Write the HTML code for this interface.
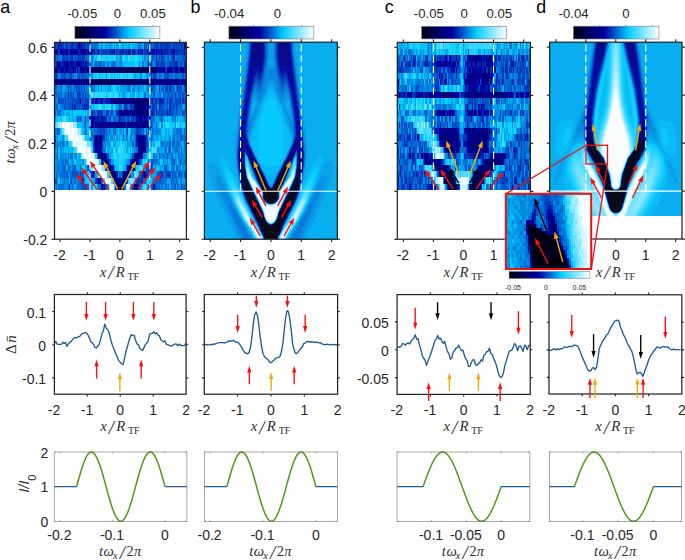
<!DOCTYPE html>
<html><head><meta charset="utf-8"><title>fig</title><style>html,body{margin:0;padding:0;background:#fff}svg{display:block}</style></head><body>
<svg width="685" height="560" viewBox="0 0 685 560" font-family="Liberation Sans, sans-serif" font-size="12px" fill="#262626">
<defs>
<filter id="bl" x="-5%" y="-5%" width="110%" height="110%" color-interpolation-filters="sRGB"><feGaussianBlur stdDeviation="0.6"/></filter>
<clipPath id="cpa"><rect x="54.5" y="42.4" width="131.9" height="147.5"/></clipPath>
<clipPath id="cpb"><rect x="204.4" y="42.2" width="132.9" height="197"/></clipPath>
<clipPath id="cpc"><rect x="397.3" y="42.4" width="133.1" height="147.3"/></clipPath>
<clipPath id="cpd"><rect x="549.7" y="42.2" width="132.3" height="173.7"/></clipPath>
<linearGradient id="cb"><stop offset="0" stop-color="#00000c"/><stop offset="0.2" stop-color="#000068"/><stop offset="0.36" stop-color="#0000a0"/><stop offset="0.5" stop-color="#0060d0"/><stop offset="0.64" stop-color="#00ccff"/><stop offset="0.82" stop-color="#80e6ff"/><stop offset="1" stop-color="#ffffff"/></linearGradient>
<pattern id="xh" width="3.4" height="6.4" patternUnits="userSpaceOnUse"><path d="M0 0L3.4 6.4M3.4 0L0 6.4" stroke="#fff" stroke-width="0.7" opacity="0.09"/><path d="M1.7 0L3.4 3.2L1.7 6.4L0 3.2z" fill="none" stroke="#003080" stroke-width="0.6" opacity="0.06"/></pattern>
</defs>
<rect width="685" height="560" fill="#fff"/>
<g transform="translate(54.5 45.47) scale(1.319 6.1458)" fill="none" stroke-width="1" shape-rendering="crispEdges" >
<path stroke="#00003f" d="M59 4h1M62 4h1M50 23h1"/>
<path stroke="#000050" d="M32 4h1M34 4h2M38 4h1M41 4h1M45 4h1M48 4h1M53 4h1M57 4h1M61 4h1M65 4h4M70 4h2M73 4h1M75 4h1M34 6h1M39 6h2M43 6h1M51 6h1M57 6h1M70 6h1M62 9h1M49 23h1M51 23h1"/>
<path stroke="#000061" d="M27 4h5M33 4h1M36 4h1M39 4h2M43 4h1M47 4h1M50 4h1M52 4h1M54 4h2M58 4h1M63 4h1M76 4h2M15 6h1M28 6h2M32 6h1M35 6h2M42 6h1M47 6h1M49 6h1M52 6h1M54 6h1M59 6h1M61 6h2M66 6h1M69 6h1M73 6h2M63 9h1M65 10h1M44 21h1M48 23h1"/>
<path stroke="#000070" d="M37 4h1M42 4h1M46 4h1M49 4h1M51 4h1M56 4h1M60 4h1M64 4h1M69 4h1M72 4h1M74 4h1M0 6h1M4 6h1M8 6h1M24 6h2M30 6h1M37 6h1M41 6h1M45 6h2M53 6h1M55 6h2M58 6h1M60 6h1M67 6h1M71 6h2M75 6h1M92 6h1M45 9h2M49 9h2M57 9h1M59 9h1M67 9h1M62 10h2M64 11h1M34 15h1M66 16h1M35 18h1M60 19h2M57 20h1M45 21h1M48 22h1M51 22h1"/>
<path stroke="#00007d" d="M26 4h1M44 4h1M95 4h1M6 6h2M12 6h1M26 6h1M31 6h1M33 6h1M38 6h1M44 6h1M48 6h1M50 6h1M63 6h1M68 6h1M77 6h1M83 6h1M85 6h1M88 6h1M93 6h1M47 9h2M52 9h2M55 9h1M58 9h1M64 9h3M68 9h3M72 9h1M64 10h1M67 10h1M50 11h2M53 11h1M57 11h1M62 11h2M65 11h1M68 11h1M28 13h1M34 13h1M36 13h1M49 13h3M55 13h1M62 13h2M66 13h2M31 15h1M63 15h2M32 16h1M64 16h1M67 16h1M33 17h1M64 17h1M61 18h1M63 18h1M37 19h3M42 20h1M58 20h2M53 21h3M46 22h1M52 22h1M47 23h1M60 23h1"/>
<path stroke="#00008a" d="M23 1h1M26 1h1M9 4h1M21 4h1M24 4h1M86 4h1M88 4h1M92 4h1M2 6h2M5 6h1M9 6h1M13 6h1M16 6h1M21 6h3M27 6h1M64 6h2M78 6h2M81 6h1M84 6h1M87 6h1M89 6h2M94 6h1M97 6h1M44 9h1M51 9h1M54 9h1M60 9h2M61 10h1M66 10h1M68 10h1M71 10h1M52 11h1M54 11h2M58 11h3M66 11h2M69 11h2M36 12h1M37 13h1M42 13h2M46 13h2M56 13h1M58 13h2M61 13h1M70 13h1M67 15h1M33 16h1M35 16h1M65 16h1M31 17h1M65 17h1M67 17h1M34 18h1M36 18h2M64 18h2M41 20h1M43 21h1M46 21h1M68 21h1M33 22h1M45 22h1M47 22h1M50 22h1M53 22h1"/>
<path stroke="#000097" d="M1 1h1M4 1h2M12 1h1M15 1h1M17 1h1M21 1h1M24 1h1M28 1h1M9 3h1M16 3h1M18 3h1M2 4h1M5 4h2M13 4h1M15 4h1M19 4h1M22 4h1M25 4h1M79 4h1M85 4h1M87 4h1M91 4h1M93 4h1M97 4h1M99 4h1M1 6h1M10 6h2M14 6h1M17 6h2M20 6h1M76 6h1M80 6h1M82 6h1M86 6h1M91 6h1M96 6h1M98 6h1M29 9h1M35 9h1M42 9h1M56 9h1M71 9h1M70 10h1M61 11h1M64 12h2M68 12h1M31 13h1M33 13h1M38 13h4M45 13h1M48 13h1M52 13h2M57 13h1M64 13h2M68 13h2M32 15h1M65 15h2M31 16h1M34 16h1M63 16h1M66 17h1M68 17h1M33 18h1M62 18h1M36 19h1M59 19h1M62 19h1M39 20h1M55 20h2M29 21h1M52 21h1M56 21h1M49 22h1M36 23h1M52 23h1M61 23h2"/>
<path stroke="#0007a4" d="M18 0h1M20 0h1M26 0h1M98 0h2M0 1h1M2 1h1M6 1h4M13 1h2M16 1h1M19 1h2M22 1h1M33 1h1M45 1h1M56 1h1M63 1h1M66 1h1M72 1h1M74 1h2M77 1h1M81 1h1M89 1h2M2 3h3M7 3h2M10 3h1M12 3h3M17 3h1M20 3h1M23 3h2M0 4h2M4 4h1M8 4h1M11 4h1M14 4h1M17 4h1M20 4h1M78 4h1M80 4h4M96 4h1M19 6h1M99 6h1M19 9h1M31 9h2M36 9h1M39 9h1M43 9h1M60 10h1M69 10h1M49 11h1M56 11h1M71 11h2M27 12h4M49 12h1M62 12h1M66 12h1M69 12h2M72 12h1M27 13h1M29 13h1M32 13h1M35 13h1M44 13h1M60 13h1M35 15h1M62 15h1M68 15h1M30 16h1M68 16h1M32 17h1M34 17h2M63 17h1M38 18h1M66 18h1M40 19h1M58 19h1M40 20h1M43 20h1M60 20h1M34 22h1M35 23h1"/>
<path stroke="#0021b0" d="M3 0h1M5 0h1M13 0h1M16 0h1M19 0h1M22 0h1M85 0h1M96 0h1M10 1h2M18 1h1M25 1h1M30 1h1M39 1h1M41 1h1M43 1h2M50 1h3M54 1h1M57 1h1M59 1h2M65 1h1M70 1h1M73 1h1M78 1h3M83 1h3M88 1h1M93 1h1M98 1h1M13 2h1M77 2h1M90 2h1M1 3h1M6 3h1M11 3h1M15 3h1M19 3h1M21 3h1M92 3h2M98 3h1M3 4h1M7 4h1M10 4h1M12 4h1M23 4h1M89 4h2M94 4h1M98 4h1M73 5h1M95 6h1M8 9h1M26 9h2M34 9h1M40 9h2M74 9h1M77 9h1M79 9h3M95 9h1M13 10h1M15 10h1M22 10h1M24 10h1M79 10h1M87 10h1M33 11h1M35 11h1M48 11h1M74 11h1M77 11h1M85 11h1M31 12h5M37 12h1M63 12h1M67 12h1M30 13h1M54 13h1M71 13h1M30 15h1M33 15h1M36 15h1M36 16h1M62 16h1M39 18h1M60 18h1M57 19h1M63 19h1M44 20h1M27 21h1M42 21h1M47 21h1M66 21h2M21 22h1M32 22h1M63 22h1M66 22h1M11 23h1M37 23h1M46 23h1M63 23h1M75 23h1"/>
<path stroke="#003abd" d="M0 0h1M2 0h1M4 0h1M6 0h1M8 0h2M12 0h1M14 0h1M17 0h1M21 0h1M25 0h1M71 0h1M76 0h3M80 0h2M83 0h2M86 0h2M90 0h1M92 0h1M94 0h1M3 1h1M27 1h1M29 1h1M32 1h1M36 1h3M42 1h1M47 1h1M49 1h1M53 1h1M55 1h1M61 1h1M64 1h1M68 1h2M71 1h1M76 1h1M82 1h1M86 1h2M91 1h2M94 1h4M0 2h1M6 2h2M9 2h1M12 2h1M18 2h2M21 2h2M81 2h1M5 3h1M22 3h1M25 3h1M71 3h1M73 3h1M77 3h2M81 3h1M83 3h1M87 3h1M90 3h2M99 3h1M18 4h1M84 4h1M1 5h1M7 5h1M12 5h1M75 5h2M85 5h1M10 7h1M16 7h1M22 7h1M73 7h1M79 7h1M85 7h1M87 7h1M93 7h1M99 7h1M10 8h1M14 8h1M17 8h2M91 8h1M3 9h1M10 9h1M13 9h1M16 9h1M18 9h1M23 9h1M25 9h1M28 9h1M30 9h1M33 9h1M37 9h2M73 9h1M76 9h1M82 9h1M85 9h1M87 9h2M91 9h3M97 9h1M99 9h1M21 10h1M23 10h1M25 10h1M53 10h2M57 10h3M72 10h1M74 10h2M77 10h1M80 10h1M92 10h1M99 10h1M28 11h1M30 11h1M32 11h1M34 11h1M39 11h2M47 11h1M73 11h1M75 11h1M81 11h1M87 11h1M26 12h1M38 12h2M42 12h1M50 12h1M52 12h1M55 12h2M58 12h2M61 12h1M73 13h1M35 14h1M37 14h1M55 14h1M62 14h2M37 15h1M69 15h1M96 15h1M69 16h1M29 17h2M85 18h1M35 19h1M42 19h1M64 19h1M69 20h1M71 20h3M19 21h1M28 21h1M30 21h1M51 21h1M57 21h1M69 21h2M80 21h2M85 21h3M31 22h1M54 22h1M62 22h1M64 22h2M22 23h1M24 23h1M38 23h1M59 23h1"/>
<path stroke="#0053ca" d="M1 0h1M10 0h2M15 0h1M23 0h2M27 0h1M30 0h1M68 0h1M72 0h2M75 0h1M82 0h1M89 0h1M91 0h1M93 0h1M95 0h1M97 0h1M31 1h1M34 1h2M40 1h1M46 1h1M48 1h1M62 1h1M67 1h1M99 1h1M10 2h1M15 2h3M20 2h1M24 2h1M26 2h1M74 2h1M79 2h1M82 2h2M86 2h1M88 2h2M97 2h3M0 3h1M26 3h2M34 3h1M45 3h1M72 3h1M76 3h1M79 3h2M82 3h1M88 3h2M95 3h2M16 4h1M0 5h1M2 5h1M5 5h2M8 5h1M11 5h1M17 5h2M20 5h2M23 5h1M77 5h1M79 5h1M83 5h2M86 5h1M91 5h1M97 5h1M99 5h1M5 7h1M18 7h1M20 7h1M74 7h2M82 7h1M84 7h1M88 7h1M94 7h3M98 7h1M12 8h1M19 8h1M21 8h1M23 8h1M75 8h1M82 8h1M86 8h1M88 8h1M94 8h2M97 8h1M99 8h1M4 9h3M12 9h1M14 9h2M17 9h1M20 9h3M24 9h1M75 9h1M78 9h1M83 9h1M89 9h1M94 9h1M98 9h1M2 10h1M7 10h2M10 10h3M14 10h1M17 10h3M49 10h1M55 10h1M76 10h1M81 10h2M85 10h1M88 10h3M93 10h1M96 10h1M0 11h1M27 11h1M29 11h1M36 11h1M42 11h2M78 11h3M82 11h3M86 11h1M88 11h2M92 11h1M97 11h2M17 12h1M19 12h1M23 12h1M41 12h1M45 12h1M48 12h1M51 12h1M53 12h1M60 12h1M71 12h1M23 13h1M26 13h1M72 13h1M2 14h1M32 14h3M36 14h1M39 14h1M64 14h2M67 14h1M71 14h2M0 15h1M39 15h1M52 15h1M70 15h1M73 15h1M0 16h1M29 16h1M59 16h1M61 16h1M70 16h1M87 16h1M89 16h1M2 17h1M36 17h1M69 17h1M87 17h1M96 17h1M2 18h1M32 18h1M40 18h1M59 18h1M79 18h1M89 18h1M41 19h1M73 19h2M90 19h1M95 19h1M7 20h1M10 20h1M15 20h1M25 20h1M70 20h1M74 20h1M83 20h1M93 20h1M7 21h1M9 21h1M13 21h5M21 21h1M49 21h1M65 21h1M71 21h1M78 21h2M84 21h1M89 21h1M91 21h1M94 21h1M96 21h1M98 21h2M0 22h2M12 22h1M19 22h2M35 22h1M44 22h1M55 22h1M77 22h1M79 22h2M88 22h1M13 23h1M20 23h2M23 23h1M64 23h1M74 23h1M76 23h2M91 23h1M93 23h1M96 23h1"/>
<path stroke="#006ed6" d="M7 0h1M28 0h1M31 0h2M63 0h2M69 0h1M74 0h1M79 0h1M88 0h1M58 1h1M1 2h3M8 2h1M11 2h1M14 2h1M23 2h1M25 2h1M71 2h1M75 2h2M78 2h1M80 2h1M85 2h1M92 2h5M30 3h3M35 3h1M37 3h1M43 3h2M66 3h2M70 3h1M74 3h1M84 3h3M94 3h1M97 3h1M4 5h1M9 5h2M13 5h2M19 5h1M22 5h1M24 5h2M70 5h1M74 5h1M80 5h1M87 5h3M92 5h3M96 5h1M98 5h1M0 7h2M12 7h1M15 7h1M17 7h1M19 7h1M21 7h1M24 7h1M28 7h1M56 7h1M63 7h1M71 7h1M81 7h1M86 7h1M89 7h2M92 7h1M0 8h6M7 8h3M11 8h1M13 8h1M16 8h1M20 8h1M22 8h1M24 8h2M68 8h1M73 8h1M79 8h2M83 8h3M87 8h1M89 8h2M92 8h1M96 8h1M98 8h1M0 9h1M7 9h1M9 9h1M11 9h1M84 9h1M86 9h1M90 9h1M96 9h1M0 10h2M4 10h1M6 10h1M9 10h1M16 10h1M20 10h1M27 10h1M50 10h1M56 10h1M73 10h1M83 10h2M91 10h1M94 10h2M2 11h3M26 11h1M31 11h1M37 11h2M44 11h1M46 11h1M90 11h2M93 11h3M99 11h1M18 12h1M20 12h1M40 12h1M44 12h1M46 12h2M54 12h1M73 12h3M80 12h2M89 12h1M91 12h1M74 13h1M77 13h1M0 14h1M3 14h1M23 14h2M28 14h1M30 14h2M38 14h1M41 14h1M44 14h3M52 14h1M54 14h1M58 14h1M60 14h2M66 14h1M69 14h1M74 14h1M77 14h1M92 14h5M98 14h1M27 15h3M54 15h1M57 15h2M60 15h2M74 15h1M90 15h1M93 15h1M95 15h1M97 15h3M4 16h1M6 16h1M38 16h1M71 16h2M81 16h2M85 16h1M90 16h1M92 16h3M98 16h2M37 17h1M62 17h1M70 17h1M84 17h1M86 17h1M91 17h3M98 17h1M4 18h1M8 18h1M10 18h1M12 18h2M75 18h1M82 18h1M88 18h1M94 18h1M96 18h1M5 19h2M8 19h3M65 19h1M75 19h3M88 19h2M96 19h1M98 19h2M3 20h1M5 20h2M8 20h1M11 20h1M13 20h2M19 20h1M26 20h1M38 20h1M45 20h1M54 20h1M61 20h1M84 20h1M88 20h1M90 20h1M92 20h1M1 21h1M4 21h3M12 21h1M18 21h1M20 21h1M50 21h1M64 21h1M72 21h1M82 21h2M90 21h1M92 21h1M95 21h1M4 22h1M7 22h1M10 22h1M15 22h1M18 22h1M67 22h2M75 22h2M78 22h1M81 22h4M89 22h2M92 22h2M96 22h1M99 22h1M1 23h1M3 23h4M10 23h1M17 23h3M25 23h2M33 23h2M39 23h1M53 23h1M71 23h1M73 23h1M78 23h2M81 23h1M84 23h1M86 23h1M88 23h1M90 23h1M97 23h3"/>
<path stroke="#008be3" d="M29 0h1M33 0h1M35 0h1M42 0h1M45 0h1M51 0h1M65 0h1M70 0h1M4 2h2M27 2h2M50 2h1M68 2h1M73 2h1M84 2h1M87 2h1M91 2h1M28 3h1M33 3h1M40 3h2M46 3h1M49 3h2M64 3h1M75 3h1M3 5h1M15 5h1M26 5h1M65 5h1M72 5h1M78 5h1M81 5h2M90 5h1M95 5h1M2 7h3M8 7h2M11 7h1M13 7h2M23 7h1M25 7h1M27 7h1M29 7h2M33 7h1M35 7h1M42 7h1M52 7h1M54 7h2M57 7h1M59 7h2M64 7h1M69 7h2M76 7h2M80 7h1M83 7h1M97 7h1M6 8h1M15 8h1M26 8h1M52 8h1M74 8h1M76 8h1M78 8h1M93 8h1M1 9h2M5 10h1M48 10h1M52 10h1M78 10h1M86 10h1M5 11h1M41 11h1M76 11h1M96 11h1M0 12h1M16 12h1M22 12h1M24 12h2M43 12h1M57 12h1M79 12h1M90 12h1M93 12h1M98 12h2M22 13h1M76 13h1M81 13h1M91 13h1M1 14h1M22 14h1M27 14h1M29 14h1M40 14h1M42 14h1M50 14h1M59 14h1M70 14h1M75 14h2M78 14h3M90 14h2M99 14h1M2 15h1M6 15h1M38 15h1M40 15h1M42 15h2M45 15h1M47 15h1M49 15h1M55 15h1M72 15h1M87 15h1M89 15h1M91 15h2M94 15h1M1 16h3M7 16h1M9 16h1M37 16h1M40 16h2M55 16h1M73 16h1M83 16h2M86 16h1M91 16h1M95 16h1M0 17h1M4 17h2M38 17h1M60 17h2M71 17h1M78 17h1M83 17h1M89 17h2M94 17h1M99 17h1M0 18h2M5 18h2M15 18h2M42 18h1M58 18h1M67 18h2M76 18h2M80 18h2M83 18h2M86 18h2M91 18h1M97 18h3M1 19h4M7 19h1M13 19h2M21 19h1M54 19h1M56 19h1M71 19h1M78 19h2M82 19h2M85 19h1M91 19h2M94 19h1M97 19h1M0 20h3M12 20h1M76 20h1M80 20h1M85 20h2M89 20h1M94 20h2M97 20h2M2 21h2M8 21h1M10 21h2M41 21h1M48 21h1M59 21h1M73 21h1M77 21h1M88 21h1M97 21h1M2 22h1M6 22h1M8 22h2M13 22h2M16 22h2M22 22h1M36 22h1M61 22h1M91 22h1M95 22h1M7 23h3M12 23h1M14 23h1M16 23h1M27 23h1M58 23h1M65 23h1M80 23h1M83 23h1M85 23h1M89 23h1M94 23h2"/>
<path stroke="#00a7ef" d="M36 0h1M38 0h4M43 0h1M47 0h2M52 0h1M54 0h1M56 0h1M59 0h1M61 0h2M66 0h2M29 2h1M47 2h1M49 2h1M66 2h1M69 2h2M72 2h1M36 3h1M38 3h2M47 3h2M51 3h1M68 3h2M16 5h1M27 5h2M39 5h1M60 5h2M69 5h1M6 7h2M31 7h1M38 7h1M40 7h2M48 7h1M50 7h2M53 7h1M61 7h2M65 7h3M72 7h1M78 7h1M91 7h1M49 8h1M51 8h1M53 8h1M57 8h1M59 8h2M63 8h2M67 8h1M69 8h4M77 8h1M81 8h1M3 10h1M26 10h1M29 10h1M43 10h1M47 10h1M51 10h1M97 10h2M1 11h1M6 11h2M9 11h3M13 11h1M23 11h1M25 11h1M45 11h1M11 12h1M13 12h2M21 12h1M76 12h3M82 12h2M85 12h1M88 12h1M95 12h1M97 12h1M21 13h1M24 13h2M75 13h1M78 13h1M83 13h1M95 13h1M99 13h1M43 14h1M47 14h1M49 14h1M68 14h1M73 14h1M84 14h1M86 14h1M89 14h1M97 14h1M1 15h1M4 15h1M26 15h1M44 15h1M51 15h1M53 15h1M59 15h1M75 15h4M80 15h2M83 15h2M86 15h1M5 16h1M10 16h1M27 16h1M39 16h1M42 16h1M44 16h3M56 16h3M60 16h1M75 16h1M80 16h1M88 16h1M96 16h2M1 17h1M6 17h1M8 17h1M10 17h1M13 17h1M40 17h2M43 17h1M54 17h2M57 17h1M59 17h1M79 17h4M95 17h1M97 17h1M7 18h1M9 18h1M11 18h1M18 18h1M41 18h1M57 18h1M69 18h1M78 18h1M90 18h1M92 18h2M95 18h1M0 19h1M12 19h1M16 19h4M43 19h2M55 19h1M72 19h1M84 19h1M87 19h1M4 20h1M9 20h1M16 20h3M20 20h1M23 20h2M53 20h1M67 20h2M79 20h1M81 20h2M99 20h1M0 21h1M24 21h1M26 21h1M31 21h1M58 21h1M74 21h3M93 21h1M5 22h1M29 22h2M69 22h1M74 22h1M85 22h3M94 22h1M97 22h2M0 23h1M2 23h1M15 23h1M28 23h1M32 23h1M40 23h1M70 23h1M72 23h1M82 23h1M87 23h1M92 23h1"/>
<path stroke="#00c4fc" d="M34 0h1M37 0h1M46 0h1M50 0h1M53 0h1M55 0h1M57 0h1M60 0h1M31 2h1M35 2h1M39 2h1M54 2h2M64 2h1M67 2h1M29 3h1M42 3h1M52 3h9M63 3h1M65 3h1M29 5h1M34 5h1M36 5h1M45 5h1M49 5h1M55 5h1M62 5h3M66 5h1M68 5h1M71 5h1M26 7h1M32 7h1M34 7h1M36 7h2M39 7h1M43 7h1M47 7h1M68 7h1M39 8h1M50 8h1M55 8h1M58 8h1M62 8h1M65 8h1M28 10h1M37 10h1M46 10h1M12 11h1M14 11h1M16 11h6M1 12h2M4 12h1M10 12h1M12 12h1M15 12h1M84 12h1M86 12h2M92 12h1M94 12h1M96 12h1M17 13h4M88 13h1M90 13h1M4 14h1M21 14h1M25 14h2M48 14h1M51 14h1M53 14h1M57 14h1M81 14h1M83 14h1M85 14h1M87 14h1M3 15h1M5 15h1M7 15h1M23 15h1M25 15h1M41 15h1M48 15h1M50 15h1M56 15h1M71 15h1M79 15h1M85 15h1M88 15h1M8 16h1M26 16h1M28 16h1M47 16h1M49 16h1M51 16h1M53 16h2M74 16h1M3 17h1M7 17h1M9 17h1M11 17h2M42 17h1M46 17h2M52 17h1M72 17h1M85 17h1M88 17h1M3 18h1M14 18h1M19 18h1M43 18h1M48 18h1M56 18h1M11 19h1M20 19h1M23 19h1M46 19h1M48 19h1M53 19h1M66 19h1M70 19h1M81 19h1M86 19h1M27 20h1M46 20h3M52 20h1M75 20h1M78 20h1M87 20h1M91 20h1M96 20h1M22 21h2M32 21h1M11 22h1M23 22h2M26 22h1M28 22h1M72 22h2M66 23h1M69 23h1"/>
<path stroke="#13d0ff" d="M44 0h1M58 0h1M30 2h1M37 2h2M40 2h1M42 2h3M46 2h1M48 2h1M51 2h1M53 2h1M57 2h4M63 2h1M65 2h1M62 3h1M30 5h2M33 5h1M37 5h2M42 5h3M46 5h2M52 5h2M58 5h2M67 5h1M46 7h1M49 7h1M58 7h1M27 8h1M29 8h1M33 8h1M40 8h1M44 8h1M48 8h1M54 8h1M56 8h1M66 8h1M30 10h3M35 10h2M39 10h1M41 10h1M44 10h1M8 11h1M15 11h1M22 11h1M24 11h1M3 12h1M5 12h1M9 12h1M79 13h1M87 13h1M89 13h1M93 13h1M96 13h3M5 14h1M20 14h1M56 14h1M82 14h1M88 14h1M46 15h1M82 15h1M48 16h1M78 16h1M14 17h1M53 17h1M56 17h1M73 17h1M17 18h1M44 18h1M47 18h1M52 18h1M54 18h2M70 18h1M73 18h2M15 19h1M22 19h1M45 19h1M47 19h1M50 19h3M68 19h1M80 19h1M93 19h1M21 20h2M51 20h1M62 20h2M77 20h1M25 21h1M63 21h1M3 22h1M25 22h1M70 22h2M45 23h1"/>
<path stroke="#2dd5ff" d="M49 0h1M32 2h2M36 2h1M41 2h1M61 2h2M61 3h1M32 5h1M35 5h1M40 5h2M48 5h1M50 5h2M54 5h1M56 5h2M44 7h2M30 8h2M34 8h1M36 8h3M41 8h1M43 8h1M45 8h1M47 8h1M61 8h1M33 10h1M38 10h1M40 10h1M45 10h1M6 12h1M0 13h1M80 13h1M84 13h3M94 13h1M9 15h1M24 15h1M11 16h2M43 16h1M50 16h1M52 16h1M76 16h2M79 16h1M15 17h1M39 17h1M44 17h1M50 17h1M58 17h1M77 17h1M31 18h1M45 18h1M49 18h3M53 18h1M71 18h1M34 19h1M49 19h1M67 19h1M50 20h1M66 20h1M40 21h1M27 22h1M60 22h1M29 23h1M31 23h1M57 23h1M67 23h1"/>
<path stroke="#48dbff" d="M34 2h1M45 2h1M52 2h1M56 2h1M32 8h1M35 8h1M42 8h1M46 8h1M34 10h1M42 10h1M7 12h2M82 13h1M92 13h1M28 17h1M45 17h1M48 17h2M51 17h1M74 17h3M46 18h1M69 19h1M49 20h1M64 20h2M62 21h1M37 22h1M56 22h1M30 23h1M68 23h1"/>
<path stroke="#62e0ff" d="M28 8h1M1 13h2M6 14h1M8 15h1M22 15h1M25 16h1M16 17h1M72 18h1M60 21h2M43 22h1"/>
<path stroke="#7ce5ff" d="M16 13h1M19 14h1M13 16h1M20 18h1M24 19h1M28 20h1M37 20h1M57 22h1M59 22h1"/>
<path stroke="#96eaff" d="M3 13h1M5 13h1M14 13h2M18 14h1M30 18h1M36 20h1M33 21h1M58 22h1M54 23h1"/>
<path stroke="#b1f0ff" d="M7 14h1M21 15h1M17 17h1M33 19h1M41 23h1"/>
<path stroke="#cbf5ff" d="M12 13h1M17 14h1M10 15h1M16 16h1M24 16h1M24 17h1M27 17h1M21 18h1M29 20h1M38 21h1M44 23h1M55 23h2"/>
<path stroke="#e5faff" d="M4 13h1M7 13h1M12 14h1M15 14h1M15 15h1M17 15h3M17 16h5M23 16h1M20 17h1M24 18h2M28 18h1M25 19h1M31 19h2M32 20h2M35 20h1M34 21h1M39 22h3M42 23h1"/>
<path stroke="#ffffff" d="M6 13h1M8 13h4M13 13h1M8 14h4M13 14h2M16 14h1M11 15h4M16 15h1M20 15h1M14 16h2M22 16h1M18 17h2M21 17h3M25 17h2M22 18h2M26 18h2M29 18h1M26 19h5M30 20h2M34 20h1M35 21h3M39 21h1M38 22h1M42 22h1M43 23h1"/>
</g>
<g clip-path="url(#cpb)"><g fill-rule="evenodd"><rect x="202.5" y="40.5" width="138" height="202" fill="#00000c"/>
<path fill="#000014" d="M202.5 40.5l138 0l0 202l-65.9 0l.5-2l.4-.7l.4-3.3l2.6-5.8l.3-1.2l.7-1.5l.4-1.5l.6-1.2l.6-1.8l2.4-4.8l.4-1.2l.6-.8l.4-1.2l.6-.9l.4-1.1l.6-.9l.4-1.1l.6-.9l.4-1.1l.6-.9l.3-1.1l.7-1l.3-1l.7-1l.3-1l.7-1l.3-1l.7-1l2-6l.5-2l.5-.9l0-1.9l-1-.9l-1 .4l-1 .9l-2 3.4l-.3 1l-.7 .9l-.4 1.1l-3.6 6.4l-3 6l-1.4 3.6l-.6 .9l-.3 1.1l-1.7 4.4l-.3 1.6l-.7 1.1l-.3 .9l-1.7 2.1l-3 2.6l-1 .3l-1 0l-1-.2l-2-1.5l-1.4-1.3l-1.5-2l-.9-2l-.2-1l-.5-1l-.5-1.6l-.4-.4l-.6-2.6l-.7-1.4l-.3-1l-.6-1l-.4-1.2l-.6-.8l-.4-1.3l-.5-.7l-1.5-3.2l-1.6-2.8l-.4-1l-.7-1l-.3-.8l-.8-1.2l-2.2-4.4l-1-1.7l-1-1.1l-1-.5l-1 .5l-.2 1.2l.2 1.7l.6 1.3l1.4 5.1l12.7 25.9l.3 1.3l.8 1.7l.2 1.1l.5 .9l.5 1.7l1.7 3.3l.3 1.2l.4 .8l.3 1l.3 3l.5 1l.3 1l-64.8 0zM260.5 178.3l0 2.5l1 3l2.5 4.7l1.1 3l0 5l.4 2.2l1 1.3l1.8 1.5l2.2 .4l3-.4l2-1.7l1-1.5l.2-1.8l0-5l.2-1l.6-.9l.3-1.1l.7-1l.3-1l.7-.9l.3-1.1l.7-1l1-3.8l0-1.1l-1-.1l-1 .9l-2 3.3l-.3 .8l-.7 .9l-.4 1.1l-1.7 3l-1.9 1.7l-2 .2l-1-.1l-2-1.8l-.8-1l-1.2-2.7l-3-5.1l-1-1.1z"/>
<path fill="#00001d" d="M202.5 40.5l138 0l0 202l-65.6 0l.6-1.3l.4-2.7l.9-3l1.7-3.2l3.3-8.8l11.7-23.7l3-9.6l.3-3.7l-.1-2l-.2-.5l-1 .1l-1 .9l-2 3.3l-1.4 3.2l-5.6 10.1l-.3 .9l-.7 1l-.3 1l-.7 1l-.3 1l-.7 1l-.3 1l-.7 1.2l-1.5 3.8l-.5 .9l-.3 2.1l-.7 .8l-.4 2.2l-.6 .9l-.3 1.1l-1.4 2l-1.3 1.3l-2 1.5l-1 .5l-1 .1l-3-1.8l-1.5-1.6l-1.3-2l-1-2l-.2-1.7l-.8-1.3l-.2-1.4l-2-4.9l-3-6.2l-3.6-6.5l-.4-1.1l-.6-.9l-.4-1l-.7-1l-.3-.9l-.7-1.1l-1.3-2.9l-2-3.3l-1-1.1l-1-.3l-.4 .6l-.1 2l.5 4.6l.6 1.4l.4 1.9l.5 1.1l.5 2.1l1 2.6l4.7 9.3l.3 .8l.7 1.2l.3 .9l.7 1.1l.3 .9l.7 1.1l.3 1l.7 1l.3 1l.6 1l1.4 3.1l.6 .9l2.4 6.9l2.5 5.1l1.3 5l.2 1.4l.3 .6l-64.3 0zM258.5 175.1l-.2 1.4l.1 1l.9 2l.2 1.1l.5 .9l.5 1.6l3.8 7.4l.3 2l0 5l.9 2.1l2 2l2 .9l2.8 0l2.2-1l1.9-2l.9-3l-.3-4l.2-1l.7-2l.6-.8l1.5-3.2l1.5-2.9l1.4-4.1l.6-1.2l0-2l-1-.3l-1 .2l-1 .5l-1 1.1l-2 4.3l-.5 1.4l-.5 .8l-1.5 3.2l-1.2 2l-2.3 1.6l-1 .1l-2-1.1l-.6-.6l-1.1-2l-.3-1l-.7-1l-.3-.9l-.7-1.1l-.3-1l-.6-1l-.4-1.2l-.5-.8l-.5-1.3l-1-1.3l-1-.7l-1-.2z"/>
<path fill="#000025" d="M202.5 40.5l138 0l0 202l-65.3 0l.3-.6l1.2-5.4l2.8-5.8l2.6-7.2l4.8-10l.6-.9l.4-1.1l.6-.9l.4-1.1l.6-.9l.4-1.1l.6-.9l.4-1.1l.6-.9l.4-1.1l.6-1l.4-1l.6-1l1-2.5l.3-1.5l1.7-4.8l1-4.5l.5-3.7l.1-1l-.6-1.8l-1 0l-1 .9l-1 1.6l-4.3 9.3l-.7 1l-.4 1l-.6 .9l-.4 1.1l-5.6 10.5l-1.5 3.5l-.5 .8l-.3 1.2l-.7 1.2l-.6 2.8l-.4 .5l-.4 1.5l-1.2 3l-1.5 2l-1.9 1.8l-2 1.1l-1 0l-1-.3l-2-1.6l-1.1-1l-1.5-2l-.4-1.2l-.5-.8l-.5-2.2l-.6-.8l-.4-2.3l-.4-.7l-.6-1.8l-.7-1.2l-.3-1l-.6-1l-.4-1.2l-.6-.8l-.4-1.2l-1.6-2.8l-.4-1.1l-.6-.9l-.4-1l-.7-1l-.3-.8l-3.4-6.2l-1.6-3.8l-.7-1.2l-.3-1l-.7-1l-.3-.9l-1-1.7l-1-1.1l-1-.2l-.5 .9l-.4 1l.9 5.7l1 4.1l.5 1.2l1.5 5.1l12.6 25.9l2.4 6.7l2.6 5.3l.4 2.4l.6 1.6l.4 2l-64 0zM257.5 173.2l-.1 1.3l.1 1.4l1 2.9l2 4.9l2.6 4.8l1.2 3l0 5l.2 1.7l1.4 2.3l1.1 1l1.6 1l1.9 .2l2.6-.2l1.7-1l1.7-1.8l1-2.2l-.1-5l.4-2l3.6-7l1.1-2.6l.4-1.4l.6-1.2l1-3.5l0-1.3l-1-.6l-1 .2l-1 .5l-1 1.1l-1 1.4l-1 1.9l-2.3 5.5l-.7 1.1l-1.3 2.9l-.8 1l-.9 .8l-1 .5l-1 .1l-1-.5l-1-.8l-.8-1.1l-2.6-5l-2.6-6.2l-1-1.4l-1-1.1l-1-.6l-1-.3z"/>
<path fill="#00002d" d="M202.5 40.5l138 0l0 202l-65 0l1.4-6l2.6-5.2l2.4-6.8l12.6-25.8l1.5-5.2l.5-1.1l1-3.9l.3-2l.7-2.5l.2-1.5l-.2-4l-1-.7l-1 1l-1.1 1.7l-.9 1.7l-.4 1.3l-.6 .9l-.4 1.1l-.6 1l-.3 1l-2.3 5l-4.4 8.1l-.3 .9l-.7 1l-.3 1l-.7 1l-.3 1l-1.7 3.1l-.3 .9l-1.7 3.7l-2.3 7.3l-1.1 2l-1.6 1.7l-1 .8l-2 1.2l-1 .1l-2-1.1l-1-.8l-1.7-1.9l-.7-1l-1.3-3l-.3-1.5l-.4-.5l-.6-2.8l-2-4.6l-3-6.1l-6.6-12.5l-1.4-3.4l-3-6.5l-1-1.5l-1-1.1l-1 .1l-.3 3.4l.3 3.4l2 8.1l.6 1.5l1.4 4.7l11.5 23.3l3.5 9.2l2.4 4.8l.3 1l.3 2.1l.4 .9l.5 2l-63.9 0zM256.5 171.3l0 1.7l1 3.8l.8 1.7l.2 1l.6 1l.4 1.4l1 2.2l3.7 7.4l.1 1l-.1 4l.3 2.2l1.1 1.8l1.1 1l1.6 1l2.2 .3l3-.3l1.6-1l1.4-1.5l1-1.9l.2-1.6l-.1-4l.4-2l4.5-9l.2-1l1.8-4.3l.8-3.7l0-1l-.8-.7l-1 .2l-1 .5l-1 1.1l-2 2.9l-1 1.9l-.3 1.1l-.7 1.3l-1.5 3.7l-2.1 4l-.7 1l-.7 .7l-1 .3l-1 .1l-1-.3l-.9-.8l-.7-1l-3-6l-1.4-3.6l-1-2l-2-3l-1-1.2l-1-.6l-1-.3z"/>
<path fill="#000036" d="M202.5 40.5l138 0l0 202l-64.9 0l1.5-6l2.4-4.8l2.6-7.2l12.4-25.3l2-6.3l2-7.8l.4-2.6l.2-4l-.1-2l-.5-1.7l-1 .9l-.2 .8l-1.8 3l-.3 1l-.7 1l-.3 1l-1.7 3.6l-2.2 5.4l-5.8 10.7l-3 6.1l-.4 1.2l-.6 1l-.3 1l-.7 1.3l-2.4 7.7l-1.2 2l-1.4 1.5l-3 2l-1 .1l-3-1.9l-1.6-1.7l-1.2-2l-1.4-4l-.8-3.2l-3-6.7l-8.4-16.1l-1.6-4l-.6-1l-2.4-5.6l-1.5-2.4l-.5-1.4l-1-1.3l-.5 .7l-.4 2l.3 5l1.6 7.7l2.9 9.3l11.9 24l3.2 8.6l2.6 5.4l.4 2.5l.8 2.5l-63.8 0zM256.5 168.7l-1 .8l.1 1l.9 3.8l.5 1.2l.5 1.8l.6 1.2l1.4 3.9l4.6 9.1l.1 1l-.1 4l.4 2.4l1 1.7l.9 .9l1.6 1l2.5 .4l3-.3l1.8-1.1l1.2-1.2l1-1.7l.2-1.1l.1-6l3.7-7.5l1-2.1l.4-1.4l1.6-3.7l1-3.2l.6-3.1l0-1l-.6-.8l-1 .2l-1 .6l-1 1l-3 4.7l-1 1.8l-2.2 5.5l-3.2 6l-.6 .5l-1 .4l-1 0l-1-.2l-1.5-1.7l-2-4l-2.5-6.1l-3-5.2l-2-2.6l-1-.6z"/>
<path fill="#00003e" d="M202.5 40.5l138 0l0 202l-64.9 0l.5-2l.4-.8l.3-2.2l2.7-5.5l3.2-8.5l11.8-23.9l2-6.2l2-7.5l.7-3.4l.4-5l-.1-5.2l-1-.5l-1 2l-.7 2.7l-1.9 4l-2.4 5.2l-2.4 5.8l-5.6 10.5l-4 8.2l-.4 1.3l-.6 1l-1 3l-.1 1l-.9 2.1l-.5 1.9l-1.3 2l-1.2 1.4l-3 1.9l-1 .1l-3-1.8l-1.4-1.6l-1.3-2l-2.3-7.4l-1.7-3.6l-.3-1.1l-4-8l-4.8-8.9l-2.2-5.3l-1.7-3.7l-.3-1l-2.6-5l-.4-2.2l-1-2.2l-1-.2l-.3 3.6l.3 7l2 8.3l2 6.4l1 2.7l11.6 23.6l3.4 9l1.6 3l.9 2l.5 2.9l.7 2.1l-63.7 0zM255.5 166.6l-.8 .9l.1 1l.7 3.2l1 3.1l3 7.9l4.4 8.8l.2 1l-.2 4l.6 2.7l1 1.5l.8 .8l1.5 1l2.7 .5l2-.1l1.5-.4l1.5-1l1-1l1-1.7l.3-1.3l-.1-5l.2-1l4.6-9.3l1.3-3.7l.7-1.4l2-6.1l.5-3.5l-.5-.9l-1 .2l-1 .5l-2 2.5l-4 6.9l-2.3 5.8l-2 4l-1.3 2l-1.4 .8l-1 .1l-1-.4l-1.3-1.5l-1.1-2l-2.3-5l-1.3-3.4l-3-5.4l-2-3l-1-1.2l-1-.7z"/>
<path fill="#000047" d="M202.5 40.5l138 0l0 202l-64.8 0l.8-2.5l.4-2.5l2.6-5.2l3.3-8.8l11.7-23.7l3-9.3l2-8.4l.6-9.6l-.2-3l-.4-1.1l-1 1l-1 2.8l-.4 2.3l-.9 3l-.7 1l-.3 1l-.6 1l-4.6 11l-6.5 12.2l-3 6.3l-1 2.3l-1 2.9l-.1 1.3l-.9 1.8l-.7 2.2l-.5 1l-1.8 2.2l-2 1.5l-1 .4l-1 .1l-1-.4l-2-1.4l-1.3-1.4l-1.3-2l-1.4-4l-1-3.7l-.7-1.3l-.3-1.1l-4-8.2l-5.7-10.7l-3.3-8l-.6-1l-.4-1.3l-1.8-3.7l-.8-2l-.4-2.6l-.6-1.4l-.4-1.6l-1-1.5l-.7 1.1l-.2 2l.8 11l2.1 8.7l2 6.4l1 2.6l11.5 23.3l2.5 6.8l3.3 7.2l.7 3.2l.7 1.8l-63.7 0zM254.5 164.9l-.5 .6l0 1l.5 2.6l2 6.2l3 7.6l4.3 8.6l.3 1l-.3 4l.7 3l1.7 2l1.3 1l3 .7l2-.2l1.7-.5l1.4-1l1-1l.9-1.5l.3-1.5l.1-2l-.1-3l.2-1l4.5-9l2.3-6l2.7-8l.3-2l0-1l-.3-.5l-1 0l-1 .4l-1 .9l-1 1.4l-4 6.9l-1 1.9l-2.5 6l-2.6 5l-.9 1.2l-1 .5l-1 .1l-1-.4l-.5-.4l-1.2-2l-2-4l-2.3-5.6l-5-8.9l-1-1.5l-1-1l-1-.5z"/>
<path fill="#00004f" d="M202.5 40.5l138 0l0 202l-64.7 0l.7-2.2l.6-2.8l.8-2l1.6-3l3.4-9l11.6-23.5l3-9.1l2.1-8.4l.9-8.9l.2-5.1l-.2-2.8l-1-.4l-1 2.2l-.4 2l-.6 1.4l-1.1 5.6l-.4 1l-1.5 2.9l-.3 1.1l-4.3 10l-5.4 10l-4 8.3l-2 5.1l-.2 1.6l-.8 1.6l-.3 1.4l-1 2l-1.7 2l-1 .9l-1 .7l-1 .4l-1 0l-1-.3l-2-1.4l-1.1-1.3l-1.4-2l-1.4-4l-.1-.8l-1-3.2l-.6-1l-.4-1.3l-4-8.2l-5.6-10.5l-2.4-6l-1.5-3l-.5-1.7l-1-2.2l-.7-1.1l-2.3-9.4l-.7-1.6l-.3-1l-1-.2l-.4 2.2l.1 3l.3 5.3l.9 7.7l2.1 8.1l2 6.4l1 2.5l11.4 23l2.6 7.1l3.2 6.9l.8 3.5l.6 1.5l-63.6 0zM253.5 163.3l-.3 1.2l.3 2.1l3 9l3 7.5l4.2 8.4l.3 1l-.3 4l.7 3l1.1 1.4l2 1.6l3 .8l1 0l2-.5l.9-.3l1.3-1l1.6-2l.4-1l.3-2l-.1-4l.2-1l4.4-8.8l3.1-8.2l1.9-5.4l1-3.4l.1-1.2l-.1-1.1l-1-.2l-1 .4l-1 .8l-2 2.8l-5 9l-2.6 6.3l-2.6 5l-.7 1l-1.1 .7l-1 0l-1.3-.7l-1.3-2l-2-4l-2.4-5.9l-5-9.1l-2-2.9l-1-.9l-1-.4z"/>
<path fill="#000057" d="M202.5 40.5l138 0l0 202l-64.7 0l.7-2l.7-3l3.3-7.1l2.5-6.9l11.5-23.2l1-2.6l2-6.4l2-7.8l1-7.9l.8-9.1l-.8-4.6l-1 .2l-1 3.2l-.3 2.2l-.7 2.3l-.4 2.7l-.6 2l-.2 2l-1.8 3.6l-4.7 11.4l-5.3 9.9l-4 8.2l-2 5l-.3 1.9l-.7 1.3l-.4 1.7l-1 2l-1.6 1.9l-1 .9l-2 1.1l-1 0l-1-.3l-2-1.5l-1.8-2.1l-.6-1l-1.5-4l-.1-1.1l-1-3l-1-2.3l-4-8.3l-5.5-10.3l-4.5-11l-1.6-3l-1-4l-.4-2.8l-.7-2.2l-.3-2.1l-1-3.9l-1-.8l-1 3.6l0 2.3l1.7 14.9l2.3 9.5l2 6.3l.9 2.2l11.3 23l2.8 7.4l2.7 5.6l1.8 6l-63.5 0zM288.5 161.5l-1 .3l-1 .7l-2 2.7l-2 3.3l-4 7.5l-2.7 6.5l-2 4l-1.3 1.9l-1 .7l-1 0l-1-.5l-1.5-2.1l-2-4l-2.4-6l-1.1-2l-5-9l-2-2.8l-1-.8l-1-.4l-1 .3l-.1 .7l.1 1.3l1 3.4l2.2 6.3l1.8 5l2 4.8l3.7 7.2l.7 2l-.3 4l.9 3.2l1.5 1.8l1.3 1l2.2 .8l2 .1l3-.9l2-1.7l1-1.4l.6-2.9l-.2-4l.3-1l4.3-8.6l3-7.5l2-5.7l.6-2.2l.4-.9l1-3.9l0-.4z"/>
<path fill="#000060" d="M202.5 40.5l138 0l0 202l-64.6 0l.6-1.8l.8-3.2l3.2-6.9l2.7-7.1l11.3-23l1-2.5l2-6.4l2.1-8.1l.9-6.6l1.1-10.4l-.1-4.9l-.2-1.1l-.8-2.3l-1 .8l-1 3.9l-.3 3.6l-.7 2.4l-.4 2.6l-.6 2.4l-.3 2.6l-1.4 3l-4.7 11l-6.6 12.7l-3 6.2l-2 5l-.3 2.1l-.7 1.1l-.4 1.9l-1 2l-1.6 1.8l-1 .9l-2 1.1l-1 .1l-1-.4l-2-1.5l-1.7-2l-.6-1l-1.5-4l-.2-1.3l-1-3l-1-2.3l-3-6.4l-6.4-12l-4.6-11.2l-1.5-2.8l-1.1-5l-.4-2.6l-.7-2.4l-.3-3.3l-1-4.8l-1-1.3l-1 1.8l-.2 6.6l.2 3.4l1.6 12.6l2.4 9.8l2 6.3l.8 1.9l11.8 24l2.4 6.6l2.7 5.4l1.7 6l-63.4 0zM252.5 159.8l-1 .7l.1 1l1.9 6.2l5 13.5l1 2.3l3.6 7l.7 2l-.3 4l.5 2l.5 1.3l1 1.3l2 1.5l2.8 .9l2.2-.2l2.1-.8l1.9-1.6l1-1.3l.7-3.1l-.2-4l.3-1l4.2-8.4l4-10.3l3-8.7l.5-2.6l.1-1l-.6-.7l-1 .2l-1 .7l-1 1.1l-2 3l-3 5.4l-3 5.7l-2.8 6.6l-2.5 5l-.7 .8l-1 .7l-1 .1l-1-.6l-1.4-2l-2-4l-2.6-6.3l-4-7.5l-3-5.2l-2-2.6l-1-.8z"/>
<path fill="#000068" d="M202.5 40.5l138 0l0 202l-64.5 0l1.4-5l3.1-6.7l2.8-7.3l11.3-23l.9-2.3l2-6.3l2.4-9.4l1.6-12.7l.3-4.3l-.3-9.8l-1-.9l-1 .8l-1 5l-.5 5.9l-1.5 6.7l-.4 3.3l-1.5 3l-4.6 11l-6.5 12.5l-4 8.5l-1 2.7l-.4 2.3l-.6 1l-.5 2l-1 2l-1.5 1.8l-1 .8l-2 1.1l-1 .1l-1-.4l-2-1.5l-1.7-1.9l-.5-1l-1.6-4l-.2-1.6l-2-5.2l-4-8.3l-5.3-9.9l-4.7-11.3l-1.3-2.7l-.4-1l-1.3-7.4l-.7-2.6l-.3-4.4l-1-5.9l-1-1.4l-1 .5l-.3 3.2l-.2 7l.5 5.8l1.4 11.2l2.6 10l2.3 7l12.2 25l2.5 6.8l2.6 5.2l1.7 6l-63.3 0zM251.5 157.9l-.6 .6l0 1l.6 2.9l.5 1.1l.5 1.8l4 11.1l2 5l4.9 10.1l.3 1l-.3 3l.1 1.9l.8 2.1l1.5 2l1.3 1l2.4 1l2.6 0l2.4-.9l1.5-1.1l1.5-1.8l.8-3.2l-.2-4l.3-1l4.1-8.2l2-4.9l2.9-7.9l3.1-8.8l.3-2.2l.1-1l-.4-.6l-1 .2l-1 .6l-1 1.1l-2 3l-3 5.3l-4 7.6l-3.4 7.8l-2 4l-.6 .7l-1 .7l-1 .1l-1-.6l-1.3-1.9l-2-4l-2.7-6.4l-5-9.6l-3-5l-2-2.6l-1-.7z"/>
<path fill="#00006e" d="M202.5 40.5l138 0l0 202l-64.5 0l1.8-6l2.7-5.5l2.4-6.5l11.8-24l.8-2l2-6.3l2.5-9.7l1.5-12l.5-5l-.1-9l-.2-2l-.2-.7l-1-.9l-1 .5l-1 4.7l-.6 7.4l-.8 5l-.6 2.2l-.5 3.8l-1.5 3l-4.6 11l-6.4 12.4l-4 8.5l-1 2.6l-.4 2.5l-.7 1l-.5 2l-1 2l-1.4 1.7l-1 .8l-2 1.2l-1 0l-1-.4l-1-.6l-1.8-1.7l-.8-1l-1-2l-.4-1.5l-.7-1.5l-.3-1.8l-2-5.1l-4-8.3l-5.2-9.8l-4.8-11.5l-1.7-3.5l-.3-2.7l-1.5-7.3l-.5-6.5l-.9-5.5l-.1-.7l-1-1l-1 .7l-.7 2l0 11l1.7 14l.8 4l1.2 4.9l3 9.7l12.4 25.4l2.6 7l2.5 5l1.8 6l-63.3 0zM250.5 156l-.4 .5l0 1l.4 2.4l3 8.5l5 13.2l4.8 9.9l.3 1l-.2 4l.1 1.2l.3 .8l.7 1.6l1.2 1.4l1.3 1l2.3 1l3.2 0l2-.8l1.6-1.2l1.4-1.7l.9-3.3l-.3-4l.8-2l3.6-7l1-2.4l4.7-12.6l2.3-6.1l.5-1.9l.5-1.3l.2-1.7l0-1l-.2-.4l-1 0l-1 .6l-1 1.1l-3 4.6l-5 9.2l-3 6l-2.4 5.9l-2.1 4l-.5 .6l-1 .7l-1 .1l-1-.6l-1.2-1.8l-2-4l-2.8-6.6l-5-9.6l-3-5.2l-1-1.6l-2-2.6l-1-.7z"/>
<path fill="#000075" d="M202.5 40.5l138 0l0 202l-64.4 0l1.8-6l2.6-5.3l2.5-6.7l12.2-25l2.6-8l2.3-9l1.4-10.8l.6-5.2l.2-11l-.1-1l-.7-2.1l-1-1.4l-1 .4l-1 4.2l-.5 6.9l-.9 7l-.6 2.7l-.6 4.3l-1.5 3l-4.5 11l-6.4 12.2l-4 8.6l-1 2.6l-.5 2.6l-.6 1l-.5 2l-1.1 2l-1.3 1.6l-1 .9l-2 1.1l-1 .1l-1-.5l-1-.6l-1.7-1.6l-.8-1l-1.1-2l-.4-1.7l-.7-1.3l-.3-2l-2-5.1l-3-6.2l-6.6-12.7l-4.4-10.7l-1.6-3.3l-.4-3.2l-1.3-6.8l-.7-8.7l-.5-3.3l-.5-2.6l-1-1.1l-1 1.3l-1 2.4l.1 11l1.9 15.7l2 8.3l3 9.8l12.3 25.2l2.7 7.2l2.4 4.8l1.8 6l-63.2 0zM249.5 154.1l-.3 1.4l.3 2l2 5.8l7 18.5l4.8 9.7l.2 1l-.2 4l.4 2l.8 1.7l1.1 1.3l1.3 1l2.2 1l2.4 .1l1-.1l1-.3l1.4-.7l1.3-1l1.3-1.6l.8-2.4l.2-1l-.3-3l0-1l.4-1l4.9-10.2l3-7.8l2.5-7l2.5-6.6l1-3.2l.1-1.2l-.1-1.3l-1-.1l-1 .6l-1 1.1l-3 4.6l-5 9.1l-4 7.9l-2.5 6.1l-2.1 4l-1.4 1.3l-1 0l-1-.6l-1.1-1.7l-2-4l-2.9-6.8l-5-9.6l-4-7l-1-1.7l-2-2.5l-1-.7z"/>
<path fill="#00007b" d="M202.5 40.5l138 0l0 202l-64.4 0l1.9-6l2.5-5.1l2.6-6.9l12.2-25l2.6-8l2.3-9l2.1-16l.2-12.3l-1-3.2l-1-1.9l-1 .2l-1 4.3l-.5 7.9l-1 8l-.5 2.2l-.7 4.8l-1.3 2.7l-4.7 11.3l-6.3 12.1l-4 8.6l-1 2.5l-.5 2.8l-.6 1l-.6 2l-1.1 2l-1.2 1.5l-1 .9l-2 1.1l-1 .1l-2-1.1l-1-.8l-1.5-1.7l-1-2l-.5-1.9l-.7-1.1l-.3-2.2l-2-5l-3-6.3l-6.5-12.5l-4.5-10.9l-1.5-3.1l-1.8-11l-.8-11l-.9-4.7l-1-.9l-1 1.7l-1 2.8l-.2 1.1l.1 11l2.1 16.4l1 4.3l1.7 6.3l2.3 7l11.7 24l3.2 8l2.8 6l1.4 5l-63.1 0zM248.5 152.2l0 2.7l1 3.3l6.8 18.3l2.9 7l4 8l.3 1l-.2 4l.4 2l.8 1.8l1 1.2l1.3 1l2.1 1l1.6 .2l2.4-.2l2.1-1l1.2-1l1.3-1.6l1-2.9l-.2-4.5l.3-1l4.9-10l6.4-17l2.6-6.8l1-4.2l-.1-1l-.9-.6l-1 .6l-1 1l-3 4.8l-5 9.1l-4.2 8.1l-3.4 8l-2.1 4l-1.3 1.2l-1 0l-1-.6l-.5-.6l-2.5-5l-3-6.9l-5-9.7l-5-8.9l-2-3.1l-1-1.3l-1-.6z"/>
<path fill="#000081" d="M202.5 40.5l138 0l0 202l-64.3 0l1.8-6l2.5-5l2.7-7l12.2-25l2.5-8l2.4-9l2.2-16l.2-11l-.2-2.3l-1-3.6l-1-2.3l-1-.4l-1 4.9l-.6 8.7l-.8 8l-1.4 8l-1.2 2.6l-5.3 12.4l-5.7 11l-4 8.5l-1 2.5l-.6 3l-.6 1l-.2 1l-.8 2l-1.8 2.5l-1 .8l-2 1.1l-1 .1l-2-1l-1-.9l-1.4-1.6l-1.1-2l-.5-2l-.6-1l-.4-2.3l-1-2.7l-4-8.6l-6.4-12.4l-4.6-11l-1.4-3l-.6-4.1l-.6-2.9l-.7-5l-.7-11l-1-5.9l-1-.7l-1 2.2l-1 3.2l-.4 3.2l.3 11l2.1 16l.7 3l1.3 4.8l2.9 9.2l11.8 24l3.3 8.5l2.7 5.5l1.3 5l-63 0zM248.5 149.8l-.8 .7l-.1 1l.9 4.4l10 26.3l4.6 9.3l.3 1l-.1 4l.3 2l.9 1.9l.9 1.1l1.3 1l2 1l1.8 .2l2.5-.2l2.1-1l1.2-1l1.2-1.5l1-2.5l.1-2l-.2-3l.3-1l4.9-10l6.9-18.1l3-8.1l.6-3.8l-.1-1l-.5-.8l-1 .5l-1 1.1l-4 6.7l-5 9.2l-5 9.9l-2.7 6.4l-2.1 4l-1.2 1.1l-1 .1l-1-.7l-.4-.5l-1.1-2l-4.5-10l-5-9.8l-5-9.1l-3-5.1l-1-1.1z"/>
<path fill="#000088" d="M202.5 40.5l52.1 0l-.9 12l.3 3l.5 1.6l1-.8l2.3-3.8l.4-1l.3-11l24.7 0l.1 6l.2 1.5l.2 3.5l.3 1l2.5 4l1 .5l.3-1.5l.3-3l-.6-9l-.4-3l53.4 0l0 202l-64.2 0l1.8-6l2.5-5l2.7-7l12.2-25.1l2.5-7.9l2.1-8l2.5-17l.3-11l-.4-3.4l-1-3.9l-1-2.8l-1-1.1l-.3 1.2l-.7 4.1l-1.3 17.9l-1.4 8l-.6 2l-6 14l-5.7 10.9l-3 6.2l-2 4.8l-.6 3.1l-.6 1l-.2 1l-.9 2l-1.3 2l-1.4 1.2l-2 1.2l-1 0l-2-1l-1-.8l-1.3-1.6l-1.1-2l-.6-2l-.6-1l-.4-2.4l-1-2.7l-4-8.6l-6.3-12.3l-6-14l-1.5-9l-.7-7l-.5-9l-.9-6l-.1-.5l-1-.1l-1 2.7l-1 3.6l-.5 3.3l.2 12l2.2 16l1 4l1.1 4l2.8 9l11.8 24l3.4 8.6l2.6 5.4l1.4 5l-63 0zM247.5 147.4l-.6 1.1l.1 1l.5 3.5l1 3.4l10 25.9l4.6 9.2l.2 1l-.1 4l.3 2l1 2l.9 1l1.2 1l1.9 1l2 .3l2.7-.3l1.9-1l1.3-1l1.1-1.4l1-2.6l-.1-5l.3-1l5-10l8-21l1.9-5l.9-3.4l.3-2.6l.1-1l-.4-1.1l-1 .4l-1 1.1l-2 3.2l-8 15l-5 9.8l-2.8 6.6l-2.1 4l-1.1 1l-1 .1l-1.3-1.1l-1.1-2l-4.5-10l-6.1-11.9l-5.6-10.1l-.4-1l-2-3.3l-1-1.2zM260.5 46.4l-1.3 1.1l-.3 1l-.2 3l.3 2l.2 3l.3 1l1 1.2l1-2.2zM281.5 45.9l-1 6.7l-.2 3.9l.2 1.1l1 1.1l1.1-2.2l.1-3l.5-2l-.2-3l-.5-.2l-.5-1.8z"/>
<path fill="#00008e" d="M202.5 40.5l51 0l-1 13.7l-.1 4.3l.2 4l.3 1l.6 1l3-4.8l1-1.1l1 .4l1 1.9l1 .7l1-2l.6-3.1l-.5-16l18.6 0l-.6 16l.9 3.7l1 1.5l1-1.2l1-1.8l1 0l1 1.3l2 3.3l1 1.3l.4-1.1l.3-2l.2-4l-1.2-17l52.3 0l0 202l-64.2 0l1.5-5l2.9-6l3.1-8l11.8-24l2.2-7l2.7-10l2.2-16l.3-11l-.3-3l-1.2-5.7l-1-3.4l-1-2.3l-.6 1.4l-.3 1l-1.4 23l-1.3 8l-.7 3l-6.1 14l-4.6 8.8l-4 8.2l-2 4.8l-.7 3.2l-.5 1l-.3 1l-.8 2l-1.4 2l-1.3 1.1l-2 1.2l-1 .1l-2-1.1l-1-.8l-1.3-1.5l-1.1-2l-.5-2l-.6-1l-.5-2.6l-1-2.6l-4-8.6l-6.2-12.2l-6.1-14l-1.6-10l-1.3-20l0-3l-.8-2.3l-1 1.5l-1 3.4l-1 3.9l-.7 5.5l.3 11l2.2 16l2.1 8l2.8 9l11.8 24l3.5 8.8l2.5 5.2l1.4 5l-62.9 0zM245.5 144l-.3 .5l.2 1l1.7 6l.4 2.3l1 3l10 25.7l4.5 9l.3 1l-.1 4l.3 2.1l.9 1.9l.9 1l1.2 1l2 1l3 .3l1.9-.3l1.8-1l1.3-1l1-1.3l1.1-2.7l-.1-5l.3-1l4.9-10l9.7-25l1.1-3.5l.5-2.5l1.7-6l-.2-.6l-1 .5l-2 2.1l-2 3.3l-2.3 4.7l-7.7 14.4l-4 7.9l-2.8 6.7l-2.1 4l-1.1 .9l-1 .1l-1.3-1l-1-2l-4.5-10l-14.2-27.2l-2-2.8z"/>
<path fill="#000095" d="M202.5 40.5l50.5 0l-1.5 19.8l-.1 4.2l.1 6.6l.4 .4l.6 .2l3.6-8.2l1.4-1.9l1 .5l1 2l1 .4l1-2.4l1.1-5.6l-.4-16l17.3 0l-.3 16l.3 2.2l1 4.1l1 1.8l1-.9l1-1.9l1-.1l1.2 1.8l3.8 8.6l.4-.6l.3-1l.3-2l0-3l-1-16.6l-.7-8.4l51.7 0l0 202l-64.1 0l1.4-5l2.9-6l3.2-8l11.7-24l2.9-9.1l2.1-7.9l2.1-15l.5-12l-.7-5.6l-1.5-6.4l-1.5-8.1l-1.5 5.1l-.8 1l-1.7 1.2l-1 1.2l-2 3.4l-3.5 7.2l-11 21l-3.4 8l-2.1 4l-1 .8l-1 .1l-1.2-.9l-1.1-2l-4.4-10l-15.3-29.6l-2-3l-1.9-1.4l-.8-1l-.6-2l-.7-3.7l-1.4 7.7l-1.6 6.3l-.9 6.7l.4 11l2.2 16l2.1 8l2.9 9l11.7 24l3.6 8.9l2.5 5.1l1.4 5l-62.9 0zM244.1 146.5l.4-.6l1.4 2.6l1.6 5.8l1 2.8l8.7 22.4l1.2 3l4.6 9l.2 1l-.1 4l.4 2.2l.9 1.8l.9 1l1.2 1l2 1.1l3 .2l2-.3l1.8-1l1.2-.9l1-1.3l.4-.8l.7-2l0-5l.2-1l5-10l9.7-24.9l2.5-8.1l.5-1.3l1-1.4l.5 1.7l.1 2l-.9 16l-1.2 8l-.9 4l-6.1 14l-5.5 10.7l-4 8.5l-1.1 2.8l-.6 3l-.6 1l-.2 1l-.9 2l-1.4 2l-1.2 1.1l-2 1.1l-1 .1l-2-1.1l-1-.8l-1.2-1.4l-1.1-2l-.6-2l-.6-1l-.5-2.7l-1-2.7l-4-8.5l-5.7-11.1l-6.5-15l-1.5-9l-.6-8l-.4-10l0-2z"/>
<path fill="#00009b" d="M202.5 40.5l50 0l-2 26.3l-.5 11.7l.2 2l.3 .9l4.6-12.9l1.4-3.2l1-1.1l1 .9l1 2.2l1 0l1-2.7l1-4.6l.5-3.5l-.3-16l16.4 0l-.3 16l.7 4.6l1 4.2l1 2.2l1-.6l1-2.2l.5-.2l.5-.2l1 1.4l1.6 3.8l3.4 9.9l.7 1.1l.3 1.1l.3-3.1l-.3-8.1l-2.3-29.9l51.3 0l0 202l-64 0l1.4-5l2.9-6l3.2-8l11.7-24l2.8-8.8l2.2-8.2l2.1-15l.5-12l-.8-6.8l-1.6-8.2l-1.4-10.9l-1-4.3l-.5 .2l-.2 1l.2 5l-.1 4l-.2 2l-.5 2l-2.7 3.4l-1 2l-4.6 9.6l-11.4 22l-2.5 6l-2.5 4.8l-1 .9l-1 .1l-1.1-.8l-1.1-2l-4.5-10l-10.9-21l-5.4-11.2l-2.9-3.8l-.7-3l-.1-5l.2-5l-.1-1l-.4-.9l-1 4l-1.6 11.9l-1.4 7.1l-1 6.9l.4 12l2.2 16l2.1 8l2.9 9l11.8 24l3.6 9l2.4 5l1.4 5l-62.8 0zM244.3 147.5l.2-.4l1 1.4l.4 1l1.6 5.2l9.6 24.8l1.2 3l4.6 9l.3 1l0 5l.3 1.3l.9 1.7l.8 1l1.3 1.1l2 1l3 .3l2-.4l1.9-1l1.1-.9l1-1.2l.5-.9l.7-2l-.1-5l.3-1l5-10l9.6-24.7l1-2.8l.7-2.5l1.3-3.5l1-.8l.3 2.3l-.1 6l-.6 11l-1.1 7l-.9 4l-6.1 14l-5.5 10.6l-4 8.5l-1.1 2.9l-.7 3l-1.6 4l-1.5 2l-1.1 1l-2 1.1l-1 .1l-2-1l-1-.8l-1.1-1.4l-1.2-2l-.5-2l-.7-1l-.5-2.9l-1-2.6l-4-8.6l-5.6-10.9l-6.5-15l-1.7-10l-.7-14l0-3z"/>
<path fill="#0002a1" d="M202.5 40.5l49.7 0l-3.7 43.6l-.2 5.4l.2 2l.6-2l.4-.4l4.7-15.6l2.3-5.9l1-.9l1 1.4l1 2.3l1-.3l1-2.9l1-4.8l.9-5.9l-.3-16l15.6 0l-.3 16l1.1 7l1 4.4l1 2.5l1-.3l1-2.4l1-1l1 1.2l2.5 6.6l4.5 15.2l.8 .8l.2 1l-.2-6l-3.7-45l50.9 0l0 202l-64 0l1.5-5l2.8-6l3.2-8l11.8-24l2.9-9l1.8-7l2.5-17l.4-12l-.9-7l-1.4-8l-1.6-13.6l-1.5-6.4l-.5-3.4l-.6-1.6l-.4-3.8l-.2 .8l0 3l.5 5l0 4l.5 9l-.2 4l-.5 2l-.4 1l-1.7 2.7l-.5 1.3l-2.5 4.9l-2.8 6.1l-11.3 22l-2.5 6l-1.4 2.8l-1.2 2.2l-.8 .7l-1 0l-1-.7l-1.1-2l-4.5-10l-10.8-21l-5.3-11l-.3-.9l-2.3-4.1l-.6-3l-.1-4l.4-7l.1-6l.2-2l.3-.7l.2-2.3l-.2-3.8l-.4 3.8l-.2 1l-.4 .5l-.5 3.5l-1.5 6.4l-1 6.4l-.4 5.2l-.8 6l-.8 3.8l-1.2 8.2l.5 12l2.3 16l2 8l2.9 9l11.8 24l3.6 9l2.5 5l1.4 5l-62.8 0zM244.4 148.5l.1-.4l1 .9l.2 .5l1.8 5.5l10.7 27.5l4.6 9l.3 1l.1 1l-.1 4l.4 1.5l.8 1.5l1.2 1.3l1 .8l2 1.1l3 .2l2-.3l2-1.1l1-.8l1-1.2l.5-1l.7-2l0-5l.3-1l5-10l9.5-24.4l1-2.6l.8-3l1.2-2.8l1-.2l.2 3l-.6 14l-.4 3l-1.4 8l-.3 1l-6.1 14l-5.4 10.5l-4 8.5l-1.2 3l-.6 3l-1.7 4l-1.4 2l-1.1 .9l-2 1.2l-1 .1l-1-.5l-2-1.4l-1.7-2.3l-.9-2l-.2-1l-.6-1l-.6-3l-2-4.8l-4-8.4l-4.6-8.8l-6.1-14l-.7-3l-1.3-8l-.6-11l-.1-5z"/>
<path fill="#000fa7" d="M202.5 40.5l49.5 0l-1 12l-1.9 20l-1.6 14.4l-.7 8.6l-3.7 24l-1.6 8.6l-1.4 13.4l-1.9 13l.5 11l2.3 17l2 8l2.2 7l.7 2l11.8 24l3.6 9l2.5 5l1.4 5l-62.7 0zM263.5 40.5l14.8 0l-.3 16l1.5 9.4l1 4.6l1 2l1 .1l2-3.6l1 1l1.1 2.5l1.3 4l5.2 19l3 24l.8 12l-.2 4l-.7 3l-7.9 17l-10.8 21l-3 7l-1.8 3.5l-1 1.1l-1 0l-1-.7l-2.1-3.9l-3.4-8l-10.8-21l-5.2-11l-.5-1.6l-1.7-3.4l-.5-2l-.3-2l-.1-3l.9-13l2.9-23l5.2-19l1.3-4l1.3-2.9l1-.5l1.1 2.4l.9 1.2l1-.4l1-2.5l1-5l1.3-8.3zM289.8 40.5l50.7 0l0 202l-27 0l-36.9 0l1.4-5l2.9-6l3.2-8l11.8-24l2.9-9l2-8l2.3-16l.5-12l-.9-7l-.9-5l-1.3-12.7l-1-6.6l-1.4-7.7l-3.1-20l-.5-6.5l-3.6-35.5zM244.4 149.5l.1-.4l1 .5l2 5.7l10.7 27.2l4.6 9l.3 1l0 1l0 4l.4 1.6l.8 1.4l1.2 1.4l1 .8l2 1l3 .3l2-.4l2-1.1l1-.8l1.1-1.2l.5-1l.6-2l0-4l0-1l.3-1l5-10l9.5-24.1l1.1-2.9l.5-2l1.4-3.3l.6 .3l.4 1l0 1l-.4 13l-.5 4l-1.3 8l-.3 1l-6.2 14l-5.3 10.4l-4.1 8.6l-1.1 3l-.7 3l-1.6 4l-1.5 2l-1 .9l-2 1.1l-1 .1l-1-.4l-2-1.5l-1.7-2.2l-.8-2l-.3-1l-.6-1l-.6-3l-2-4.9l-4-8.4l-4.5-8.7l-6.1-14l-.8-3l-1.2-8l-.6-11z"/>
<path fill="#001bae" d="M202.5 40.5l49.2 0l-.9 11l-1.9 19l-2.8 25l-3.2 22l-1.4 8.1l-1.6 14.9l-1.7 13l-.1 2l.4 10l2.4 17l2.3 9l1.9 6l1.2 3l11.3 23l3.7 9l2.4 5l1.5 5l-62.7 0zM263.9 40.5l14 0l-.2 16l.8 5.9l1.4 8.1l.6 2l1 1.9l1 .2l2-3.2l1 .4l1 2.1l1.5 4.6l4.4 17l2.7 20l.9 9l.4 7l0 2l-.4 3l-.9 3l-2 5l-4.2 9l-11.7 23l-3 7l-1.7 3.4l-1 1.1l-1 0l-1-.8l-2-3.8l-3.4-7.9l-10.8-21l-5-11l-2.3-6l-.6-4l-.1-2l.9-12l1.8-14l1.6-11l2.5-10l2.4-8.3l1-2.8l1-1.8l1 0l1 1.9l1 1.2l1-.6l1-2.1l.4-1.5l2.2-14zM290.1 40.5l50.4 0l0 202l-27 0l-36.9 0l1.5-5l2.9-6l3.2-8l11.8-24l2.9-9l2-8l2.3-16l.5-12l-1.7-13l-1.5-14.4l-1.5-8.6l-3.3-23l-2.7-24l-2-19zM244.5 150.5l1-.5l2 5.5l10.6 27l4.6 9l.3 1l.1 1l-.1 4l.5 1.7l.7 1.3l1.3 1.4l1 .8l2 1l3 .3l2-.3l2-1.1l1-.8l1.1-1.3l.5-1l.7-2l-.1-4l.1-1l.3-1l4.6-9l10.8-27.5l1-3.1l1-2.2l.6 .8l.2 1l.1 3l-.5 11l-.5 4l-1.1 7l-.4 1l-6.1 14l-5.3 10.3l-4.1 8.7l-1.2 3l-.6 3l-1.7 4l-1.4 1.9l-1 .9l-2 1.1l-1 .1l-1-.4l-2-1.4l-1.6-2.2l-.9-2l-.2-1l-.6-1l-.6-3l-2.1-5l-4-8.4l-4.4-8.6l-6.2-14l-.7-3l-1.3-8l-.5-11z"/>
<path fill="#0028b4" d="M202.5 40.5l48.9 0l-.8 11l-2.6 24l-3 24l-2.8 20l-.7 4l-1.7 16l-1.6 12l-.3 4l.5 9l.2 3l2.4 16l2.1 8l1.9 6l1.2 3l11.3 23l4 9.6l2.2 4.4l1.4 5l-62.6 0zM264.2 40.5l13.4 0l-.2 16l2.1 14.5l1 3.3l1 1.9l1 .5l1-1.3l1-1.9l1 0l1 1.9l1.4 4.1l4 16l3.2 23l.9 11l.1 3l-.3 3l-.7 3l-2.2 6l-5 11l-10.8 21l-2.6 6.4l-2 3.9l-1 1.1l-1 .1l-1-.9l-2-3.8l-2.8-6.8l-10.7-21l-5.1-11l-2.2-6l-.7-3l-.3-2l0-3l.9-11l2.4-18l1.1-7l3-12l2.4-7.6l1-1.6l1 .4l1 2.1l1 .9l1-.8l1-2.2l.9-3.2l2-14zM290.4 40.5l50.1 0l0 202l-27 0l-36.8 0l1.4-5l2.9-6l3.3-8l11.8-24l2.9-9l2-8l2.3-16l.6-11l-.1-2l-1.8-14l-1.5-14.7l-1.4-8.3l-2.9-21l-2.9-24l-2.1-20zM245.4 150.5l.1-.1l1 2.5l.9 2.6l10.6 27l4.7 9l.3 1l.1 1l-.1 4l.5 1.8l.7 1.2l1.3 1.5l1 .8l2 1l3 .2l2-.3l2.2-1.2l2-2l.9-2l.2-1l0-4l0-1l.3-1l4.7-9l10.7-27.2l1-3l1-2.1l.6 1.3l.2 4l-.4 10l-.6 4l-1.1 7l-.3 1l-6.2 14l-5.2 10.2l-4.1 8.8l-1.2 3l-.7 3l-1.6 4l-1.4 1.9l-1 .9l-2 1.1l-1 .1l-1-.4l-2-1.5l-1.6-2.1l-.9-2l-.2-1l-.6-1l-.6-3l-2-5l-4.1-8.5l-4.4-8.5l-6.2-14l-.8-4l-1.2-8l-.4-12l.1-2z"/>
<path fill="#0034ba" d="M202.5 40.5l48.7 0l-1 12l-2 19l-3.3 26l-3.7 26l-3 27l-.4 5l.5 10l2.6 18l2.1 8l2.3 7l.8 2l11.4 23.1l4 9.6l2.1 4.3l1.5 5l-62.6 0zM264.6 40.5l12.6 0l-.2 16l2.1 15l1.4 4.6l1 2l1 .6l1-1l1-2.1l1-.4l1 1.7l1.5 4.6l3 12l.8 4l3.1 22l.9 11l-.1 3l-.4 3l-2.1 7l-5.4 12l-10.8 21l-2.4 6l-1 2l-1.1 2.1l-1 1.2l-1 .1l-1-1l-2-3.8l-2.7-6.6l-10.7-21l-5.1-11l-2-6l-1-5l0-3l.9-11l2.1-15l1.3-9l2.9-12l1.3-4.4l1-2.7l1-1.3l1 .9l1 2l1 .7l1-.9l1-2.3l1.2-4l2.1-15zM290.6 40.5l49.9 0l0 202l-27 0l-36.8 0l1.5-5l2.9-6l3.3-8l11.8-24l2.6-8l2.1-8l2.5-17l.6-11l-.2-3l-3.2-29l-3.6-25l-3.4-27l-2.1-20zM245 151.5l.5-.7l12.4 31.7l4.7 9l.3 1l.1 1l0 4l.5 1.9l1 1.6l1 1l1 .8l2 1l3 .3l2-.3l2.2-1.3l2-2l1-2l.2-1l-.1-4l.1-1l.3-1l4.7-9l10.6-27l1-2.9l1-2l.4 .9l.2 1l.1 3l-.4 10l-.5 4l-1.1 7l-.4 1l-6.2 14l-5.1 10.1l-4.2 8.9l-1.1 3l-.7 3l-1.7 4l-1.3 1.8l-1 .9l-2 1.1l-1 .1l-1-.4l-2-1.5l-1.5-2l-.9-2l-.3-1l-.5-1l-.6-3l-1.2-3l-4-8.5l-5.3-10.5l-6.2-14l-.3-1l-1.6-10l-.5-11l.1-3z"/>
<path fill="#0041c0" d="M202.5 40.5l48.4 0l-.9 12l-2.1 19l-4 31l-3 21l-2.8 26l-.4 6l.4 10l2.7 18l2.1 8l2.3 7l.8 2l11.5 23.3l4 9.5l2.1 4.2l1.4 5l-62.5 0zM264.9 40.5l12 0l-.2 16l2 15l1.8 6.4l1 2.1l1 .8l1-.8l1-2.1l1-.9l1 1.4l1.1 3.1l3.5 14l3.5 24l.9 11l0 2.2l-.5 3.8l-2 7l-5.4 12l-10.7 21l-2.4 6l-1 2l-1 2l-1 1.2l-1 .1l-.4-.3l-.6-.7l-1-1.9l-2-4.3l-1.6-4.1l-10.7-21l-5-11l-1.1-3l-1.1-4l-.7-5l.1-3l.8-10l2.9-20l.8-5l2.6-10.6l1-3.4l1-2.5l1-1l1 1.4l1 1.9l1 .5l1-1.1l1-2.3l1.6-5.9l2-15zM290.9 40.5l49.6 0l0 202l-27 0l-36.7 0l1.4-5l3-6l3.2-8l11.4-23l1.2-3l1.9-6l2.1-8l2.6-18l.5-10l-.3-5l-2.9-27l-2.7-19l-4.3-33l-2.1-19zM245.3 151.5l.2-.3l1 2.3l11.3 29l4.7 9l.4 1l.1 1l-.1 4l.6 2l1 1.6l1 1l1 .8l2 1l3 .2l2-.3l2.3-1.3l1.9-2l1-2l.2-1l-.1-4l.1-1l.4-1l4.7-9l6.5-16.9l4.1-10.1l.9-2.6l1-1.8l.4 1.4l.2 4l-.4 9l-.5 4l-1.1 7l-.3 1l-6.3 14l-5 10l-4.2 9l-.9 2l-1 4l-1.6 4l-1.3 1.8l-1 .9l-2 1.1l-1 .1l-1-.4l-2-1.5l-1.5-2l-.9-2l-.2-1l-.6-1l-.6-3l-1.2-3l-4-8.6l-5.2-10.4l-6.3-14l-.3-1l-1.6-10l-.4-11l.2-3z"/>
<path fill="#004dc7" d="M202.5 40.5l48.2 0l-1 12l-2.1 19l-6.9 52l-2.6 24l-.5 7l.4 11l2.7 18l2.1 8l2.3 7l.8 2l11.6 23.5l2.6 6.5l1.4 2.9l2 4.1l1.5 5l-62.5 0zM265.3 40.5l11.2 0l-.2 16l1.9 15l1.9 7l1.4 3.6l1 .9l1-.6l1-2l1-1.4l1 1l1 2.6l1 3.4l2.3 9.5l1.1 7l2.4 17l.9 11l-.1 3l-.3 3l-1.9 7l-5.4 12l-10.7 21l-2.3 5.8l-.7 1.2l-1.3 2.8l-1 1.3l-1 .1l-1-1.1l-2-3.9l-2.5-6.2l-10.7-21l-5-11l-1-3l-1.1-4l-.6-5l0-2l.9-11l1.7-12l1.8-12l2.5-10.2l1-3.3l1-2.4l1-.5l2 3.6l1 .2l1-1.2l1.2-3.2l1.9-7l1.9-15zM291.1 40.5l49.4 0l0 202l-27 0l-36.7 0l1.5-5l2.5-5l3.7-9l11.4-23l.8-2l2.3-7l2.1-8l2.7-18l.5-10l-.5-7l-2.8-26l-6.8-51l-2.1-19zM245.1 152.5l.4-.8l1 2.1l10.4 26.7l1.4 3l4.2 8.1l.3 .9l.1 1l0 4l.5 2l1.1 1.6l1 1l1 .8l2 1l3 .3l2-.4l2.4-1.3l1.9-2l.9-2l.2-1l0-4l.1-1l.3-1l4.8-9l11.4-29.3l1-1.7l.4 2l.1 5l-.4 8l-.6 4l-.9 6l-.4 1l-6.2 14l-5.1 10l-4.2 9l-.8 2l-1 4l-1.6 4l-1.3 1.7l-1 .9l-2 1.1l-1 .1l-1-.4l-1.9-1.4l-1.5-2l-1.8-4l-.6-3l-1.1-3l-4.1-8.7l-5.2-10.3l-6.2-14l-.3-1l-1.6-10l-.4-10z"/>
<path fill="#005acd" d="M202.5 40.5l47.9 0l-.9 12l-2 17.7l-7.1 53.3l-2.3 22l-.7 9l.5 12l2.5 16l1.8 7l2.7 9l12.6 25.7l2.6 6.3l1.4 3l2 4.2l1.4 4.8l-62.4 0zM265.7 40.5l10.4 0l-.2 16l1.9 15l1.7 7.2l1 3.3l1 2.2l1 1l1-.3l2-3.7l1 .4l1 2.4l1 3.4l2 8.1l1.4 9l2.1 15l.8 10l0 3l-.1 3l-.8 4l-1.2 4l-5.2 11.8l-10.8 21.2l-2.2 5.5l-1.3 2.5l-.7 1.5l-1 1.5l-1 .1l-1-1.1l-1-2l-1-2l-2.4-6l-10.7-21l-4.9-11l-1.1-3l-.9-4l-.5-4l.4-9l1-9l2.9-20l2.2-8.9l1-3.2l1-2l1 0l1 2.1l1 1.5l1 .1l1-1.3l1.6-4.3l1.9-8l1.9-15zM291.4 40.5l49.1 0l0 202l-27 0l-36.6 0l1.5-5l2.5-5l3.6-8.7l11.5-23.3l.8-2l2.3-7l2.1-8l2.7-17l.5-12l-.6-8l-2.5-24l-6.8-51l-2.2-19zM245.3 152.5l.2-.4l1 2l10.7 27.4l5.3 10.2l.4 1.8l-.1 4l.6 2l1.1 1.7l1 1l1 .7l2 1l3 .3l2-.3l2.4-1.4l1.9-2l1-2l.2-1l-.1-4l.1-1l.4-1l4.8-9l11.3-28.9l1-1.6l.4 2.5l0 5l-.4 7l-.5 4l-1 6l-.4 1l-6.1 13.8l-5.1 10.2l-4.2 9l-.8 2l-1 4l-1.7 4l-1.2 1.6l-1 1l-2 1.1l-1 0l-1-.4l-1.8-1.3l-1.6-2l-1.7-4l-.6-3l-1.2-3l-4.1-8.8l-5.1-10.2l-6.3-14l-.3-1l-1.5-10l-.4-10l.1-2z"/>
<path fill="#0067d3" d="M202.5 40.5l47.6 0l-.8 11l-1.8 16.1l-7.3 54.9l-2.2 21l-.9 11l.7 12l1.7 10.5l.7 5.5l1.8 7l2.8 9l1.4 3l11.3 22.9l3.9 9.1l2.1 4.3l1.4 4.7l-62.4 0zM266.2 40.5l9.5 0l-.2 16l1.8 15l2.2 9.6l1 3.3l1 2.2l1 1l1-.2l1-1.6l1-2.1l1-.2l1 2l1 3.3l1.4 5.7l.6 3.2l3 20.4l1 13.9l0 2.5l-.4 3l-1.5 6l-5.1 11.5l-10.4 20.5l-2.6 6.3l-1.4 2.7l-.6 1.3l-1 1.5l-1 .2l-1-1.3l-1-1.9l-1-2.1l-2.3-5.7l-10.7-21l-5-11.3l-1.2-3.7l-.8-4l-.1-2l.1-6.8l1-11.1l3-20.1l2-8.4l1-3.1l1-1.7l1 .7l1 2.2l1 1.3l1 0l1-1.3l1-2.4l.7-2.3l2.3-10l1.8-15zM291.7 40.5l48.8 0l0 202l-28 0l-35.6 0l1.5-5l2.5-5l3.6-8.5l11.6-23.5l.9-2l2.2-7l1.9-7l.8-4l.6-4.9l1.5-9.1l.6-12l-.7-10l-2.2-21l-7.2-54.2l-2-17.6zM245.2 153.5l.3-1l1 1.9l10.6 27.1l5.4 10.3l.3 1.7l0 4l.5 2l1.2 1.8l1 .9l1 .8l2 1l3 .2l2-.3l2.5-1.4l1.9-2l.9-2l.2-1l0-4l.1-1l.3-1l3.8-7l1.9-4l10.4-26.6l.5-.4l.5-.9l.3 2.9l-.1 6l-.2 5l-.7 5l-.8 5l-.4 1l-6.1 13.7l-5.2 10.3l-4.2 9l-.8 2l-1 4l-1.6 4l-1.2 1.6l-1 .9l-2 1.1l-1 .1l-1-.4l-1.8-1.3l-1.6-2l-1.7-4l-.6-3l-1.1-3l-4.2-8.9l-5.1-10.1l-6.2-14l-.4-1l-1.5-10l-.3-9z"/>
<path fill="#0075d9" d="M202.5 40.5l47.3 0l-1.3 15.6l-2 17.1l-6.6 49.3l-2.1 20l-.9 13l.8 12l.8 3.7l1.5 11.3l3.1 11l1.9 6l11.5 23.1l4.8 10.9l2.2 4.5l1.3 4.5l-62.3 0zM266.6 40.5l8.6 0l-.2 16l1.7 15l1.5 7l1.7 7l.6 1.9l1 2.1l1 .8l1-.2l1-1.4l1-2.2l1-.9l1 1.7l2 6.9l1 5.6l2 13.4l.8 6.3l.3 4l.4 12l-.5 4l-1 3.8l-5 11.5l-10.5 20.7l-2.5 6l-1.6 3l-.4 1.1l-1 1.5l-1 .1l-1-1.3l-1-1.9l-3.2-7.5l-10.8-21.3l-5-11.4l-1.2-4.3l-.5-4l.7-16.3l3-20.7l1-5.1l1-3.8l1-2.8l1-1.2l1 1.3l1 2.1l1 1.2l1 .1l1-1.1l1-2.4l.7-2.3l2.9-13l1.7-15zM292 40.5l48.5 0l0 202l-28 0l-35.5 0l1.5-5l2.5-5l3.5-8.3l12.6-25.7l2.8-9l1.9-7l.7-5.8l1.7-10.2l.7-12l-.8-11l-2.2-21l-7.4-56l-1.7-15zM245.4 153.5l.1-.5l1 1.7l10.5 26.8l5.5 10.5l.3 1.5l0 4l.5 2l1.2 1.8l1 1l2 1.3l1 .4l3 .3l2-.3l2.6-1.5l1.8-2l1-2l.2-1l-.1-4l.1-1l.4-1l4.3-8l1.4-3l10.3-26.3l1-1l.3 3.3l-.3 9l-.8 6l-.8 5l-.4 1l-6 13.5l-5.2 10.5l-4.2 9l-.8 2l-1 4l-1.7 4l-1.1 1.5l-1 1l-2 1.1l-1 0l-1-.4l-1.7-1.2l-1.6-2l-1.7-4l-.7-3l-1.1-3l-4.2-9l-5-10l-6.3-14l-.3-1l-1.5-10l-.3-9z"/>
<path fill="#0083df" d="M202.5 40.5l47 0l-1 12.4l-2 17.3l-6.7 50.3l-1.9 18l-1.2 16l.4 8l.6 6l.8 3.8l1.3 10.2l2.2 8l2.9 9l12.6 25.5l2.8 6.5l3.2 6.7l1.3 4.3l-13.5 0l-5.8-12.3l-3-5.9l-8-13.9l-2-3l-1-1.3l-1-.8l0 1.7l1 3.4l3 8l11.4 24.1l-43.4 0zM267.2 40.5l7.4 0l-.1 16l1.1 10l.2 5l.7 2.5l2.5 13.5l1.1 4l.4 1l1 1.3l1 .1l1-.6l1-1.5l1-2.2l1-1.4l1 1l1 2.9l1 3.9l1 5.9l2 14l.4 6.6l-.2 7l.8 4l.2 2l-.2 2.7l-.9 4.3l-1.1 2.8l-4 9.2l-6.6 13l-.4 1l-.6 1l-.4 1l-.7 1l-.3 1l-.7 1l-.3 .9l-.7 1.1l-3.5 8l-1.8 3.3l-1 .1l-1-1.3l-2-4l-.3-1.1l-2.2-5l-9.5-18.6l-3-6.5l-3-7l-1-4l-.3-2.9l.1-3l.8-4l-.2-8l.6-7.1l2-13.7l1-5.7l1-3.6l1-2.6l1-.5l2 3.9l1 1.2l1 .6l1-.3l.8-1.2l.7-2l.8-3l1.7-9.5l1.5-6.5l.2-5l1.2-10zM270.5 71.3l-.3 .2l.3 1.9l1-.5l.2-1.4zM292.3 40.5l48.2 0l0 202l-44.6 0l11.3-24l3.3-8.7l.8-3.3l-.8-.6l-2 2.7l-3 4.8l-6 10.5l-3 5.9l-6 12.7l-13.5 0l1.5-4.9l3.5-7.1l2.5-6l12.4-25l3.2-10l1.9-7l1.5-11.3l.4-1.7l.5-3l.8-12l-1-13l-2.2-21l-6.5-48.7l-2-17.1zM245.5 153.5l.5 1l.5 .5l1 2.4l8.5 22.1l1.8 4l4.7 8.6l.2 1.4l0 4l.6 2l1.2 1.9l1 .9l2 1.4l1 .4l3 .2l2-.3l2.6-1.5l1.9-2l.9-2l.2-1l0-4l.4-1.9l4.4-8.1l2.3-5l3.3-8.8l6-15.2l1-.5l.2 3.5l-.4 9l-.8 5.8l-.6 4.2l-.4 1l-6 13.4l-5.3 10.6l-4.1 9l-.9 2l-1 4l-1.6 4l-1.1 1.5l-1 .9l-2 1.1l-1 .1l-1-.4l-1.7-1.2l-1.6-2l-1.7-4l-.6-3l-1.1-3l-4.2-9l-5.1-10.2l-6.2-13.8l-.4-1l-1.5-10l-.2-9l0-2z"/>
<path fill="#0091e5" d="M202.5 40.5l46.4 0l-.4 6.9l-2 18.7l-7.4 56.4l-2.1 20l-.6 12l.6 11l1.5 8.5l.3 3.5l1 6l.7 2l1.6 6l2.6 8l12.8 25.7l2.7 6.3l3.3 6.8l1.2 4.2l-11.7 0l-5.5-11.5l-3-5.4l-3.7-6.1l-5.3-9.9l-3.4-6.1l-4.6-9.1l-3-4.5l-1-1l-1 0l-.2 .6l-.1 2l.5 3l3.8 9.5l6.2 14.5l11.3 24l-41.5 0zM268 40.5l5.9 0l-.2 16l1.2 10l-.4 2.8l-1 .6l-2-.5l-1-.1l-2 .5l-1-.2l-.3-1.1l-.3-2l1.2-10zM292.9 40.5l47.6 0l0 202l-42.7 0l11.3-24l7.6-18l2.4-6l.5-3l0-2l-.1-.2l-1-.5l-1 .9l-2 2.7l-13.4 25.1l-7.6 13.1l-5.7 11.9l-11.7 0l1.4-4.7l3.5-7.3l2.5-5.7l12.6-25.3l2.9-9l2.2-8l1.3-9.9l.7-3.1l.7-6l.5-9l-.5-11l-2.7-25l-5.7-42.7l-2-16.6l-1-9.2zM266.5 76.5l0-.3l.2 .3l.2 1l-.2 2l-.2 .4l-.1-.4zM275 77.5l.5-.3l0 2.3l0 .1l-.1-.1l-.4-1zM269.7 79.5l.8-.2l1 0l1 .3l1.6 .9l.8 1l3.6 12.4l2 4.7l1 1.5l1 .1l1.5-3.7l2.5-5.1l1 .3l1 2.4l1 4.5l2 12.9l.6 6l.1 2l-.4 2l-.3 .7l-1-.3l-.5 .6l0 1l.5 2.5l.9 3.5l1.6 5l.2 2l-.1 2l-.6 3.5l-3 7.5l-4 8.7l-9.4 18.3l-2.6 6.3l-2 3.7l-1 .2l-1-1.5l-2-4.2l-.5-1.5l-1.8-4l-.7-1l-.3-1l-.7-1l-.4-1l-.6-.9l-.4-1.1l-.6-.9l-.4-1.1l-.6-.9l-.4-1.1l-.6-.9l-5-10l-5-11.8l-.8-4.3l-.2-2l.3-2l1.7-5.4l1.3-5.6l0-1l-.3-.8l-1 .5l-.5-.7l-.5-2l1-9.5l1-6.8l1-5.7l1-4l1-2.1l1 .3l3 6.8l1 1.9l1-.5l1-1.6l2-5l3.3-11.8l.9-1zM245.4 154.5l.1-.4l1 1.2l1 2.4l8.3 21.8l1.9 4l4.8 8.8l.2 1.2l0 4l.5 2l1.3 1.9l1 1l2 1.3l1 .4l3 .3l2-.4l2.7-1.5l1.8-2l1-2l.1-1l0-4l.4-1.7l4.6-8.3l1.9-4l9.5-24.7l1 .1l.1 3.6l-.3 8l-.9 6l-.6 4l-.3 .9l-6 13.4l-5.3 10.7l-4.2 9l-.8 2l-1 4l-1.7 4l-1 1.4l-1 1l-2 1.1l-1 0l-1-.4l-1.6-1.1l-1.6-2l-1.7-4l-.7-3l-1.1-3l-4.2-9l-5.1-10.3l-6.2-13.7l-.3-1l-1.5-10l-.3-8z"/>
<path fill="#009feb" d="M202.5 40.5l45.8 0l-.8 10.7l-1 8.8l-2 16.6l-5.7 42.9l-1.8 17l-.7 7l-.3 5l-.2 6l.1 3l.9 10l.7 2.9l1 6.1l.4 4l.9 4l3 10l2.2 6l8.9 18l2.6 4.9l3.6 8.1l2.5 5l.9 2l1.2 4l-10.3 0l-4.9-10l-8.6-14l-7.9-15l-3.2-7l-3.3-7.3l-3-6.1l-3-4.9l-2-2.3l-1-.6l-.5 .2l-.5 .6l-.1 1.4l.4 4l1.5 7l1.7 6l.9 2l10.3 23l10.8 23l-39.5 0zM269 40.5l3.8 0l-.2 16l1.2 10l-.3 .7l-.5 .3l-1.5 .3l-2-.1l-1-.3l-.5-.9l1.2-10zM293.5 40.5l47 0l0 202l-40.7 0l11.3-24l10.7-24l2.4-9l.8-4l.4-3l-.1-2l-.5-1l-.3-.2l-1 .4l-1 1l-2 2.7l-3 5.3l-4 8.3l-4.2 9.5l-8.4 16l-8.4 13.6l-5.1 10.4l-10.3 0l1.4-4.5l3.6-7.5l2.4-5.4l3.4-6.6l9.4-19l2.7-8l2.3-8l.9-5l.3-3.4l1.7-8.6l.9-12l-.9-14l-2.2-21l-1.5-10.5l-6-47.3l-1-8.5zM270.3 82.5l.2-.1l1.1 .1l.9 .8l1 1.6l1.6 3.6l4.4 11.3l2 3.7l1.5 2l2.5 9.4l7 20.6l.2 2l-.2 3.3l-1 3.5l-3.7 8.2l-.3 1.1l-4 8.2l-4.5 8.7l-.5 1.2l-1.6 2.8l-.4 1.1l-.6 .9l-2.4 5.7l-1.8 3.3l-.2 .4l-1 .2l-1-1.5l-.4-1.1l-.6-.9l-.3-1.1l-.7-1.1l-.2-.9l-.8-1.4l-.6-1.6l-10.4-20.3l-5-11.5l-1-3l-.4-4.2l.4-2.7l6-17.4l2-6.7l.6-3.2l.7-2l1.7-2.3l2-3.8l5.5-13.9l1.1-2zM254.2 95.5l.3-.5l.5 .5l.5 .5l.6 1.5l.6 2l.8 4.4l.3 .6l-1 3l-3.9 7l-1.4 2.1l-.6-1.1l0-2l.6-7.2l1-5.7l1-4.1zM286.7 95.5l.8-.5l1 2.2l1 4.4l1 6.2l.4 5.7l0 2l-.4 1.2l-1-1.1l-4.5-8.1l-.9-2l-.1-1l1.1-5l.6-2zM245.4 155.5l.1-.7l1 .8l8.2 21.9l2.4 5l4.4 7.8l1 2.1l.2 1.1l-.1 4l.6 2l1.3 2l1 1l2 1.3l1 .3l3 .3l2-.3l2.7-1.6l1.9-2l.9-2l.2-1l0-4l.3-1.6l5.7-10.4l1.9-4l7.4-20.1l1-2.2l.7 .3l.3 1l0 2l-.3 8l-.9 6l-.5 4l-.3 .7l-6 13.4l-5.4 10.9l-3.7 8l-1.2 3l-1 4l-1.7 4l-1 1.4l-1 .9l-2 1.1l-1 .1l-2-1.1l-1-.8l-1.2-1.6l-1.7-4l-.7-3l-1.1-3l-4.1-9l-5.2-10.4l-6.1-13.6l-.4-1l-1.4-10l-.3-6z"/>
<path fill="#00adf2" d="M202.5 40.5l43.9 0l-.9 12.2l-2.3 18.8l-.7 8.4l-1 8.8l-2 16.6l-2.4 17.2l-2.3 20l-.3 12l.2 4l1.1 9l.7 2.5l1 4.7l.3 2.8l.7 3l.2 2l3.1 10l2.1 6l1.8 4l8 16l2.8 5.2l3.5 7.8l2.5 4.8l1 2.4l1.1 3.8l-9.3 0l-4.9-10l-8.4-13l-8.8-17l-8.2-20l-5.5-12.6l-2-4.1l-2-2.9l-1-.9l-1-.7l-1-.3l-1 0l-1 .3l-1 .8l-.7 1.4l-.4 2l0 2l.5 5l3 10l4 12l22.5 48l-35.9 0zM295.4 40.5l45.1 0l0 202l-37.1 0l22.5-48l3.1-9l3.1-10l1-4l.3-3l0-3l-.4-2l-.5-1.1l-1-1l-1-.4l-1 0l-1 .2l-1 .6l-1 .9l-1 1.2l-2 3.4l-7 15.8l-5.4 13.4l-3 7l-8.3 16l-8.3 12.9l-5 10.1l-9.3 0l1.3-4.4l1-2.2l6-12.6l2.7-4.8l7.9-16l1.8-4l1-3l4.2-13l.4-3.1l.7-2.9l.3-3l1.7-7l1-9l.2-3l-.4-12l-2.8-24l-1.7-11.6l-3-25.2l-1.3-14.2l-1.7-13.1zM270.2 85.5l.3-.3l1 .1l1 1.2l2 4l4.5 11l2 4l3.4 10l7.1 20l.6 3l-.6 4.9l-5 11.8l-7 13.9l-4.5 8.4l-1.5 3.4l-2 3.3l-1 .3l-2-3.2l-.2-.8l-.8-1.2l-1.2-2.8l-1.8-3.1l-.3-.9l-.7-1l-.3-1l-.7-.9l-.4-1.1l-.6-.9l-.4-1.1l-.6-.8l-.4-1.2l-.6-.8l-.5-1.2l-2.5-4.8l-.4-1.2l-.6-.8l-5-11.9l-.8-4.3l.1-2l.7-2.6l7.3-20.4l2.6-8l2.8-6l5.3-12.6l1-1.8zM254.3 100.5l.2-.2l.6 1.2l.4 1.6l.1 1.4l-1.1 3l-1 1.7l-1 .8l-.2-1.5l.1-3l1.1-4.3zM287.3 100.5l.2-.3l1 1.5l1 4.7l0 3.3l-1-.2l-1.2-2l-.9-2l-.2-1l.3-2.5zM245.4 156.5l.1-.9l1 .3l1 2.3l6.4 18.3l2 4l5.6 9.9l1 2.1l.1 1l0 4l.5 2l1.3 2l1.1 1l2 1.3l1 .4l3 .2l2-.3l1-.4l1.8-1.2l1.1-1l1.3-2l.5-2l0-4l.3-1.4l5.9-10.6l2.5-5l5.6-16.1l2-4.9l.7 1l.2 4l-.3 6l-1 7l-.4 3l-.2 .6l-6 13.4l-5.4 11l-3.7 8l-1.3 3l-1 4l-1.6 3.9l-1 1.4l-1 .9l-2 1.2l-1 0l-2-1l-1-.9l-1.1-1.5l-1.8-4l-.6-3l-1.1-3l-4.2-9l-5.2-10.6l-6.1-13.4l-.3-1l-1.4-10l-.3-5z"/>
<path fill="#00bbf8" d="M270.1 89.5l.4-.4l1 .1l1 1.2l2 3.9l5.1 11.2l8.9 25.8l2 6.6l.3 2.6l-.3 3.2l-.8 1.8l-.2 1.1l-.5 .9l-2.5 6.6l-.7 1.4l-.3 .9l-.7 1.1l-.3 1l-.6 1l-.4 1.1l-.7 .9l-.3 1l-.7 1l-.3 .9l-.7 1.1l-1.3 2.6l-3 5.2l-2 2.4l-1 .5l-1 .2l-3 0l-1-.1l-1-.5l-2-2.2l-2-3.3l-.3-.8l-.7-1l-.4-1l-.6-.9l-.4-1.1l-2.6-4.6l-2.4-5.4l-.6-.9l-.3-1.1l-.7-1.4l-1.3-3.6l-.7-1.5l-.4-1.5l-.6-1.1l-.5-3.9l.5-3.3l2-6.5l5.7-16.2l2.3-7.3l6-13.4l2-3.7zM220.4 156.5l1.1-.2l1 .4l1 .8l2 2.1l3 4.5l5.3 9.4l3.1 7l7.1 19l8.9 18l3.6 6.5l6 12.5l1 2.4l1.1 3.6l-8.7 0l-5.4-10.8l-8.7-13.2l-8.1-16l-4.7-12l-2.3-7l-2.7-7l-1.9-6l-2.2-9l-.4-3l.2-1zM245.8 156.5l.7-.3l1 2.3l6 18.4l7 11.9l1.9 3.7l.2 1l-.2 3l.7 3l1.3 2l1.1 1.1l2 1.2l1 .4l3 .3l2-.3l1-.5l1.9-1.2l1-1l1.3-2l.6-2l-.1-4l.3-1.3l3-5.5l6-10.2l5-15.7l1-2.8l1-2.1l.4 .6l.2 1l.1 5l-.2 5l-1 7l-.3 2l-3.1 7l-12.3 26l-1.2 3l-1 4l-1.6 3.8l-1 1.4l-1 1l-2 1.1l-1 .1l-2-1.1l-1-.9l-1.1-1.4l-1.7-4l-.7-3l-1.1-3l-4.1-9l-5.3-10.7l-6-13.3l-.4-1l-1.4-10l-.2-8l0-1.2zM319.8 156.5l.7-.2l1 .2l.6 1l.2 1l-.6 4l-1.7 7l-1.9 6l-3 8l-2 6l-5 13l-8.1 16l-8.6 13l-5.5 11l-6.4 0l-2.3 0l1.3-4.2l7-14.6l2.9-5.2l8.9-18l2.8-7l4.8-13l2.1-5l3.1-6l4.8-8l2.6-3.3l1-.9z"/>
<path fill="#00c9fe" d="M270.1 97.5l.4-.2l1 .1l1 .5l1 .9l2 2.9l3 5.7l3 10.5l1 4.1l.7 6.5l0 26l-.1 2l-.5 3l-1.1 1.9l-1 1.3l-2 1.8l-3 1.5l-3 .7l-3 0l-2-.4l-3-1.1l-2-1.4l-2-2.1l-1-1.6l-.7-2.6l-.2-2l0-27l.2-3l.7-4.4l4-14.2l2-3.9l2-3.2l1-1.2l1-.9zM295.4 156.5l.1-.2l.2 .2l.4 2l-.1 7l-.3 4l-1 7l-6.2 13.7l-9.2 19.3l-1.3 3l-.9 4l-1.6 3.7l-.9 1.3l-.9 1l-2.2 1.3l-1 0l-2-1l-1-.9l-1.1-1.4l-1.7-4l-.9-4l-.8-2l-12.5-26.4l-3-6.7l-.5-1.9l-1.1-8l-.3-5l.1-4l.1-1l.7-.9l1.9 4.9l2.1 7.7l2.3 7.3l3.7 5.6l5 8.6l.8 1.8l.2 1l-.1 3l.6 3l1.5 2.2l1 .9l2 1.3l1 .4l2 .2l3-.3l1-.4l2-1.4l1-1l1.3-1.9l.5-2l0-4l.2-1.2l1-2l4.6-7.8l1.9-3l1.5-2l.4-1l2.6-7.9l2-7.3l1-3zM225 167.5l.5-.4l1 .4l2 1.7l2 2.7l2.7 4.6l5.9 12l6 14l8 16l3.4 5.9l6 12.2l1 2.6l1 3.3l-8.1 0l-4.9-10l-9.3-14l-8.1-16l-4-11l-4.6-15l-1-4l-.3-3l.3-1.5zM315.4 167.5l1.1-.4l1 1.4l.1 2l-.5 3l-1 4l-4 13l-4.4 12l-8.6 17l-8.6 12.7l-5.1 10.3l-4.9 0l-3.2 0l1.2-4l1-2.3l5-10.2l3.7-6.5l8.1-16l1.9-4l4.5-11l5.4-11l2.4-4.4l2-2.9l2-2.1z"/>
<path fill="#0aceff" d="M246.1 157.5l.4-.5l1 2.3l1.5 5.2l.5 2.4l1.5 4.6l1.4 5l4.8 7l4.3 7.3l.8 1.7l.2 1l-.2 3l.7 3l1.2 2l1.3 1.2l2 1.2l1 .4l3 .3l2-.4l1-.4l2-1.3l1-1l1.3-2l.6-2l-.1-4l.2-1l1-2l5-8.5l3.8-5.5l2.2-6.9l2.1-8.1l.9-2.8l1-2l.3 .8l.2 2l0 6l-.4 4l-.7 5l-.3 2l-3 7l-12.4 26l-1.2 3l-1 4l-1.5 3.6l-.9 1.4l-1.1 1.1l-2 1.1l-1 .1l-2-1.1l-1-.9l-1-1.3l-1.7-4l-1-4l-.8-2l-5.1-11l-4.4-9l-6-13.2l-.3-.8l-1.3-10l-.1-6l.1-2zM227 173.5l.5-.8l1 .3l2 2.1l2 3l4.6 8.4l2.1 4l5.4 12l8.2 16l4.7 8.2l5 10.1l2 5.7l-7.7 0l-5.3-10.5l-8.5-12.5l-8-16l-2-5l-2.9-9l-1.4-6l-1.2-4.3l-.6-3.7zM312.8 173.5l.7-.6l1-.1l.3 .7l.1 2l-.4 2.9l-3.4 13.1l-2.3 7l-2 5l-7.5 15l-8.8 13.1l-5.5 10.9l-5.5 0l-2.2 0l1.2-3.8l1-2.3l5-10.1l4.5-7.8l8.2-16l6.9-15l5.4-9.7l2-3z"/>
<path fill="#17d1ff" d="M246.5 157.5l1 2.2l1.3 4.8l.7 3.3l2.8 8.7l4.8 7l4.7 8l.6 2l-.1 3l.6 3l1.6 2.3l1 1l2 1.2l1 .3l2 .4l3-.4l1-.4l2-1.3l1.8-2.1l.6-1l.5-2l0-4l.2-1l.9-1.9l4.2-7.1l4.9-7l2.9-9.4l.5-2.6l1.5-5.3l1-2l.4 3.3l0 6l-1.1 8l-.2 2l-3.1 7l-12.3 26l-1.2 3l-1 4l-1.5 3.5l-1 1.5l-1 1l-2 1.2l-1 0l-2-1l-1-.9l-1-1.4l-1.7-3.9l-.9-4l-.8-2l-5.1-11l-4.5-9.2l-6-13.1l-.2-.7l-.8-5.2l-.5-4.8l-.1-6l.2-2zM229.4 178.5l.1-.2l1 .1l1 1l4.1 6.1l1.9 3.2l7 14.3l7.9 15.5l4.1 6.6l2 3.8l4 8.1l1.9 5.5l-7.3 0l-5.5-11l-8.8-13l-7.9-16l-1.8-5l-1.9-6l-1-4l-.9-7zM311.3 178.5l.2-.2l1 .3l.1 1.9l-.6 3l-.4 4l-1 4l-1.6 5l-2.1 6l-5.9 12l-2.6 5l-8.8 13l-4.9 10l-5.2 0l-2.1 0l1.1-3.5l1-2.5l5-9.9l4.9-8.1l8.1-15.8l7-14.4l5-7.8l1-1.3z"/>
<path fill="#24d3ff" d="M246.3 158.5l.2-.5l1 2.3l2 8.1l2.6 8.1l4.9 7l4.5 7.6l.6 1.4l.2 1l0 4l.6 2l1.2 2l1.4 1.3l2 1.2l1 .4l1 .2l2 .1l3-.8l2-1.3l1-.9l1.4-2.2l.5-2l0-4l.2-1l.9-1.8l4.3-7.2l4.9-7l2.9-9l.6-3l1.3-4.8l1-1.8l.3 3.6l0 5l-1 8l-.3 2l-3 6.9l-12.4 26.1l-1.2 3l-.9 4l-1.5 3.5l-1 1.5l-1 1l-2 1.1l-1 .1l-2.1-1.2l-.9-.8l-1-1.4l-1.6-3.8l-1-4l-.8-2l-4.1-9l-8.5-17.7l-3-6.7l-1-6.2l-.5-4.4l0-5zM231.3 184.5l.2-.7l1 0l1 .7l2 2.3l2 3.2l14.6 28.5l3.4 5.3l3 5.3l4 8.1l1.8 5.3l-6.8 0l-5-10l-9.5-14l-7.8-16l-1.1-3l-2.8-10l-.4-3zM308.4 184.5l1.1-.8l1 .5l.3 1.3l0 2l-.5 3l-1.4 5l-1.9 6l-.9 2l-7.3 15l-9.3 13.7l-5.1 10.3l-3.9 0l-3.1 0l2.1-5.8l5-9.8l5.2-8.4l14.8-28.9l2-3.1z"/>
<path fill="#31d6ff" d="M246.3 159.5l.2-.8l1 2.2l1.6 6.6l2.9 9l.5 1l4.4 6l4.8 8l.6 2l-.1 3l.1 1l.5 2l1.7 2.5l1 .9l2 1.2l2 .6l1 .1l2-.2l1-.2l1-.4l2-1.3l1.2-1.2l.7-1l.6-1l.5-2l0-4l.2-1l.8-1.7l4.4-7.3l4.9-7l2.9-9l1.8-7.2l.6-.8l.4-.8l.2 3.8l0 4l-1.1 9l-.1 1l-3 6.8l-12.4 26.2l-1.2 3l-1 4l-1.4 3.4l-1 1.5l-1.1 1.1l-1.9 1.1l-1 0l-2.1-1.1l-.9-.9l-1-1.4l-1.6-3.7l-.9-4l-2.2-5l-11.3-23.8l-3-6.8l-1-6.4l-.4-4l0-4zM232.2 186.5l.3-.5l1 .1l1 .8l1 1.1l2 3.1l3.5 6.4l10.8 21l4.7 7.3l2 3.6l4 7.9l1.8 5.2l-6.6 0l-5.2-10.4l-9.2-13.6l-8.2-17l-1.5-5l-1.3-5l-.4-3zM307.8 186.5l.7-.5l1 .2l.4 1.3l0 1l-.4 3l-1.5 6l-1.7 5l-7.3 15l-1 2l-8.5 12.3l-5.4 10.7l-4.6 0l-2 0l2-5.6l3-6l3-5.4l4.5-7l10.8-21l3.7-6.7l2-3z"/>
<path fill="#3ed9ff" d="M246.5 159.5l1 2l1.4 6l2.9 9l.6 1l3.7 5l5.5 9l.6 2l0 4l.6 2l.5 1l.7 1l1.5 1.4l2 1.2l2 .6l1 .1l2-.1l1-.3l1-.3l2-1.3l1.3-1.3l.7-1l.6-1l.4-2l.2-1l-.2-3l.3-1l.7-1.5l4.5-7.5l5-7l2.9-9l1.6-6.6l1-1.1l.2 3.7l-.1 4l-1.2 9l-2.9 6.6l-12.5 26.4l-1.2 3l-.9 4l-1.4 3.3l-1 1.5l-1.2 1.2l-1.8 1l-1 .1l-2-1.1l-1-.9l-1-1.5l-1.6-3.6l-.9-4l-1.2-3l-12.3-25.9l-3-6.8l-1-6.8l-.3-3.5l0-4zM233.1 188.5l.4-.5l1 .3l1 1l2 2.9l2.5 4.3l11.5 22l5 7.7l3 5.3l3 6l1.7 5l-6.3 0l-5.4-10.8l-8.4-12.2l-8.3-17l-1.6-5l-.9-4l-.5-3l0-1zM307.2 188.5l.3-.3l1-.1l.5 1.4l-.3 3l-1.4 6l-1.3 4l-7.2 15l-1.1 2l-8.3 12l-5.5 11l-3.4 0l-2.9 0l1.9-5.4l5-9.6l5.8-9l11.2-21.5l4-6.7z"/>
<path fill="#4bdbff" d="M246.5 160.5l1 1.8l1.3 5.2l2.9 9l4.3 6l5.5 9l.6 2l0 4l1.1 3l.7 1l1.6 1.5l2 1.2l2 .6l3 0l2-.7l2-1.3l1.4-1.3l1.2-2l.3-1l.3-2l-.1-3l.7-2l4.8-8l4.5-6l.5-1l3-9l1.4-5.8l1-.5l.1 5.3l-1.1 9.1l-.6 1.9l-2.4 5.5l-8.4 17.5l-4.1 9l-1.2 3l-.9 4l-.6 1l-.8 2.2l-1 1.5l-1.3 1.3l-1.7 .9l-1 .1l-2-1.1l-1-.9l-1-1.4l-1.5-3.6l-1-4l-1.2-3l-5-11l-7.3-15l-3-6.8l-1.2-9.2l0-3zM234 190.5l.5-.5l1 .6l1 1.2l4 6.3l10.8 20.4l5.2 8l3 5.2l3 6l1.6 4.8l-5.9 0l-5.6-11l-8.3-12l-8.2-17l-1.2-4l-.7-3l-.5-3l0-1zM306.4 190.5l1.1-.5l.4 .5l.2 1l-.5 4l-.9 4l-1 3l-7.6 16l-9.5 14l-5 10l-3.1 0l-2.9 0l1.8-5l1.1-2.2l4-7.5l6-9.3l11-20.8l3-4.8z"/>
<path fill="#58deff" d="M246.4 162.5l.1-.7l1 1.3l.8 3.4l3.2 10l4.4 6l5.6 9.1l.6 1.9l0 4l1 3l.8 1l1.6 1.6l2 1.1l1 .4l1 .3l2 0l1-.1l2-.6l2-1.3l1.4-1.4l.7-1l.6-1l.5-2l0-4l.7-2l4.8-8l5-7l3-9l1.3-5l1 .9l0 3.1l-1 8.6l-.6 2.4l-2.4 5.4l-7.5 15.6l-5.1 11l-.8 2l-.9 3l-.4 2l-.6 1l-.7 2.1l-1 1.5l-1.4 1.4l-1.6 .9l-1 0l-2-1.1l-1-.9l-1-1.4l-1.5-3.5l-.9-4l-1.2-3l-5.1-11l-7.3-15.2l-3-6.7l-1-8.1zM234.8 192.5l.7-.4l1 .9l2 2.6l2 3.2l10.5 19.7l5.5 8.3l3 5.1l3 6.1l1.5 4.5l-5.6 0l-5-10l-9.5-14l-7.6-16l-1.5-6l-.3-3zM305.9 192.5l.6-.5l.5 .5l.2 1l-.2 3l-1.2 5l-1.3 3l-6.6 14l-9.4 13.8l-5.1 10.2l-3.9 0l-1.8 0l1.8-5l3-6l3-5l5.3-8l10.7-20.1l3-4.4l1-1.3z"/>
<path fill="#65e0ff" d="M246.5 163.5l0-.1l1 .5l.6 2.6l3.3 10l4.4 6l5.7 9.2l.5 1.8l0 4l1.1 3l.7 1l1.7 1.6l1 .7l2 .9l1 .2l2 .1l1-.1l2-.7l2-1.2l1.5-1.5l.7-1l.5-1l.6-2l0-4l.6-2l5-8l5-7l3.3-10l.8-3.2l.6 1.2l.2 2l-.8 8.2l-.3 1.8l-.8 2l-10.5 22l-4.1 9l-.8 2l-.9 3l-.3 2l-.6 1l-.7 2l-1 1.5l-1.5 1.5l-1.5 .8l-1 0l-2-1l-1-1l-1-1.4l-1.4-3.4l-1-4l-1.1-3l-5.1-11l-7.4-15.3l-3-6.7l-1-8.4zM235.4 194.5l.1-.2l1-.1l1 .9l1 1.2l2 3.1l10.3 19.1l5.7 8.6l3 5.1l3 6l1.5 4.3l-5.4 0l-5.1-10.2l-8.8-12.8l-8.1-17l-1.2-5l-.1-2zM305.1 194.5l.4-.4l.8 .4l.3 1l-.2 2l-.9 4l-.8 2l-7 15l-9.2 13.5l-5.3 10.5l-2.7 0l-2.7 0l1.7-4.7l3-6l3-5l5.5-8.3l10.5-19.4l2-3l1-1.2z"/>
<path fill="#72e3ff" d="M294.4 164.5l.1-.3l.5 1.3l.1 2l-.6 6.7l-.4 2.3l-.6 1.7l-10.6 22.3l-4.1 9l-.9 2l-.8 3l-.4 2l-.6 1l-.6 1.9l-1 1.6l-1 1l-1 .7l-1 .5l-1 .1l-1.6-.8l-1.4-1.3l-1-1.4l-1.4-3.3l-.9-4l-1.2-3l-5-11l-8.5-17.6l-1.9-4.4l-.1-.7l-1-9.3l.1-1l.9-.8l.7 2.8l1.5 4l1.6 5l4.4 6l5.8 9.4l.4 1.6l0 4l.3 1l.8 2l.7 1l1.8 1.7l1 .7l2 .8l1 .3l2 .1l2-.5l1-.3l2-1.2l1.6-1.6l.7-1l.5-1l.5-2l0-4l.7-2l5.6-9l4.4-6l3.4-10zM236.5 195.5l1 .5l1 1.1l2 2.9l10.1 18.5l7.9 12.1l4 7.9l1.4 4l-5.1 0l-5.3-10.5l-8.6-12.5l-8-17l-.5-2l-.5-3l.1-1zM303.9 196.5l.6-.6l1-.4l.4 1l-.3 3l-.7 3l-7.5 16l-8.9 13.2l-5.5 10.8l-2.5 0l-2.6 0l1.6-4.5l2-4l3-5.4l6.7-10.1l10.3-18.8l1-1.5z"/>
<path fill="#7fe6ff" d="M294.4 165.5l.1-.4l.1 .4l.3 2l-.2 4l-.7 5l-.5 1.6l-14.3 30.4l-1.3 3l-.9 3l-.3 2l-.7 1l-.5 1.8l-1 1.6l-1 1l-1 .8l-1 .4l-1 .1l-1.5-.7l-1.5-1.4l-1-1.4l-.8-2.2l-.5-1l-1-4l-1.1-3l-5-11l-7.8-16l-1.8-4l-.8-2l-.2-1.2l-.6-7.8l.1-1l.5-.9l.5 1.9l1.5 3.9l1.7 5.1l4.4 6l5.9 9.6l.4 1.4l0 4l.2 1l.8 2l.8 1l1.8 1.8l1 .6l2 .9l1 .3l2 0l2-.4l3-1.6l1.7-1.6l.7-1l1-3l0-4l.6-1.9l5.7-9.1l4.4-6l1.9-5.7l1.4-3.3zM236.5 197.5l1-.5l1 .9l2 2.7l9.8 17.9l6.2 9.1l3 5l3 6.1l1.3 3.8l-.3 0l-4.5 0l-5.5-10.8l-8.4-12.2l-3.8-8l-4.1-9l-.6-3zM303.8 197.5l.7-.6l.7 .6l0 2l-.6 3l-7.4 16l-8.8 13l-5.6 11l-3.3 0l-1.5 0l1.5-4.2l3-6.1l3-4.9l5.3-7.8l9.7-17.5l2-3.1z"/>
<path fill="#8ce8ff" d="M294.4 166.5l.1-.4l.1 .4l.1 2l-.2 4.4l-.5 3.6l-.5 1.4l-10.3 21.6l-4.1 9l-1.3 3l-.6 2l-.5 3l-.7 1l-.5 1.6l-1 1.7l-1 1l-1 .8l-1 .4l-1 .1l-1.3-.6l-1.7-1.5l-1-1.4l-.7-2.1l-.6-1l-1.2-5l-.8-2l-5-11l-7.7-15.7l-2-4.4l-.7-1.9l-.3-1.8l-.3-5.2l0-2l.3-1l.2 1l.8 1.5l1 2.7l1.6 4.8l4.4 6.1l6 9.6l.3 1.3l0 4l.2 1l.9 2l.7 1l1.9 1.8l1 .7l2 .9l1 .2l2 .1l2-.4l2-.9l1-.7l1.7-1.7l.7-1l1.1-3l0-4l.5-1.7l5.8-9.3l4.5-6l1.7-5.3l1-2.7l.7-1zM237.3 198.5l.2-.2l1 .4l2 2.6l9.6 17.2l8.4 12.6l3 5.8l1 2.2l1.2 3.4l-4.5 0l-5.6-11l-8.3-12l-3.8-8l-4-9l-.3-2zM303.8 198.5l.7-.1l.2 1.1l-.4 3l-7.3 16l-8.8 13l-5.6 11l-3.1 0l-1.4 0l.4-1.3l1-2.7l3-6l2-3.4l7.2-10.6l5.8-10.7l4-6.8l1-1.4l1-1.1z"/>
<path fill="#98ebff" d="M247.5 167.5l.3 1l.7 1l2.4 7l4.6 6.2l5 7.8l1 1.9l.2 1.1l.1 4l.1 1l.9 2l1.7 2l1 .9l1 .7l2 .9l3 .2l2-.3l2-.9l1-.7l1.8-1.8l.7-1l1.1-3l0-4l.4-1.5l5.9-9.5l4.5-6l1.6-4.9l1-2.6l.6-.5l.4-1.2l0 4.7l-.6 4.5l-.4 1.3l-1.8 3.7l-8.6 18l-2.6 6l-1.5 3l-1.9 5l-.5 3l-.7 1l-.4 1.5l-1 1.7l-1.9 1.8l-1.1 .4l-1 .1l-1-.4l-1-.7l-1-1l-1-1.4l-.6-2l-.7-1l-.3-2l-.4-1l-.4-2l-.9-2l-5-11l-9.7-20.3l-.6-1.7l-.4-2.5l-.2-4.5zM237.8 200.5l.7-.8l1 .9l2 2.9l8.4 15l8.6 12.8l3 5.8l2.1 5.4l-4.2 0l-5.6-11l-8.8-13l-6.5-14.4l-.6-1.6zM302.4 200.5l1.1-.9l.5 .9l-.1 2l-2.4 5.8l-4.7 10.2l-8.8 13l-5.6 11l-1.9 0l-2.3 0l1.3-3.6l3-6.1l2-3.4l7.4-10.9l7.6-13.6l2-3.3z"/>
<path fill="#a5edff" d="M247.5 168.5l.4 1l.6 .6l2.3 6.4l5.7 7.9l4 6.3l1 1.9l.2 .9l-.1 3l.3 2l.8 2l1.8 2.2l2 1.5l2 .9l3 .2l2-.3l2-.9l1-.8l1.9-1.8l.7-1l.8-2l.2-1l.1-4l.3-1.3l6-9.6l4.5-6.1l2.5-6.9l.6-.1l.4-.3l-.7 7.3l-.3 1.2l-2.3 4.8l-8.2 17l-3.5 8l-.6 1l-1.8 5l-.5 3l-.8 1l-.3 1.3l-1 1.8l-2.1 1.9l-.9 .3l-1 .1l-1-.3l-2-1.8l-1-1.5l-.5-1.8l-.7-1l-.3-2l-.5-1.2l-.4-1.8l-1.2-3l-6-13l-8.4-17.4l-.5-1.6l-.5-3.6zM238.4 201.5l.1-.4l1 .3l1 1.2l3 4.9l6.8 12l8.2 12.1l3 5.8l2.1 5.1l-4 0l-5.6-11l-8.8-13l-5.7-12.9l-1.2-3.1zM302.3 201.5l.2-.3l1 .2l0 1.1l-2 5.1l-4.9 10.9l-9.4 14l-5 10l-1.7 0l-2.2 0l1.2-3.3l3-6.1l2-3.4l7-10.2l8-14.1l2-3.1z"/>
<path fill="#b2f0ff" d="M293.4 170.5l.1-.3l.3 .3l.2 1l-.3 5l-.2 1l-.6 1l-1.4 3.3l-8.6 17.7l-3.4 7.8l-.7 1.2l-1.8 5l-.4 3l-.8 1l-.3 1.2l-1 1.8l-1 1.1l-1.3 .9l-.7 .2l-1 .1l-1-.3l-2-1.8l-1-1.6l-.4-1.6l-.8-1l-.2-2l-.6-1.5l-.3-1.5l-1.2-3l-1.5-2.9l-.3-1.1l-3.2-7l-5.5-11.2l-4-8.4l-.4-1.4l-.5-5l.9-.9l2.2 5.9l5.8 8.1l4 6.3l1 2.1l.3 5.5l.3 1l1.2 2l1.2 1.3l2 1.5l2 .9l3 .2l2-.3l2-.9l1-.8l1.1-.9l1.6-2l.9-2l.1-1l.1-4l.2-1.1l1-1.8l5-7.8l4.6-6.3l1.4-4zM239.4 202.5l.1-.1l1 1.1l2 2.9l7.6 13.1l8.4 12.4l3 5.9l2 4.7l-3.7 0l-5-10l-9.4-14l-3.9-8.9l-2-5.1l-.2-1zM302.4 202.5l.2 0l0 1l-1.1 3.2l-3 7.1l-2.7 5.7l-8.8 13l-5 10l-2.5 0l-1.1 0l.1-.4l2-4.8l3-5.8l8.2-12l5.8-10.1l3-4.8l1-1.4z"/>
<path fill="#bff2ff" d="M248.3 171.5l.2-.2l.4 1.2l.6 1l.7 2l1 2l4.3 5.8l5 7.8l1 2.4l.2 5l.3 1l1.1 2l1.4 1.5l1 .7l2 1.2l1 .3l3 .2l2-.2l2-.9l2-1.6l1.8-2.2l.9-2l.3-5.8l1-1.9l4-6.3l5.7-8l1.3-3.5l.4-.5l.6-1.5l.2 .5l.1 2l-.3 3.7l-3 6.5l-.5 .8l-7.2 15l-1.3 3.1l-2.8 5.9l-.2 .9l-.6 1.1l-1 3l-.4 3l-.8 1l-.2 1l-1 1.8l-1 1.2l-2 1.2l-1 0l-.7-.2l-1.3-.9l-1-1l-1-1.7l-.3-1.4l-.7-.7l-.6-3.3l-1.8-5l-.6-.9l-.3-1.1l-.7-1.2l-3.4-7.8l-7.6-15.5l-1.5-3.5l-.5-.8l-.3-1.2l-.2-3l0-1zM241 206.5l.5-.5l1 1.3l2 3.1l5.3 9.1l8.7 12.7l3 5.9l1.8 4.4l-3.3 0l-5-10l-9.3-14l-4.2-9.8zM300.1 206.5l.4-.8l.3 .8l-.3 1.5l-3 7.5l-1.9 4l-8.8 13l-5 10l-2.3 0l-1 0l0-.1l2-4.7l3-5.9l8.5-12.3l6.5-11.1l1-1.4z"/>
<path fill="#ccf5ff" d="M248.3 172.5l.2-.4l2.5 5.4l4.5 5.9l5 7.9l.9 2.2l0 3l.4 3l1.2 2l1.5 1.6l1 .8l2 1.1l1 .3l3 .2l2-.2l1-.4l2-1.2l1-.8l1.3-1.4l1.1-2l.4-1l.1-5l1.1-2.4l5-7.9l4.3-5.7l1-2l.7-1.9l.8-1.1l.2-.5l.2 1.5l-.2 3.4l-3 6.6l-.7 1l-.3 1l-2.6 5l-3.8 8l-5.3 12l-.3 1.3l-.7 1.7l-.3 3l-.9 1l-.1 .7l-1 1.9l-1 1.2l-1.8 1.2l-1.5 0l-1.7-1l-1-1.1l-1-1.7l-.3-1.2l-.8-1l-.4-3l-.5-1l-.5-2l-.5-.9l-.3-1.1l-.7-1.2l-2.4-5.8l-.6-1l-.3-1l-3.3-7l-5.4-10.7l-1.4-3.3l-.6-1l-.3-2zM242.4 209.5l.1-.9l.5 .9l.5 .2l2 3l3.4 5.8l9.6 14l3 6l1.6 4l-2.9 0l-5-10l-8.8-13l-2.9-6.7zM298.4 209.5l.7 0l-.6 2.7l-3 7l-8.3 12.3l-5.6 11l-1.1 0l-1.9 0l1.9-4.4l3-5.9l8.7-12.7l4.3-7.2z"/>
<path fill="#d9f7ff" d="M248.4 173.5l.1-.3l1 1.4l.7 1.9l.6 1l3.7 4.8l6 9.3l.7 1.9l.1 1l-.1 2l.5 3l1.1 2l2.7 2.6l2 1.1l3 .5l3-.3l1-.3l3-2l1.5-1.6l1.1-2l.3-1l.1-5l1-2.2l5-7.9l4.5-5.9l1.1-2l.4-1.3l1-.8l0 3.2l-4 8.5l-3.8 7.4l-2.2 5.1l-.6 .9l-2.4 5.8l-.7 1.2l-.3 1.1l-.6 .9l-.4 1.3l-.4 .7l-.6 2l-.5 1l-.5 3.4l-.3 .6l-.6 1l-1.1 2.3l-1 1.2l-2 1.4l-1 .1l-1.7-1l-1.3-1.4l-1-1.6l-.2-1l-.8-.9l-.4-3.1l-.6-1.4l-.3-1.6l-.7-1.2l-.2-.8l-1.8-3.8l-.4-1.2l-.6-1l-.3-1l-4.1-9l-2.6-4.9l-.4-1.1l-.6-.9l-.4-1.1l-.6-.9l-.3-1.1l-.7-1l-.3-1l-.7-1.1l-.2-.9l-.8-1.4l-.1-.6zM244.3 212.5l.2-.3l1 1.2l3.8 6.1l8.2 11.7l4 7.7l1.4 3.6l-2.5 0l-5.5-11l-8.4-12.4l-2-4.9zM297.3 212.5l.2-.5l.2 .5l-.2 1l-2 5.2l-8.6 12.8l-5.6 11l-.8 0l-1.6 0l1.6-4l3-6l8.4-12l3.6-5.9l1-1.4z"/>
<path fill="#e5faff" d="M248.5 175.5l0-.6l1 .4l.4 1.2l4.6 6l6 9.6l.5 2.4l0 3l.9 3l.7 1l1.9 1.9l1 .9l2 1l3 .6l2-.1l2-.5l2-1.1l2.7-2.7l1.1-2l.5-3l-.1-2l.1-1l.7-1.9l6-9.3l3.7-4.8l.6-1l.7-1.6l.6 .6l.1 1l-.7 2.1l-.6 .9l-.4 1.2l-.6 .8l-.4 1.2l-.6 .8l-1.3 3l-2.6 5l-.5 1.3l-3.7 7.7l-.3 1.1l-.6 .9l-.4 1.3l-1.8 3.7l-.2 1l-.6 1l-.4 1.5l-.7 1.5l-.3 2.8l-2 4.3l-1.8 1.9l-1.2 .6l-1 .1l-1.4-.7l-1.6-1.7l-1-1.8l-.1-.5l-.9-1l-.3-3l-.7-1.8l-.2-1.2l-.8-1.6l-.4-1.4l-.6-.9l-.3-1.1l-.7-1.2l-1.5-3.8l-.5-.8l-.4-1.2l-.6-.9l-.3-1.1l-.7-1.1l-1.2-2.9l-6.8-13.5l-1-2.3zM246.1 216.5l.4-.6l2.4 3.6l8.6 12.1l4 7.8l1.2 3.1l-2 0l-5.6-11l-8.6-13zM295 216.5l.5-.9l.3 .9l-.3 1.3l-.8 1.7l-8.6 13l-4.6 9.2l-.5 .8l-.5 0l-1.4 0l.4-1.2l4-8.3l3-4.6l6.5-8.9l1.5-2.5z"/>
<path fill="#f2fcff" d="M249 176.5l.5-.5l1.5 2.5l2.5 3.1l4 6.1l3 4.9l.4 5.9l.8 2l1.3 2l1.5 1.3l2 1.4l2 .7l1 .3l2 0l2-.3l2-.8l3.2-2.6l1.5-2l.3-1.3l.4-.7l.3-2l0-3l.3-1.2l1-1.9l5-7.7l4.7-6.2l.3-.7l.3 .7l-.3 1.6l-4.3 8.4l-3.5 7l-.2 .8l-.7 1.2l-.3 1l-.7 1l-.3 1.1l-.6 .9l-1.4 3.7l-.7 1.3l-.3 1.1l-.6 .9l-.4 1.3l-.5 .7l-.5 1.9l-.6 1.1l-.4 3.1l-.5 .9l-.2 1l-.7 1l-.6 1.6l-1 1.4l-1.2 1l-.8 .3l-1 0l-1.1-.3l-1.9-2l-.3-1l-1.3-2l-.4-.8l-.3-3.2l-.7-1.5l-.3-1.5l-.7-1.2l-.2-.8l-.8-1.5l-.5-1.5l-.5-.8l-.3-1.2l-.7-1.2l-.6-1.8l-2.4-4.8l-.4-1.2l-.6-.9l-.3-1.1l-1.7-2.9l-.3-1.1l-.7-.9l-.3-1.1l-.7-.9l-.4-1.1l-.6-.9l-.4-1.1l-.6-.9l-.3-1.1l-.7-.9zM247.4 218.5l.1-.1l.1 .1l-.1 .5zM294.4 218.5l.1-.2l0 .2l0 .2zM293.4 219.5l.1-.1l.3 .1l-.2 1l-.1 .1l-.5-.1zM248.3 220.5l.2-.8l.4 .8l-.4 .3zM249.1 221.5l.4-.4l8 11l3 5.9l2 4.5l-1.4 0l-5-10l-4.6-6.9l-.5-1.1l-1.5-2zM292.1 221.5l.4-.7l.3 .7l-.3 .6zM291.3 222.5l.2-.4l.6 .4l-.5 1l-5.9 9l-4.2 8.5l-.8 1.5l-.2 0l-1.2 0l.2-.6l4-8.3l2-3.3z"/>
<path fill="#ffffff" d="M249.5 177.5l0-.1l0 .1l0 .1zM250.3 178.5l.2-.1l.1 .1l.6 1l-.7 .1l0-.1zM291.3 178.5l.2-.3l.1 .3l-.1 .6zM290.4 179.5l.1-.1l.6 .1l-.6 1.6l-1.4 2.4l-2.6 5.3l-.5 .7l-3.5 7.6l-1 .4l0 .3l0-3.8l1-2.5l4.6-7l.4-.9zM251.2 180.5l.3-.9l.4 .9l1.6 1.9l1.2 2.1l.8 1l.5 1l1.5 2.1l.4 .9l1.6 2.4l.7 2.6l-.2 2l-.4 1l-.1 .1l-.3-1.1l-.7-.9l-.3-1.1l-.7-1l-.3-1l-1.7-3.2l-.2-.8l-.8-1.2l-.2-.8l-.8-1.2l-.2-.8l-.8-1.1l-.3-.9l-.7-.9zM279.5 202.5l0 1.5l-.8 1.5l-.2 1.1l-.6 .9l-.4 1.4l-.7 1.6l-.3 2.7l-.6 1.3l-.3 2l-1 1l-.1 .7l-1 1.5l-.8 .8l-1.2 .7l-1 0l-1.4-.7l-1.6-1.9l-.3-1.1l-.9-1l-.2-1l-.4-1l-.2-.3l-.2-2.7l-.3-1l-.5-.9l-.2-1.1l-.8-1.6l-.4-1.4l-.6-.9l-.2-1.1l.2-.7l3 2.4l2 1l3 .4l3-.2l1-.3l.9-.6l1.1-.4zM287.5 228.5l0 .1zM255.4 230.5l.1-.3l.1 .3l-.1 .2zM286.4 230.5l.1-.3l0 .3l0 .1zM256.3 231.5l.2-.2l.1 .2l.1 1l-.2 .1l0-.1zM285.3 231.5l.2-.3l.2 .3l-.2 .6zM284.5 232.5l.1 0l.1 1l-.2 .6l-.2-.6zM257.2 233.5l.3-.5l.2 .5l0 1l-.2 .1l0-.1zM283.5 234.5l.2 0l0 1l-.2 .6l-.2-.6zM258.3 235.5l.2-.5l.2 .5l0 1l-.2 .1l0-.1zM282.5 236.5l0-.1l.2 .1l0 1l-.2 .5l-.2-.5zM259.3 237.5l.2-.5l.2 .5l0 1l-.2 0zM281.5 238.5l.2 0l-.1 1l-.1 .5l-.2-.5zM260.3 239.5l.2-.5l.1 .5l-.1 1zM261.3 241.5l.2-.3l.1 .3l-.1 1zM280.4 241.5l.1-.8l.1 .8l-.1 .4z"/></g></g>
<rect x="204.4" y="42.2" width="132.9" height="197" fill="url(#xh)"/>
<g transform="translate(397.3 45.47) scale(1.331 6.1375)" fill="none" stroke-width="1" shape-rendering="crispEdges" >
<path stroke="#00001d" d="M38 22h1M62 22h1M40 23h1"/>
<path stroke="#00002e" d="M39 22h1M41 22h1M59 22h1M41 23h2M56 23h1"/>
<path stroke="#00003f" d="M39 21h1M65 21h1M36 22h1M40 22h1M58 22h1M43 23h1M58 23h1"/>
<path stroke="#000050" d="M32 20h1M71 20h1M34 21h2M38 21h1M64 21h1M66 21h1M37 22h1M63 22h1M39 23h1M44 23h1M59 23h2"/>
<path stroke="#000061" d="M66 6h1M74 8h1M32 15h1M36 15h1M40 16h1M52 16h1M59 16h1M44 17h1M75 19h1M31 20h1M63 20h1M66 20h1M33 21h1M36 21h1M60 21h1M62 21h2M67 21h1M60 22h2M54 23h1M57 23h1M61 23h1"/>
<path stroke="#000070" d="M68 4h1M57 5h1M64 5h1M35 8h3M53 8h1M60 8h2M63 8h1M67 8h1M75 8h2M79 8h1M40 14h1M57 14h1M67 14h1M35 15h1M37 15h1M39 15h1M58 15h1M61 15h1M65 15h2M55 16h1M65 16h1M41 17h2M58 17h1M24 19h1M66 19h1M68 19h1M70 19h1M73 19h1M34 20h2M65 20h1M68 20h1M32 21h1M59 21h1M68 21h1M57 22h1M38 23h1M55 23h1"/>
<path stroke="#00007d" d="M62 2h2M70 2h1M30 3h1M53 5h1M56 5h1M58 5h1M67 5h1M55 6h1M24 8h2M28 8h1M30 8h1M33 8h1M39 8h3M43 8h2M55 8h1M57 8h1M59 8h1M62 8h1M68 8h2M73 8h1M80 8h1M82 8h1M58 11h1M35 14h1M41 14h1M54 14h1M56 14h1M62 14h3M40 15h1M43 15h3M59 15h1M62 15h1M64 15h1M34 16h2M44 16h2M54 16h1M56 16h2M64 16h1M40 17h1M57 17h1M64 17h1M66 17h1M20 18h1M22 18h1M21 19h2M29 19h1M67 19h1M69 19h1M74 19h1M76 19h1M28 20h3M36 20h2M64 20h1M67 20h1M37 21h1M40 21h1M61 21h1M35 22h1M42 22h1M64 22h1"/>
<path stroke="#00008a" d="M54 2h6M61 2h1M35 3h1M63 3h1M67 3h1M70 3h1M65 4h1M55 5h1M66 5h1M68 5h1M53 6h2M56 6h1M65 6h1M67 6h1M70 6h1M56 7h1M58 7h1M1 8h1M18 8h1M23 8h1M32 8h1M34 8h1M38 8h1M51 8h1M54 8h1M66 8h1M71 8h2M77 8h2M83 8h1M89 8h1M33 11h2M41 11h1M56 11h1M62 11h1M31 14h2M37 14h3M42 14h1M53 14h1M58 14h1M60 14h1M65 14h1M69 14h1M34 15h1M41 15h1M52 15h1M54 15h4M67 15h1M36 16h1M38 16h2M53 16h1M62 16h2M66 16h1M37 17h2M45 17h1M52 17h1M54 17h1M59 17h1M62 17h1M21 18h1M23 18h1M25 18h1M74 18h2M77 18h1M80 18h1M27 19h2M30 19h1M32 19h1M72 19h1M77 19h1M79 19h1M33 20h1M69 20h2M58 21h1M37 23h1M62 23h1"/>
<path stroke="#000097" d="M36 2h1M44 2h1M60 2h1M65 2h1M68 2h1M29 3h1M31 3h3M36 3h1M39 3h1M42 3h1M58 3h2M42 4h1M44 4h1M54 4h1M57 4h1M62 4h2M66 4h1M69 4h1M73 4h1M52 5h1M54 5h1M59 5h4M65 5h1M69 5h1M32 6h1M51 6h2M57 6h1M59 6h1M61 6h1M64 6h1M68 6h1M55 7h1M57 7h1M60 7h1M68 7h1M5 8h1M8 8h2M14 8h1M16 8h1M26 8h2M29 8h1M31 8h1M42 8h1M52 8h1M56 8h1M58 8h1M64 8h2M70 8h1M85 8h1M30 11h2M35 11h1M39 11h2M54 11h2M59 11h1M61 11h1M65 11h1M68 11h1M29 14h1M33 14h2M36 14h1M43 14h2M51 14h2M61 14h1M33 15h1M38 15h1M42 15h1M53 15h1M63 15h1M32 16h2M37 16h1M41 16h1M43 16h1M58 16h1M60 16h1M67 16h1M36 17h1M39 17h1M53 17h1M55 17h1M61 17h1M65 17h1M67 17h1M9 18h1M57 18h1M72 18h2M76 18h1M78 18h2M81 18h1M20 19h1M31 19h1M65 19h1M71 19h1M78 19h1M38 20h1M62 20h1M72 20h1M41 21h1M57 21h1M56 22h1M25 23h1"/>
<path stroke="#0007a4" d="M39 2h1M52 2h2M64 2h1M66 2h2M69 2h1M34 3h1M37 3h2M41 3h1M43 3h1M45 3h1M52 3h2M55 3h2M65 3h1M68 3h2M71 3h1M86 3h1M40 4h1M52 4h1M56 4h1M58 4h4M71 4h1M31 5h1M50 5h1M63 5h1M70 5h2M0 6h1M36 6h1M58 6h1M63 6h1M74 6h1M53 7h2M62 7h5M69 7h1M7 8h1M10 8h1M15 8h1M17 8h1M21 8h1M45 8h1M50 8h1M81 8h1M84 8h1M86 8h1M90 8h1M92 8h3M96 8h3M63 10h1M65 10h1M32 11h1M37 11h1M42 11h1M53 11h1M63 11h1M66 11h2M55 12h1M32 13h1M52 13h1M28 14h1M45 14h1M55 14h1M59 14h1M66 14h1M15 15h1M31 15h1M60 15h1M68 15h1M42 16h1M46 16h1M50 16h2M61 16h1M35 17h1M56 17h1M60 17h1M68 17h1M18 18h1M61 18h1M70 18h2M23 19h1M25 19h2M61 20h1M92 20h1M2 21h1M14 21h1M31 21h1M80 21h1M9 23h1M26 23h1M28 23h1M86 23h1M98 23h1"/>
<path stroke="#0021b0" d="M5 2h1M13 2h1M22 2h1M28 2h1M32 2h1M40 2h1M46 2h1M74 2h1M76 2h1M94 2h1M3 3h1M8 3h2M12 3h1M21 3h2M28 3h1M40 3h1M51 3h1M54 3h1M60 3h3M64 3h1M85 3h1M87 3h1M2 4h1M29 4h1M32 4h1M41 4h1M53 4h1M55 4h1M64 4h1M81 4h1M84 4h1M87 4h1M90 4h1M33 5h1M44 5h1M75 5h1M35 6h1M50 6h1M60 6h1M79 6h1M86 6h2M99 6h1M29 7h1M51 7h1M59 7h1M67 7h1M74 7h1M0 8h1M2 8h3M13 8h1M19 8h2M22 8h1M48 8h2M87 8h1M91 8h1M99 8h1M56 9h1M70 9h1M52 10h1M56 10h1M61 10h1M64 10h1M29 11h1M36 11h1M38 11h1M52 11h1M57 11h1M64 11h1M70 11h1M92 11h1M64 12h1M30 14h1M50 14h1M68 14h1M70 14h1M5 15h1M7 15h1M9 15h1M90 15h1M96 15h2M47 16h1M49 16h1M68 16h1M0 17h1M9 17h1M16 17h1M43 17h1M63 17h1M83 17h1M87 17h3M99 17h1M11 18h2M15 18h1M19 18h1M24 18h1M26 18h1M43 18h1M50 18h1M54 18h3M58 18h2M62 18h3M88 18h1M11 19h1M33 19h1M64 19h1M96 19h1M2 20h1M84 20h1M98 20h1M20 21h1M96 21h1M0 22h1M43 22h1M88 22h2M22 23h3M45 23h1"/>
<path stroke="#003abd" d="M4 2h1M10 2h1M12 2h1M21 2h1M27 2h1M30 2h2M33 2h3M37 2h1M41 2h3M45 2h1M73 2h1M77 2h1M82 2h1M85 2h1M87 2h1M89 2h1M91 2h1M93 2h1M97 2h1M99 2h1M6 3h2M13 3h1M16 3h1M20 3h1M23 3h1M27 3h1M57 3h1M66 3h1M73 3h2M78 3h1M81 3h2M88 3h1M92 3h1M94 3h1M96 3h1M99 3h1M0 4h2M3 4h2M17 4h1M28 4h1M30 4h2M34 4h2M38 4h2M46 4h1M67 4h1M70 4h1M79 4h1M82 4h1M85 4h1M92 4h2M95 4h1M97 4h1M32 5h1M36 5h1M41 5h1M51 5h1M72 5h1M74 5h1M79 5h1M82 5h1M91 5h2M94 5h1M29 6h2M33 6h1M38 6h1M41 6h1M69 6h1M72 6h1M76 6h1M91 6h1M94 6h2M98 6h1M0 7h1M14 7h1M30 7h1M52 7h1M61 7h1M71 7h3M80 7h1M96 7h3M6 8h1M11 8h2M46 8h1M95 8h1M54 9h1M58 9h1M64 9h1M66 9h1M51 10h1M58 10h1M62 10h1M28 11h1M51 11h1M71 11h1M77 11h1M81 11h1M85 11h1M94 11h1M39 12h1M44 12h1M62 12h1M67 12h1M1 13h1M5 13h1M11 13h1M37 13h1M41 13h1M65 13h1M97 13h1M99 13h1M13 14h1M74 14h1M0 15h1M2 15h1M8 15h1M13 15h1M46 15h1M49 15h3M69 15h2M72 15h1M92 15h2M5 16h2M17 16h1M31 16h1M85 16h1M91 16h1M93 16h1M95 16h1M18 17h1M46 17h1M70 17h1M72 17h1M90 17h1M4 18h1M8 18h1M10 18h1M38 18h1M41 18h2M51 18h3M60 18h1M66 18h1M68 18h1M82 18h2M1 19h1M12 19h2M80 19h1M84 19h1M92 19h2M97 19h1M11 20h1M13 20h1M16 20h1M60 20h1M90 20h2M5 21h1M12 21h1M15 21h1M18 21h1M69 21h2M91 21h1M3 22h1M5 22h2M9 22h1M11 22h1M16 22h2M23 22h1M75 22h1M77 22h1M79 22h2M82 22h1M86 22h1M94 22h1M99 22h1M0 23h1M3 23h3M7 23h1M10 23h1M13 23h2M17 23h1M27 23h1M63 23h1M70 23h1M74 23h1M80 23h1M91 23h1M93 23h1M96 23h1M99 23h1"/>
<path stroke="#0053ca" d="M53 1h1M0 2h1M26 2h1M29 2h1M50 2h1M71 2h2M79 2h2M84 2h1M95 2h1M0 3h2M11 3h1M15 3h1M19 3h1M24 3h3M44 3h1M49 3h1M72 3h1M79 3h1M89 3h1M91 3h1M93 3h1M95 3h1M6 4h4M18 4h1M25 4h1M27 4h1M37 4h1M43 4h1M45 4h1M50 4h2M77 4h2M86 4h1M89 4h1M91 4h1M94 4h1M99 4h1M27 5h1M29 5h2M34 5h2M38 5h3M49 5h1M81 5h1M83 5h1M95 5h1M97 5h2M22 6h1M28 6h1M34 6h1M40 6h1M42 6h2M45 6h1M62 6h1M75 6h1M78 6h1M85 6h1M90 6h1M92 6h2M97 6h1M6 7h1M10 7h1M15 7h1M28 7h1M76 7h2M83 7h1M85 7h1M88 7h1M92 7h1M95 7h1M99 7h1M47 8h1M88 8h1M53 9h1M55 9h1M59 9h2M62 9h1M67 9h2M72 9h1M74 9h1M76 9h1M78 9h1M81 9h1M1 10h1M34 10h1M53 10h1M59 10h2M66 10h2M69 10h2M83 10h1M86 10h1M6 11h1M8 11h1M21 11h1M60 11h1M72 11h1M83 11h1M88 11h1M90 11h1M99 11h1M3 12h2M26 12h1M30 12h2M33 12h1M36 12h1M41 12h1M43 12h1M51 12h4M60 12h1M63 12h1M72 12h1M77 12h1M79 12h1M86 12h1M97 12h1M99 12h1M3 13h1M6 13h1M8 13h1M27 13h1M30 13h2M34 13h1M42 13h4M53 13h1M58 13h1M60 13h3M64 13h1M67 13h1M98 13h1M3 14h1M6 14h2M11 14h1M27 14h1M46 14h1M92 14h2M95 14h1M97 14h1M1 15h1M3 15h1M11 15h2M16 15h1M30 15h1M89 15h1M91 15h1M94 15h2M98 15h1M4 16h1M7 16h1M10 16h2M16 16h1M20 16h2M99 16h1M2 17h1M11 17h3M17 17h1M20 17h1M22 17h1M51 17h1M71 17h1M82 17h1M93 17h1M96 17h1M0 18h1M2 18h2M5 18h1M7 18h1M17 18h1M39 18h1M44 18h1M69 18h1M84 18h1M87 18h1M89 18h2M92 18h2M95 18h2M5 19h3M19 19h1M34 19h1M44 19h2M60 19h1M63 19h1M86 19h1M90 19h1M95 19h1M98 19h1M3 20h1M7 20h1M10 20h1M18 20h1M39 20h1M43 20h1M51 20h1M53 20h1M81 20h2M85 20h1M88 20h1M94 20h1M97 20h1M0 21h2M6 21h1M9 21h1M11 21h1M13 21h1M17 21h1M21 21h1M30 21h1M78 21h2M85 21h2M89 21h2M94 21h1M97 21h1M99 21h1M7 22h2M10 22h1M13 22h1M15 22h1M18 22h1M21 22h1M25 22h1M72 22h1M78 22h1M81 22h1M85 22h1M93 22h1M95 22h1M97 22h2M8 23h1M16 23h1M19 23h1M21 23h1M46 23h1M71 23h1M79 23h1M81 23h1M83 23h1M85 23h1M87 23h1M90 23h1M95 23h1"/>
<path stroke="#006ed6" d="M23 0h1M25 0h1M85 0h1M89 0h1M92 0h1M3 1h1M8 1h2M23 1h1M74 1h1M78 1h1M83 1h1M91 1h1M99 1h1M1 2h2M6 2h2M9 2h1M11 2h1M15 2h3M19 2h1M25 2h1M38 2h1M47 2h1M49 2h1M51 2h1M75 2h1M78 2h1M81 2h1M83 2h1M86 2h1M92 2h1M96 2h1M2 3h1M5 3h1M10 3h1M18 3h1M46 3h1M75 3h3M80 3h1M83 3h1M90 3h1M98 3h1M5 4h1M11 4h1M13 4h1M23 4h2M26 4h1M33 4h1M36 4h1M47 4h1M76 4h1M80 4h1M83 4h1M88 4h1M96 4h1M98 4h1M23 5h1M26 5h1M28 5h1M42 5h2M45 5h1M76 5h3M84 5h1M86 5h2M89 5h1M96 5h1M7 6h1M15 6h2M19 6h1M24 6h1M26 6h2M44 6h1M46 6h1M71 6h1M73 6h1M77 6h1M80 6h5M89 6h1M3 7h3M11 7h1M13 7h1M16 7h1M18 7h1M22 7h2M26 7h2M31 7h1M49 7h2M70 7h1M75 7h1M81 7h2M84 7h1M87 7h1M90 7h2M94 7h1M52 9h1M57 9h1M61 9h1M63 9h1M65 9h1M69 9h1M75 9h1M80 9h1M93 9h2M96 9h2M29 10h4M35 10h2M39 10h1M54 10h2M57 10h1M68 10h1M75 10h1M91 10h1M93 10h1M99 10h1M2 11h1M7 11h1M12 11h2M16 11h1M20 11h1M26 11h1M43 11h2M69 11h1M79 11h2M82 11h1M84 11h1M86 11h1M89 11h1M93 11h1M95 11h1M97 11h1M21 12h1M25 12h1M27 12h1M35 12h1M50 12h1M56 12h2M61 12h1M66 12h1M68 12h1M73 12h1M76 12h1M87 12h1M9 13h2M25 13h1M28 13h1M33 13h1M35 13h2M51 13h1M54 13h1M56 13h2M68 13h2M72 13h1M93 13h1M96 13h1M0 14h1M4 14h2M9 14h1M12 14h1M26 14h1M71 14h3M90 14h1M4 15h1M6 15h1M14 15h1M47 15h2M71 15h1M73 15h2M88 15h1M99 15h1M0 16h1M3 16h1M8 16h2M12 16h4M18 16h2M70 16h2M73 16h1M82 16h1M86 16h3M92 16h1M94 16h1M97 16h1M4 17h2M7 17h1M14 17h1M21 17h1M23 17h1M47 17h4M69 17h1M81 17h1M85 17h1M92 17h1M94 17h2M97 17h2M13 18h2M16 18h1M40 18h1M45 18h2M65 18h1M67 18h1M86 18h1M94 18h1M99 18h1M0 19h1M2 19h3M8 19h1M10 19h1M35 19h1M47 19h1M49 19h3M57 19h1M59 19h1M81 19h2M85 19h1M87 19h3M91 19h1M94 19h1M1 20h1M4 20h3M17 20h1M27 20h1M45 20h1M54 20h1M56 20h1M59 20h1M83 20h1M93 20h1M96 20h1M3 21h2M7 21h2M16 21h1M19 21h1M42 21h1M76 21h1M82 21h2M87 21h2M92 21h2M2 22h1M12 22h1M14 22h1M55 22h1M65 22h1M74 22h1M76 22h1M83 22h1M90 22h2M96 22h1M1 23h2M6 23h1M11 23h2M15 23h1M18 23h1M20 23h1M29 23h1M67 23h1M77 23h2M82 23h1M88 23h2M94 23h1"/>
<path stroke="#008be3" d="M7 0h1M72 0h1M75 0h1M80 0h1M84 0h1M0 1h1M2 1h1M5 1h2M10 1h2M14 1h1M17 1h1M19 1h1M25 1h1M65 1h1M71 1h2M82 1h1M87 1h1M94 1h1M97 1h1M3 2h1M20 2h1M23 2h2M98 2h1M4 3h1M14 3h1M17 3h1M50 3h1M84 3h1M10 4h1M15 4h2M21 4h1M48 4h2M74 4h2M1 5h1M3 5h1M25 5h1M37 5h1M46 5h1M80 5h1M85 5h1M88 5h1M90 5h1M93 5h1M99 5h1M1 6h1M3 6h2M8 6h2M11 6h1M13 6h2M17 6h2M21 6h1M31 6h1M37 6h1M39 6h1M47 6h1M88 6h1M1 7h2M8 7h1M12 7h1M17 7h1M19 7h3M24 7h2M32 7h1M78 7h1M86 7h1M89 7h1M93 7h1M13 9h1M28 9h1M32 9h1M40 9h1M45 9h1M50 9h2M71 9h1M79 9h1M82 9h1M84 9h1M86 9h3M92 9h1M98 9h2M4 10h1M26 10h1M28 10h1M33 10h1M38 10h1M40 10h2M71 10h2M78 10h1M81 10h2M84 10h2M89 10h2M94 10h1M98 10h1M0 11h1M22 11h1M24 11h2M27 11h1M45 11h1M50 11h1M73 11h4M78 11h1M87 11h1M96 11h1M98 11h1M23 12h2M28 12h1M37 12h1M45 12h1M59 12h1M69 12h3M74 12h1M81 12h1M88 12h1M92 12h2M95 12h2M0 13h1M2 13h1M4 13h1M7 13h1M26 13h1M29 13h1M39 13h2M46 13h1M49 13h1M55 13h1M59 13h1M63 13h1M66 13h1M74 13h1M79 13h1M86 13h1M94 13h2M1 14h2M10 14h1M14 14h1M49 14h1M75 14h2M91 14h1M94 14h1M96 14h1M99 14h1M83 15h1M1 16h2M48 16h1M69 16h1M74 16h1M83 16h2M89 16h2M96 16h1M98 16h1M3 17h1M8 17h1M10 17h1M19 17h1M34 17h1M76 17h1M79 17h2M84 17h1M86 17h1M91 17h1M1 18h1M6 18h1M36 18h2M47 18h1M85 18h1M91 18h1M97 18h2M9 19h1M14 19h1M46 19h1M52 19h1M54 19h1M56 19h1M62 19h1M83 19h1M99 19h1M0 20h1M8 20h2M14 20h1M19 20h1M26 20h1M41 20h1M44 20h1M50 20h1M55 20h1M57 20h2M73 20h1M77 20h1M86 20h1M99 20h1M10 21h1M22 21h1M56 21h1M71 21h2M77 21h1M81 21h1M84 21h1M98 21h1M1 22h1M4 22h1M19 22h2M22 22h1M24 22h1M26 22h1M34 22h1M71 22h1M73 22h1M84 22h1M87 22h1M92 22h1M36 23h1M68 23h1M73 23h1M75 23h2M92 23h1M97 23h1"/>
<path stroke="#00a7ef" d="M1 0h3M5 0h1M8 0h1M22 0h1M24 0h1M28 0h1M49 0h1M76 0h2M82 0h1M87 0h2M94 0h1M97 0h1M7 1h1M12 1h1M18 1h1M22 1h1M24 1h1M27 1h2M31 1h1M36 1h2M49 1h1M51 1h1M61 1h2M68 1h1M70 1h1M75 1h1M79 1h2M86 1h1M88 1h2M92 1h2M95 1h2M98 1h1M8 2h1M18 2h1M88 2h1M90 2h1M47 3h1M97 3h1M12 4h1M14 4h1M19 4h1M22 4h1M72 4h1M0 5h1M2 5h1M9 5h1M14 5h2M18 5h1M20 5h3M73 5h1M5 6h1M10 6h1M12 6h1M25 6h1M49 6h1M96 6h1M7 7h1M34 7h1M38 7h1M41 7h1M44 7h1M79 7h1M0 9h1M5 9h3M10 9h1M21 9h1M24 9h1M29 9h1M31 9h1M34 9h1M41 9h1M43 9h2M83 9h1M85 9h1M89 9h1M91 9h1M2 10h1M5 10h1M13 10h1M22 10h1M27 10h1M37 10h1M42 10h2M50 10h1M73 10h2M76 10h2M87 10h2M96 10h2M1 11h1M3 11h1M10 11h2M14 11h2M17 11h3M23 11h1M46 11h2M49 11h1M91 11h1M1 12h2M5 12h2M29 12h1M32 12h1M34 12h1M38 12h1M40 12h1M42 12h1M46 12h1M65 12h1M75 12h1M78 12h1M80 12h1M82 12h1M84 12h2M90 12h1M94 12h1M98 12h1M24 13h1M38 13h1M47 13h1M50 13h1M70 13h2M73 13h1M92 13h1M8 14h1M47 14h2M80 14h1M82 14h1M89 14h1M98 14h1M10 15h1M18 15h1M29 15h1M75 15h1M78 15h1M80 15h2M86 15h2M23 16h1M72 16h1M76 16h1M1 17h1M6 17h1M15 17h1M24 17h2M73 17h2M77 17h1M49 18h1M17 19h1M48 19h1M53 19h1M55 19h1M58 19h1M61 19h1M12 20h1M15 20h1M42 20h1M47 20h3M52 20h1M78 20h1M80 20h1M87 20h1M89 20h1M95 20h1M75 21h1M95 21h1M66 22h1M30 23h1M53 23h1M69 23h1M72 23h1M84 23h1"/>
<path stroke="#00c4fc" d="M4 0h1M6 0h1M12 0h1M17 0h5M26 0h1M34 0h1M44 0h2M74 0h1M79 0h1M81 0h1M86 0h1M90 0h1M96 0h1M99 0h1M1 1h1M13 1h1M15 1h2M20 1h2M26 1h1M33 1h3M38 1h1M41 1h1M43 1h2M52 1h1M59 1h1M64 1h1M66 1h2M69 1h1M76 1h2M81 1h1M84 1h2M90 1h1M14 2h1M48 2h1M48 3h1M20 4h1M4 5h1M8 5h1M10 5h2M17 5h1M47 5h2M20 6h1M23 6h1M9 7h1M39 7h2M46 7h3M2 9h1M4 9h1M9 9h1M16 9h1M19 9h1M22 9h1M25 9h2M30 9h1M33 9h1M35 9h1M38 9h2M42 9h1M48 9h2M73 9h1M77 9h1M95 9h1M3 10h1M8 10h2M23 10h1M46 10h2M79 10h1M92 10h1M4 11h2M9 11h1M48 11h1M0 12h1M7 12h1M9 12h1M22 12h1M49 12h1M58 12h1M83 12h1M89 12h1M12 13h1M48 13h1M78 13h1M81 13h3M88 13h2M25 14h1M78 14h1M81 14h1M84 14h1M86 14h2M28 15h1M82 15h1M84 15h2M30 16h1M75 16h1M78 16h1M81 16h1M75 17h1M27 18h1M18 19h1M36 19h1M39 19h1M42 19h1M20 20h1M40 20h1M46 20h1M74 20h1M76 20h1M79 20h1M23 21h1M74 21h1M27 22h1M44 22h1M70 22h1M64 23h1"/>
<path stroke="#13d0ff" d="M0 0h1M9 0h1M11 0h1M13 0h2M16 0h1M27 0h1M39 0h5M50 0h2M53 0h1M59 0h1M71 0h1M93 0h1M98 0h1M29 1h2M32 1h1M45 1h2M48 1h1M54 1h4M60 1h1M63 1h1M73 1h1M5 5h1M7 5h1M13 5h1M19 5h1M24 5h1M2 6h1M6 6h1M48 6h1M33 7h1M35 7h1M37 7h1M42 7h2M1 9h1M3 9h1M8 9h1M11 9h2M15 9h1M18 9h1M36 9h2M90 9h1M0 10h1M6 10h1M12 10h1M15 10h1M18 10h2M25 10h1M49 10h1M80 10h1M95 10h1M13 12h1M15 12h1M91 12h1M76 13h1M84 13h2M91 13h1M79 14h1M85 14h1M17 15h1M19 15h1M21 15h1M26 15h1M76 15h2M22 16h1M77 16h1M78 17h1M35 18h1M48 18h1M15 19h2M37 19h1M25 20h1M29 21h1M43 21h1M47 21h1M55 21h1M65 23h1"/>
<path stroke="#2dd5ff" d="M10 0h1M15 0h1M29 0h1M31 0h1M36 0h2M46 0h3M52 0h1M55 0h3M61 0h4M67 0h1M69 0h1M73 0h1M78 0h1M83 0h1M91 0h1M4 1h1M39 1h2M42 1h1M50 1h1M58 1h1M12 5h1M16 5h1M36 7h1M17 9h1M23 9h1M27 9h1M46 9h1M17 10h1M44 10h2M48 10h1M8 12h1M11 12h1M19 12h2M47 12h2M14 13h1M21 13h1M75 13h1M77 13h1M80 13h1M87 13h1M90 13h1M15 14h1M20 14h1M23 14h1M83 14h1M88 14h1M22 15h1M24 15h2M27 15h1M79 15h1M24 16h1M26 16h1M80 16h1M33 17h1M38 19h1M40 19h2M43 19h1M23 20h1M75 20h1M24 21h1M52 21h1M54 21h1M73 21h1M54 22h1M68 22h1"/>
<path stroke="#48dbff" d="M30 0h1M35 0h1M38 0h1M54 0h1M58 0h1M60 0h1M65 0h2M68 0h1M70 0h1M95 0h1M6 5h1M45 7h1M14 9h1M20 9h1M47 9h1M7 10h1M10 10h1M16 10h1M10 12h1M12 12h1M14 12h1M16 12h3M13 13h1M16 13h2M19 14h1M21 14h1M20 15h1M23 15h1M25 16h1M27 16h1M29 16h1M79 16h1M26 17h1M22 20h1M45 21h1M48 21h3M28 22h1M67 22h1M31 23h1M66 23h1"/>
<path stroke="#62e0ff" d="M32 0h2M47 1h1M11 10h1M14 10h1M20 10h2M24 10h1M19 13h1M17 14h2M22 14h1M24 14h1M77 14h1M27 17h1M32 17h1M21 20h1M24 20h1M46 21h1M51 21h1M35 23h1"/>
<path stroke="#7ce5ff" d="M15 13h1M18 13h1M22 13h2M16 14h1M28 16h1M27 21h1M69 22h1M52 23h1"/>
<path stroke="#96eaff" d="M30 17h1M28 18h1M25 21h1M28 21h1M44 21h1M53 21h1M45 22h1"/>
<path stroke="#b1f0ff" d="M20 13h1M28 17h1M32 18h1M34 18h1M29 22h2M46 22h1M32 23h1M47 23h1"/>
<path stroke="#cbf5ff" d="M29 17h1M31 17h1M29 18h1M31 18h1M33 18h1M26 21h1M31 22h1M47 22h1M52 22h1M33 23h1M49 23h1M51 23h1"/>
<path stroke="#e5faff" d="M32 22h1M53 22h1M34 23h1M48 23h1M50 23h1"/>
<path stroke="#ffffff" d="M30 18h1M33 22h1M48 22h4"/>
</g>
<g clip-path="url(#cpd)"><g fill-rule="evenodd"><rect x="547.5" y="40.5" width="137" height="178" fill="#00000c"/>
<path fill="#000014" d="M547.5 40.5l137 0l0 178l-137 0zM589.5 149.5l1 2.2l.6 .8l.4 1.2l.6 .8l.4 1.1l.7 .9l.3 1l4.7 7l1.1 2l.2 2l.7 2l.3 2.6l1 2.7l.5 .7l.5 1.4l2.7 5.6l.3 1.7l.7 1.3l.3 1.3l.7 1.7l.2 1l-.9 .9l0 .7l.7 1.4l.3 2.3l.8 1.7l.2 2.3l.8 1.7l.2 2l.6 1l.4 2.3l.5 .7l.5 1.5l1 1.7l2.2 1.8l2 0l.8-.8l1-.2l1-1.1l.1-.9l.9-1.3l.4-1.7l.6-.9l.2-2.1l.8-1.5l.4-2.5l.6-1.2l.3-2.8l.7-1.2l.5-2.8l-.7-1l.4-2l1.8-4.6l.3-1.4l.7-1.1l.2-.9l.8-1.3l.2-.7l1.8-3.6l1-3.6l.4-2.8l.9-3l2.7-3.9l1.2-2.1l.8-1l4-7.6l.4-1.4l-.4-.5l-1-.1l-2 0l-1 .2l-1 1l-4.2 5.4l-1.8 2l-.3 1l-.7 1.5l-.3 1.5l-.7 1.3l-.4 1.7l-.6 1.1l-.5 1.9l-.5 .9l-.2 1.1l-.8 1.7l-.3 1.3l-.7 1.4l-.5 3.6l-.5 1.8l-.4 6.2l-.6 1l-.3 1l-1.7 1.8l-1.3 .2l-.7 .6l-1 .3l-1 .1l-3-.2l-1-.8l-1-.1l-1-.6l-1.6-2.3l-.3-1l-.1-3.8l-.6-2.2l-.4-3.9l-1-3.3l-.8-1.8l-.2-1l-.6-1l-.4-1.7l-.7-1.3l-.3-1.5l-.7-1.5l-.3-1.4l-.8-1.6l-.2-1.1l-2-2.9l-5-6.2l-1-.3l-2-.1l-1 0z"/>
<path fill="#00001d" d="M547.5 40.5l137 0l0 178l-137 0zM590.5 147.4l-1 .3l-.3 .8l-.1 1l.4 1.3l.5 .7l3.5 7l4.7 7l.9 3l.4 2.6l1 3.8l2.8 5.6l.2 .8l.7 1.2l.3 1.4l1.8 4.6l.2 1.3l.3 .7l-.3 .3l-.2 .7l.2 1.8l.6 1.2l.4 2.5l.6 1.5l.4 2.5l.7 1.5l.3 2.1l.5 .9l.5 2.1l.7 .9l.3 1.2l1 1.4l1.9 1.4l2.8 0l1.5-1l.9-1l.4-1l.5-.7l.4-1.3l.6-.9l.3-2.1l.7-1.4l.5-2.6l.5-.9l.2-2.1l.3-1l.5-.9l.3-2.1l.7-1.7l0-.4l-.8-.9l.3-1l.5-1.1l.5-1.9l.5-.8l.2-1.2l1.1-3l.7-1l.3-1l.7-1.2l.2-.8l.8-1.3l1-2.4l.3-2.3l.7-2.2l.4-2.8l1.1-2l3.5-5.1l2-3.5l3-5.9l.1-.5l-.1-1.3l-1-.8l-1 0l-2 .1l-1 .5l-3.4 4.5l-2.6 3l-2 2.9l-.5 2.1l-.5 .8l-.2 1.2l-.8 1.6l-.3 1.4l-.7 1.4l-.4 1.6l-.6 1.1l-.5 1.9l-.5 .9l-1 3.5l-.4 3.6l-.6 2.5l-.1 3.5l-.2 1l-1.3 2l-1.4 .9l-1 .1l-1 .8l-3 .1l-1-.4l-.6-.5l-1.4-.3l-1.6-1.7l-.7-2l-.7-7.2l-.5-1.8l-.5-3.1l-.5-.9l-.5-1.8l-.7-1.2l-.3-1.5l-.7-1.5l-.3-1.2l-.8-1.8l-.2-1.1l-.5-.9l-.5-2l-.9-2l-1.7-2l-1.4-2l-2.6-3l-1.4-2.1l-1-.8l-1-.2z"/>
<path fill="#000025" d="M547.5 40.5l137 0l0 178l-137 0zM589.5 146.1l-.7 1.4l-.2 2l3.9 7.7l5.4 8.3l.4 1l.2 1.3l.8 2.7l.2 1.9l1 3.1l.6 1l.4 1.1l.6 .9l.4 1.2l1.4 2.8l.6 2.2l.8 1.8l.2 1l.6 1l.4 2l-.4 1l.4 2.4l.7 1.6l.3 2.2l.7 1.8l.3 2.1l.5 .9l.3 1l.2 1.6l.7 1.4l.3 1.4l.4 .6l.6 1.6l1 1.4l1 .3l.8 .7l3.2 0l2-1.7l1-1.5l.2-.8l.8-1.4l.2-1.6l.8-1.8l.4-2.2l.6-1.3l.4-2.7l.6-1.4l.5-2.6l.5-1l.1-1l-.1-.5l-.5-.5l.5-1.1l.4-1.9l.6-1l1.2-4l1.8-3.6l.5-1.4l.5-.7l.4-1.3l.6-.9l1.8-8.1l.4-1l1.8-2.7l4-6.3l.3-1l.7-.9l.4-1.1l1.6-2.9l.3-1.1l-.1-2l-.2-1.1l-1-.5l-2 0l-1 .4l-1 .9l-1 1.4l-.4 .9l-5.6 7l-1 1.5l-.4 1.5l-.6 1l-.5 2l-.5 .9l-.6 2.1l-.4 .7l-.3 1.3l-.7 1.5l-.4 1.5l-.6 1.1l-.5 1.9l-.5 .9l-.3 3.1l-.7 2.9l-.3 5.1l-.9 2l-1.8 1.8l-1.2 .2l-.8 .7l-1 .2l-2-.1l-1.2-.8l-.8-.1l-1-.5l-.5-.4l-1.3-2l-.3-4l-.6-3l-.3-2.7l-1-4.1l-.6-1.2l-.4-1.5l-1.8-4.5l-.2-1l-.5-1l-.5-1.8l-.6-1.2l-.4-1.6l-1-1.8l-4.5-5.6l-2.2-3l-.3-.8l-1-1.1l-1-.6l-1-.1z"/>
<path fill="#00002d" d="M547.5 40.5l137 0l0 178l-137 0zM590.5 144.4l-1 .1l-1 1.2l0 4l2.6 4.8l.4 1.2l.6 .8l.4 1.1l4.6 6.9l1.1 2l1.3 6.7l1 2.7l3.6 7.6l.4 1.8l.6 1.2l1 3l.2 1l-.4 1l.6 2.9l.6 1.1l.4 2.8l.5 1.2l.5 2.5l.7 1.5l.3 2.1l.5 .9l.5 1.7l.8 1.3l.2 .9l.9 1.1l1.1 .4l.6 .6l3.5 0l1.9-1.5l1-1.4l.3-1.1l.7-1l.4-2l.6-1.4l.5-2.6l.5-.9l.3-2.1l.2-1l.5-.9l.3-2.1l.7-1.6l.2-1.4l-.4-1l.5-2l1.7-4.4l.4-1.6l.6-1l.3-1l2.7-5.5l1-3.6l.5-2.9l.9-3l1.6-2.3l4-6.4l3-5.8l.6-1.5l-.1-3l-.5-1.8l-1-.3l-2 .2l-1 .7l-1 1.3l-.4 .9l-1.9 3l-5.7 7l-1 2.6l-.3 1.4l-.7 1.4l-.4 1.6l-.6 1.2l-.5 1.8l-.5 .9l-1.3 4.1l-.7 1.4l-.5 3.6l-.5 1.8l-.5 6.2l-.8 2l-1.7 1.7l-1.3 .3l-.7 .6l-1 .3l-2-.2l-1-.7l-1-.2l-1-.6l-1.6-2.2l-.3-1l-.1-3.7l-.6-2.3l-.4-3.8l-1-3.4l-.4-.8l-.6-2l-.6-1l-.4-1.7l-.7-1.3l-.3-1.5l-.7-1.5l-1.3-4.1l-2-2.9l-4.8-6l-1.2-2.3l-.7-.7l-.3-.7l-1-1l-1-.3z"/>
<path fill="#000036" d="M547.5 40.5l137 0l0 178l-137 0zM589.5 143l-1 .6l-.1 .9l-.1 4l.2 1.6l4 7.7l5.6 8.7l1.4 7.3l2 4.6l.7 1.1l.3 1l.6 1l1.4 4.2l.4 .8l1.1 3l.2 1l-.5 1l.4 1l.4 2.2l.7 1.8l.3 2.2l.7 1.8l.3 1.9l.6 1.1l.4 2.3l1 2.7l.7 1l.3 1l.9 1l1.1 .5l.5 .5l3.7 0l1.8-1.4l1-1.4l.4-1.2l.6-.9l.5-2.1l.5-1l.3-2l.7-1.6l.4-2.4l.6-1.6l.4-2.4l.6-1.2l.3-1.8l-.3-1l.4-2l1.6-3.9l.5-2.1l3.5-7.1l1-3.3l.4-2.6l1.1-4l3.3-5l2.2-3.4l3-5.8l.8-1.8l.1-1l.1-3l-.2-1l-.8-1.4l-2-.1l-1 .5l-1 1.1l-3.5 5.9l-5.6 7l-.9 2.2l-.5 1.8l-.5 1l-.2 1l-1.8 4.6l-.4 1.4l-.6 1.3l-.5 1.7l-.5 1l-1 5l-.6 7l-.8 2l-1.6 1.6l-1.5 .4l-.5 .4l-1 .4l-2-.1l-.9-.7l-1.1-.2l-1-.8l-.9-1l-.5-1l-.4-1l-.2-4.6l-.6-2.4l-.4-3.6l-1-3l-.7-1.4l-.3-1.3l-.8-1.7l-.2-1.1l-.5-.9l-.5-1.9l-.6-1.1l-.4-1.7l-.6-1.3l-.4-1.3l-1-1.6l-5.7-7.1l-1.3-2.7l-2-2.9l-1-.8z"/>
<path fill="#00003e" d="M547.5 40.5l137 0l0 178l-137 0zM589.5 141.5l-1 .3l-.4 1.7l0 5l.4 1.9l4 7.6l5.4 8.5l1.6 7.7l3.5 7.3l3.1 9l-.5 1l.4 1l.5 2.5l.6 1.5l.4 2.5l.6 1.5l.4 2.1l.5 .9l.5 2.6l2 4.5l.8 .9l1.6 1l1.6 .1l2.3-.1l1.7-1.2l1-1.5l.4-1.3l.6-.8l.6-2.2l.4-.8l.4-2.2l.6-1.3l1.5-6.7l.5-.9l.4-2.1l-.3-1l.4-2l1.5-3.6l.7-2.4l3.3-7l1-2.9l1.2-6.1l4.3-7l1.5-2.1l4-7.9l0-7.1l-1-.9l-1 0l-1 .2l-1 .9l-2 3.2l-1.3 2.7l-1.3 2l-5.4 6.8l-1 2.1l-2.4 7.1l-.6 1.3l-.5 1.7l-.5 1l-.6 2l-.4 .7l-1 4.6l-.8 7.7l-.8 2l-1.4 1.5l-1.6 .5l-1.4 .8l-1 0l-1-.2l-.8-.6l-1.2-.3l-.9-.7l-.9-1l-.9-2l-.3-5.3l-.6-2.7l-.4-3.1l-.4-.9l-.6-2l-.6-1l-.4-1.6l-.7-1.4l-.3-1.4l-.7-1.6l-.3-1.2l-.4-.8l-.6-2l-.5-1l-.5-1.6l-1-1.4l-5.5-7l-1.5-3l-2-3.3l-1-1.2l-1-.5z"/>
<path fill="#000047" d="M547.5 40.5l137 0l0 178l-137 0zM588.5 140.3l-.6 1.2l-.2 2l.4 6l.4 1l4 7.6l3.5 5.4l1.8 3l1.7 8l3.8 8l2.7 8l-.5 1.1l.4 .9l.6 2.8l.5 1.2l.5 2.8l.5 1.2l.5 2.3l.7 1.7l.3 1.9l2 4.3l.8 .8l1.4 1l1.8 .2l2.3-.2l.7-.6l1-.5l1-1.4l.5-1.5l.5-.6l1-3l.5-2.4l.5-1l1.3-6l.7-1.7l.4-2.3l-.2-1l.2-1l1.6-4.3l.4-1.7l3.6-7.7l1-2.7l1.3-6.6l1.1-2l3.6-5.4l1-1.6l4.1-8l.2-6l-.3-2.9l-1-.5l-1-.1l-1 .4l-.5 1.1l-.5 .5l-1 1.6l-.3 .9l-.7 .9l-.4 1.1l-1.7 3l-5.9 7.7l-1 1.9l-2.5 7.4l-.5 1l-1.3 4l-.7 1.5l-1 4.2l-1 8.3l-.2 1l-.5 1l-1.3 1.4l-1.8 .6l-1.2 .7l-1 .1l-1-.3l-.7-.5l-1.3-.3l-.9-.7l-.8-1l-.9-2l-.4-5.8l-.5-2.2l-.5-3.4l-1.4-3.6l-.6-1.9l-.6-1.1l-.4-1.6l-.6-1.4l-.4-1.4l-2-5.4l-6.4-8.2l-2.6-5.1l-1.8-2.9l-.2-.6l-1-.8l-1-.1z"/>
<path fill="#00004f" d="M547.5 40.5l137 0l0 178l-137 0zM588.5 138.8l-1 1.9l-.1 .8l.1 3.1l.5 4.9l.5 1.3l3 5.8l5.7 8.9l.4 1l1.8 8l3.8 8l2.7 8l-.4 .7l0 .6l.6 1.7l.4 2l.4 1l.6 3.1l.4 .9l.6 2.5l.6 1.5l.4 2.1l2 4.1l.7 .8l1.4 1l1.9 .2l2.4-.2l.6-.5l1-.5l1-1.4l1-2.1l1-2.8l.6-2.7l.4-.8l1.4-6.2l.6-1.5l.5-2.5l-.3-1l.3-1l2.8-8l2.7-5.5l1-2.5l1.4-7l1.1-2l3.5-5.2l1.1-1.8l4-8l.4-8l-.5-2.4l-1-.5l-1 0l-1 .5l-1.4 3.4l-.6 .8l-3.1 6.2l-5.9 7.6l-1 1.8l-2.6 7.6l-2.4 6.2l-1 4l-.9 5.8l-.2 3l-.2 1l-1.3 2l-.4 .3l-1.9 .7l-1.1 .7l-1 0l-1-.2l-.6-.5l-1.4-.4l-.8-.6l-.8-1l-.9-2l-.5-6.3l-1-5.4l-.6-1.3l-.4-1.4l-1.5-3.6l-.5-1.9l-.6-1.1l-.4-1.7l-2-5.3l-6.3-8l-3.7-7.3l-.5-.7l-.5-1.8l-1-1l-1-.1z"/>
<path fill="#000057" d="M547.5 40.5l137 0l0 178l-137 0zM588.5 137.3l-1 1.8l-.2 2.4l.2 4.7l.4 3.3l.6 1.4l4 7.6l4.6 7l.7 2l1.5 7l3.8 8l1.4 4.3l.7 1.7l.6 2l-.4 1l.1 .5l.6 1.5l.4 2.2l.6 1.8l.4 2.3l.7 1.7l.3 1.8l.5 1.2l.5 2.2l2 4.1l2 1.7l1 .2l3 0l2.1-1.2l.9-1.3l2-4.8l.4-1.9l.6-1.7l2.6-10.3l-.3-1l.2-1l2.9-8l3.6-7.7l1.5-7.3l5.5-8.7l4.2-8.3l.7-8l-.9-3.9l-1-.4l-1 0l-1 .6l-1 2.6l-.2 1.1l-4 8l-4.8 6.2l-2 3l-3.4 9.8l-1.6 4l-.6 2l-.4 1.8l-.4 3.2l-.6 2.9l-.1 3.1l-.3 1l-1.6 2.2l-1 .6l-1 .2l-1 .6l-1 .1l-1-.3l-.5-.4l-1.5-.5l-.7-.5l-.9-1l-.8-2l-.6-6.8l-1-5.1l-.5-1.1l-.5-1.6l-.6-1.4l-2.4-6.9l-2-5.1l-6.2-8l-4-8l-.8-3l-1-1.2l-1-.2z"/>
<path fill="#000060" d="M547.5 40.5l137 0l0 178l-137 0zM588.5 135.8l-1 1.6l-.3 4.1l.3 5.9l.3 2.1l4.6 9l4.6 7l.9 3l1.4 6l3.8 8l.4 1.6l1.7 4.4l.5 2l-.4 1l.2 .8l.5 1.2l.5 2.4l.6 1.6l.4 2.4l.6 1.6l.4 2l.5 1l.5 2.3l2 4.1l2 1.6l1 .2l3 0l2.1-1.2l.9-1.1l2-4.8l.4-2.1l.6-1.5l2.7-10.5l-.3-1l.2-1l2.9-8l3.5-7.4l1.6-7.6l4.4-7l1.7-3l3.6-7l.8-8l-.1-1.4l-1-4l-1-.4l-1 .1l-1 .7l-1 3l-.3 2l-4 8l-4.7 6l-2 3l-5.6 16l-1.4 7.5l-.2 3.5l-.2 1l-1.4 2l-1.2 .7l-1.1 .3l-.9 .6l-1 .1l-1-.4l-.4-.3l-1.6-.5l-.6-.5l-.9-1l-.8-2l-.7-7.2l-1-4.8l-2.7-7l-2.3-6.9l-.9-2.1l-5.5-7l-1.2-2l-2.4-5l-.6-1l-.7-2l-.7-3.2l-1-1.4l-1-.2z"/>
<path fill="#000068" d="M547.5 40.5l137 0l0 178l-137 0zM588.5 134.3l-1 1.3l-.4 4.9l.3 7l.3 2l3.8 7.5l5.4 8.5l.5 1l1.8 8l3.8 8l.5 1.9l1.6 4.1l.5 2l-.3 1l.2 1l.4 1l.6 2.6l.5 1.4l.5 2.6l.5 1.4l1.5 5.5l2 3.9l2 1.7l1 .2l3-.1l2.2-1.2l.8-1l2-4.8l.5-2.2l.5-1.3l1-3.7l.4-2l1.4-5l-.4-1l.3-1l2.9-8l3.4-7.1l1.7-7.9l5.3-8.4l1.3-2.6l3.1-6l.8-8l-.2-3.4l-1-3.6l-1-.2l-1 0l-1 .8l-1 3.5l-.4 2.9l-3.9 8l-4.7 5.9l-2.1 3.1l-2.3 7l-2.6 6.7l-1 3.3l-.5 4l-.5 2l-.2 4l-.3 1l-1.5 2.1l-1 .6l-1.2 .3l-.8 .6l-1 0l-3-1.2l-1.4-1.4l-.8-2l-.2-3l-.6-4.6l-.9-4.4l-2.7-7l-2.4-7.1l-.9-1.9l-5.4-7l-1.3-2l-3.3-7l-1.1-5.4l-1-1.6l-1-.2z"/>
<path fill="#00006e" d="M547.5 40.5l137 0l0 178l-137 0zM588.5 133.1l-1 .8l-.6 6.6l.7 9l3.9 7.7l5.4 8.3l.4 1l1.8 8l3.8 8l.6 2.1l1.5 3.9l.5 2l-.2 1l.2 1l1.5 5l.5 2.8l.5 1.2l1.5 5.6l2 3.9l2 1.6l1 .2l3-.1l.7-.2l1.5-1l.8-1l2-4.7l.5-2.3l.5-1.1l1-3.7l.4-2.2l1.4-5l-.3-1l.9-3l2.3-6l3.3-7l1.8-8l5.2-8.3l2-3.7l2.4-5l.8-7l0-3l-.2-3.5l-.4-1.5l-.6-1.3l-1-.3l-1 .2l-1 .7l-1 3.9l-.6 3.8l-2.8 6l-1 2l-5.6 7.2l-1.1 1.8l-5.9 16.6l-.4 3.4l-.6 3l-.3 4l-.3 1l-.5 1l-.9 1l-1 .6l-1.2 .4l-.8 .5l-1 .1l-3-1.2l-1.3-1.4l-.8-2l-.2-3l-.7-5l-.9-4l-2.6-7l-2.5-7.2l-.8-1.8l-5.5-7l-1.2-2l-3.3-7l-1.2-6.6l-.8-1.4l-.2-.3l-1-.3z"/>
<path fill="#000075" d="M547.5 40.5l137 0l0 178l-137 0zM588.5 131.9l-1 .9l-.2 .7l-.5 7l.7 9l4 7.8l5.3 8.2l.4 1l1.9 8l3.7 8l.7 2.3l1.5 3.7l.4 2l-.2 1l.2 1l1.5 5l.6 2.9l.4 1.1l1.6 5.7l1 2.2l1 1.7l2 1.5l1 .2l3 0l.8-.3l1.4-1l.9-1l1.9-4.5l.6-2.5l.4-1l1-3.6l.5-2.4l1.4-5l-.3-1l.9-3l.5-1l1.3-4l3.8-8l1.8-8l.5-1l4.6-7.2l2.5-4.8l2-4l.9-8l-.3-7l-.2-1l-.9-1.3l-1-.6l-1 .4l-1 .9l-1 3.9l-.7 4.7l-.9 2l-2.9 6l-6.1 8l-1.4 3.3l-5 14l-1.1 6.7l-.2 4l-.3 1l-.6 1l-.9 1l-.9 .6l-1.3 .4l-.7 .5l-1 .1l-3-1.3l-1.2-1.3l-.5-1l-.3-1l-.2-3l-.8-5.3l-.8-3.7l-5.2-14.4l-.8-1.6l-6.1-8l-2.4-5l-1.4-3l-1.3-7.7l-1-1.5l-1-.7z"/>
<path fill="#00007b" d="M547.5 40.5l137 0l0 178l-137 0zM589.5 130.3l-1 .5l-1 1.2l-.4 1.5l-.5 8l.9 8l4 8l5.2 8l.5 1l1.8 8l3.7 8l2.2 6l.5 2l-.2 1l.2 1l1.5 5l.6 3l2 6.8l1 2.2l1 1.6l2 1.5l1 .2l3 0l.8-.3l1.5-1l.8-1l1.9-4.4l2-7l.5-2.6l1.5-5l-.4-1l.6-2l2.2-6l3.8-8l1.8-8l.4-1l4.6-7.1l2.6-4.9l2-4l.7-6l.1-3l-.4-7.7l-1-1.6l-1-.9l-1 .6l-1 1.2l-1 3.8l-.8 5.6l-1.8 4l-1.9 4l-5.5 7l-1 1.5l-1 2.6l-5 13.9l-1.1 7l-.3 4l-.3 1l-.5 1l-.9 1l-.9 .6l-1.4 .4l-.6 .4l-1 .1l-3-1.2l-1.2-1.3l-.5-1l-.3-1l-.1-3l-.9-5.6l-.5-2.4l-5.5-15.5l-.7-1.5l-4.7-6l-2-3l-3.2-7l-1.4-8.5l-1-1.7z"/>
<path fill="#000081" d="M547.5 40.5l53.1 0l-.3 4l.2 3.4l1-.6l1-2.2l.5-4.6l25.6 0l.4 4l.5 1.6l1 1.9l.4-.5l.5-2l-.4-5l53.5 0l0 161l0 17l-137 0zM589.5 128.8l-1 .7l-1 1.6l-.7 2.4l-.3 8l.9 8l4 8l5.7 9l1.8 8l3.8 8l2.1 6l.5 2l-.2 1l.2 1l1.5 5l.6 3l2.1 7l1 2.1l1 1.6l2 1.5l1 .2l3-.1l.9-.3l1.4-1l.8-1l1.9-4.2l2-7l.6-2.8l1.4-5l-.3-1l.6-2l2.1-6l3.8-8l1.8-8l.5-1l4.5-7l2.7-5l2-4l.8-9l-.2-7l-.3-1.6l-1-1.8l-1-1.3l-1 .9l-1 1.6l-.7 2.2l-.3 1.4l-.7 5.6l-1.1 3l-2.8 6l-6.1 8l-1.3 3l-5 14l-1.2 7l-.2 4l-.4 1l-.5 1l-.9 1l-.8 .5l-1.4 .5l-.6 .4l-1 .1l-3-1.3l-1.1-1.2l-.5-1l-.3-1l-.2-3l-1.4-8l-5.5-15.7l-.7-1.3l-6-8l-2.9-6l-.9-2l-1.5-9.2z"/>
<path fill="#000088" d="M547.5 40.5l51.9 0l-.7 12l.3 3l.5 1l2-4.6l2-6.1l.6-5.3l23.3 0l.5 4l.6 2.6l2 5.9l1 2.3l1 1.3l.3-2.1l.1-4l-.4-6.8l-.4-3.2l52.4 0l0 144l0 34l-137 0zM589.5 127.2l-1 .9l-1 2l-1 3.4l-.1 8l.9 8l4.1 8l5.6 9l1.9 8l3.7 8l2.2 6l.5 2l-.2 1l.2 1l4.2 15l1 2.2l1 1.6l2 1.4l1 .2l3-.1l1-.3l1.4-1l.8-1l1.8-4.1l2-6.9l.6-3l1.5-5l-.3-1l.6-2l2.1-6l3.8-8l1.8-8l.5-1l4.5-7l3.2-6l1.4-3l1-9l-.2-7l-.2-1l-.3-1.4l-2-4l-1 1.3l-1 2.1l-.9 3l-.9 7l-.6 2l-3.3 7l-6.1 8l-1.2 2.8l-5.1 14.2l-1.1 7l-.3 4l-.3 1l-.5 1l-.9 1l-.8 .5l-2 .8l-1 .1l-2-.8l-1.2-.6l-1.4-2l-.3-1l-.1-3l-1.4-8l-5.6-15.8l-.6-1.2l-6.1-8l-3.7-8l-.6-4.6l-1-5.3z"/>
<path fill="#00008e" d="M547.5 40.5l51.3 0l-1.4 15l-.2 4l.3 4l1-.5l1-2l1-2.4l1-3.2l2.9-10.9l.3-4l22.2 0l.6 5.5l2 7.4l2 6.2l2 4l.6-1.1l.2-1l.1-3l-1.6-18l51.7 0l0 127l0 51l-137 0zM589.5 124.1l-2 5l-1.1 4.4l-.1 8l1 8l4 8l5.7 9l1.8 8l3.7 8l2.2 6l.5 2l-.2 1l.3 1l4.1 15l1.1 2.2l1 1.6l2 1.4l1 .2l3 0l1-.4l1.4-1l.8-1l1.8-4l2-7l.7-3l1.4-5l-.2-1l.5-2l2.2-6l3.7-8l1.9-8l.4-1l4.6-7l4.2-8l.6-2l.8-7l-.2-8l-.6-3.4l-1.5-3.6l-.5-2.9l-.7 2.9l-1.3 3.1l-1 3.5l-.8 6.4l-.7 3l-3.2 7l-6.3 8.2l-6 16.4l-1.3 7.4l-.2 4l-.4 1l-.5 1l-.9 1l-2.7 1.3l-1 .1l-2-.8l-1.1-.6l-1.4-2l-.3-1l-.2-3.3l-1.3-7.7l-5.7-16l-.6-1l-6-8l-3.7-8l-1.1-8l-.6-2.7l-1.7-4.3z"/>
<path fill="#000095" d="M547.5 40.5l50.8 0l-2 19l-.2 7l0 2l.4 1.9l.4-.9l.6-.7l1-2.2l3-8.5l3-11.8l.7-5.8l21.2 0l.4 4l.7 3.4l3 11.5l2 5.7l2 4.5l.7-.1l.3-.3l0-7.7l-2.2-21l51.2 0l0 113l0 65l-137 0zM642.5 118.5l-1 5.5l-.2 2.5l-1.8 5.9l-1.2 9.1l-3.6 8l-6.2 8.1l-6.2 16.9l-1.1 7l-.3 4l-.8 2l-.9 1l-.7 .4l-2 .9l-1 .1l-3-1.4l-.9-1l-.6-1l-.3-1l-.2-3.6l-1.3-7.4l-5.7-16l-2-3l-4.6-6l-3.6-8l-1.1-8l-.7-3.5l-1.1-3.5l-.9-6.8l-1 1.9l-.4 4.9l-1.6 5.1l-.2 1.9l-.1 8l.6 4l.4 4l.9 2l3.1 6l5.7 9l1.8 8l3.7 8l2.5 7l.3 1l-.2 1l.2 1l4.2 15l1.1 2.3l1 1.6l2 1.4l3 .2l1-.1l1-.3l1.5-1.1l.8-1l1.8-4l4.1-15l-.3-1l.6-2l2.1-6l3.8-8l1.8-8l.5-1l5.3-8.3l3.9-7.7l1-8l-.1-8l-.8-4.3l-.9-2.7z"/>
<path fill="#00009b" d="M547.5 40.5l50.4 0l-2.4 20.3l-1.3 18.7l0 2l.3 1l.4-2l.6-1.3l2.5-8.7l3.5-10.5l3-12.1l.7-3.4l.4-4l20.4 0l.5 4.8l3 12.5l2 6.7l2.5 7l2.5 9.1l.7 .9l.3 1.5l0-3.6l-.8-7.9l-.2-6l-1-10.1l-1.5-10.9l-.3-4l50.8 0l0 85l0 93l-137 0zM591.5 100.6l-.1 .9l0 1l.1 .8l0-.8l0-1zM640.5 101.3l-.1 5.2l1.1 13l-.6 7l-1.4 5.2l-1.3 9.8l-3.6 8l-6.1 8l-6.2 17l-1.1 7l-.3 4l-.9 2l-1.5 1.4l-2 .8l-1 .1l-3-1.3l-.9-1l-.5-1l-.3-1l-.3-3.9l-1.2-7.1l-5.7-16l-.6-1l-6-8l-3.6-8l-1-8l-.9-4.4l-.8-2.6l-.6-7l.8-9l.2-4l-.1-1l-.5-.9l-2 11.7l-.9 10.2l-1.2 5l-.3 2l0 8l1 8l4.1 8l5.6 9l1.9 8l3.7 8l2.5 7l.2 1l-.2 1l.3 1l4.2 15l1.1 2.4l1 1.5l2 1.4l3 .2l1-.1l1-.3l1.5-1.1l.8-1l1.8-4l4.1-15l-.2-1l.5-2l2.2-6l3.8-8l1.8-8l.5-1l5.2-8.2l3.9-7.8l1.1-8l0-8l-.7-4l-.8-3l-.5-7.1l-2-12.7l-.5-1.2l-.2-1z"/>
<path fill="#0002a1" d="M547.5 40.5l50 0l-.4 5l-1.8 13l-3.3 32l-3.5 21.6l-.8 6.4l-.5 8l-.7 3l-.5 4l0 8l1.1 8l4 8l5.7 9l1.8 8l3.7 8l2.5 7l.3 1l-.2 1l.2 1l4.2 15l1.2 2.4l1 1.6l2 1.3l2 .2l2-.1l1-.3l1.5-1.1l.8-1l1.7-3.7l4.3-15.3l-.3-1l.6-2l2.1-6l3.8-8l1.9-8l.4-1l4.6-7l4.6-9l1.1-8l0-8l-.4-3l-.8-4l-.4-7l-.5-4.8l-3.9-24.2l-3.1-30.4l-2.1-15.6l-.4-4l31.5 0l19 0l0 178l-137 0zM605.9 40.5l19.8 0l.4 4l.4 2.2l3 12.8l3.7 12l5 19l1.3 14.7l1.6 14.3l-.6 7l-1.3 6l-1.1 9l-3.5 8l-6.1 8l-.5 1l-5.7 16l-1.2 7l-.2 3l-.1 1l-.8 2l-1.5 1.4l-2 .8l-1 .1l-2.9-1.3l-.9-1l-.6-1l-.3-1l-.3-4l-1.2-7l-5.7-16l-.5-1l-6.1-8l-3.5-8l-1-8.2l-1.5-6.8l-.4-8l.9-7.2l2-20.8l4.7-18l4.3-14.6l3-13.1z"/>
<path fill="#000fa7" d="M547.5 40.5l49.8 0l-.4 4l-2.4 17.5l-3.3 28.5l-3.7 25.2l-.4 3.8l-.2 7l-.6 3l-.4 4l.1 8l1 8l4 8l5.7 9l1.8 8l3.7 8l2.6 7l.2 1l-.1 1l.2 1l4.2 15l1.2 2.5l1 1.5l2 1.3l2 .2l2 0l1-.3l1.6-1.2l.8-1l1.6-3.6l4.3-15.4l-.2-1l.5-2l2.2-6l3.8-8l1.8-8l.5-1l4.6-7l4.6-9l1.1-8l.1-8l-.3-2.5l-.8-4.5l-.3-8l-4.2-30l-3.5-30l-1.9-13l-.5-5l32.2 0l18 0l0 178l-137 0zM606.1 40.5l19.3 0l.4 4l2.7 12.3l4.4 15.7l4.3 17l3.4 29l-.3 8l-1.2 6l-1.1 9l-3.5 8l-6.1 8l-.4 1l-5.8 16l-1.1 7l-.3 3l0 1l-.9 2l-1.4 1.3l-2 .8l-1 .2l-2.9-1.3l-.9-1l-.5-1l-.4-1l-.1-3l-1.3-8l-5.7-16l-.6-1l-6-8l-3.6-8l-.9-8l-1.3-7l-.3-8l3.2-28l4.7-19l3.6-12.1l3.1-13.9z"/>
<path fill="#001bae" d="M547.5 40.5l49.5 0l-.4 4l-2.1 14.6l-1.4 12.4l-4.1 32l-1.8 11l-.5 5l-.1 7l-.5 3l-.4 4l.2 8l1 8l4.1 8l5.6 9l1.8 8l3.8 8l2.5 7l.3 1l-.2 1l.3 1l4.2 15l1.2 2.6l.9 1.4l2.1 1.4l2 .2l2-.1l1-.3l1.6-1.2l.8-1l1.6-3.5l4.3-15.5l-.2-1l.6-2l2.2-6l3.8-8l1.8-8l.5-1l5.1-8l4.1-8l1.1-8l.1-8l-.4-4l-.5-3l-.1-7l-.4-4l-1.7-11l-5.3-42.1l-2.5-17.9l-.4-4l32.9 0l17 0l0 178l-137 0zM606.4 40.5l18.8 0l.3 4l3 13.7l3.7 13.3l4.6 19l3.4 28l-.2 8l-1 6l-1 9l-3.6 8l-6 8l-.9 2.1l-5.3 14.9l-1.3 8l-.2 3l-.8 2l-.9 1l-2.5 1.1l-1 .1l-2.8-1.2l-1-1l-.5-1l-.3-1l-.1-3l-1.4-8l-5.7-16l-.5-1l-6.1-8l-3.5-8l-.8-8l-1.2-7l-.2-8l3.4-28l4.3-18l4.4-16.1l2.4-10.9z"/>
<path fill="#0028b4" d="M547.5 40.5l49.2 0l-.4 4l-2 14l-5.9 46l-1.9 13l-.2 9l-.7 7l.2 8l1.1 8l4 8l5.7 9l1.8 8l3.3 7l3 8l.2 1l-.1 1l4.4 16l1.3 2.7l.9 1.3l2.1 1.4l2 .2l2-.1l1-.3l1.7-1.2l.7-1l1.6-3.4l4.4-15.6l-.2-1l.5-2l2.2-6l3.8-8l1.9-8l.4-.9l5.2-8.1l4.1-8l1.1-8l.1-8l-.7-7l0-7l-.5-5l-1.6-10l-5.7-44.7l-2.2-15.3l-.4-4l32.6 0l17 0l0 178l-137 0zM606.7 40.5l18.3 0l.5 5l3 13.8l3.4 12.2l4.3 18l3.8 29l-.2 8l-.9 6l-1 9l-3.5 8l-6.1 8l-.8 2l-5.4 15l-1.2 8l-.2 3l-.8 2l-1 1l-2.4 1l-1 .2l-2.8-1.2l-.9-1l-.5-1l-.4-1l-.1-3l-1.3-8l-5.8-16l-.5-1l-6-8l-3.5-8l-.8-8l-1.1-7l-.1-8l3.5-28l4.8-20l3.5-12.9l2.8-13.1z"/>
<path fill="#0034ba" d="M547.5 40.5l48.9 0l-.3 4l-2.2 15l-5.8 45l-1.9 12l-.2 3l0 7l-.5 7l.2 8l1.1 8l.4 1l3.6 7l5.7 9l1.8 8l3.3 7l3 8l.3 1l-.2 1l4.5 16l1.3 2.7l.8 1.3l2.2 1.4l2 .2l2-.1l1-.2l1.7-1.3l.8-1l1.5-3.3l4.4-15.7l-.1-1l.5-2l2.2-6l3.8-8l1.9-8l.3-.8l5.3-8.2l4-8l1.2-8l.2-8l-.6-7l0-7l-.3-4l-1.8-11l-5.7-45l-2.3-15l-.3-4l32.3 0l17 0l0 178l-137 0zM606.9 40.5l17.8 0l.6 5l2.8 13l3.7 14l4.2 18l3.7 28l-.2 8l-1.7 15l-3.5 8l-6 8l-.8 2l-5.4 15l-1.3 8l-.2 3l-.8 2l-1 1l-2.3 1l-1 .2l-2.7-1.2l-1-1l-.5-1l-.3-1l-.2-3l-1.3-8l-5.7-16l-.5-1l-6-8l-3.5-8l-.8-8l-1-7l-.1-8l3.7-28l4.4-19l3.6-13l2.9-14z"/>
<path fill="#0041c0" d="M547.5 40.5l48.7 0l-.4 4l-2.2 15l-4.1 30.3l-1.7 14.7l-2 12l-.2 3l.1 7l-.4 7l.4 9l1 7l.4 1l3.7 7l5.6 9l1.8 8l3.4 7l3 8l.2 1l-.1 1l4.4 16l1.4 2.8l.8 1.2l2.2 1.5l2 .1l2 0l1-.3l1.8-1.3l.7-1l1.5-3.2l4.5-15.8l-.2-1l.5-2l2.2-5.9l3.8-8.1l2.2-8.6l5.4-8.4l4-8l1.2-8l.2-8l-.4-7l.1-7l-.2-3l-2-12l-1.6-14l-4.3-32l-2.1-14l-.4-4l32.1 0l17 0l0 178l-137 0zM607.1 40.5l17.4 0l.5 5l2.5 11.6l3.7 14.4l4.5 19l3.7 28l-.1 8l-1.6 15l-3.5 8l-6 8l-.8 2l-5.4 15l-1.2 8l-.3 3.2l-.7 1.8l-1 1l-2.3 1l-1 .1l-2.7-1.1l-.9-1l-.6-1l-.3-1l-.1-3l-1.3-8l-5.8-16l-.5-1l-6-8l-3.4-8l-1.7-15l0-8l3.7-28l4.2-18l3.7-14l2.9-14z"/>
<path fill="#004dc7" d="M547.5 40.5l48.4 0l-.4 4.3l-2.2 14.7l-4.1 30l-1.8 15l-1.7 10l-.5 4l.2 8l-.3 7l.5 9l1.1 7l.3 1l3.7 7l5.6 9l1.8 8l3.4 7l3 8l.3 1l-.2 1l4.5 16l1.4 2.9l.7 1.1l2.3 1.5l2 .2l2-.1l1-.3l1.8-1.3l.7-1l1.5-3.1l2.4-7.9l.4-2l1.7-6l-.1-1l.5-2l2.1-5.7l3.9-8.3l2.1-8.5l5.5-8.5l4-8l.5-4.4l.7-3.6l.3-8l-.3-7l.2-7l-.2-3l-2-12l-1.7-14l-4.3-32l-2-13l-.5-5l32.8 0l16 0l0 178l-137 0zM607.3 40.5l17 0l.5 5l2.7 12.7l3.5 13.3l4.4 19l3.8 28l-.1 8l-1.4 15l-3.5 8l-6 8l-.8 2l-5.4 15l-1.3 8l-.2 3.1l-.8 1.9l-1 1l-2.2 .9l-1 .2l-2.6-1.1l-1-1l-.5-1l-.4-1l-.1-3l-1.3-8l-5.7-16l-.5-1l-6-8l-3.4-8l-1.5-15l-.1-8l3.8-28l4.7-20l3.1-12l2.8-13z"/>
<path fill="#005acd" d="M547.5 40.5l48.1 0l-.4 4l-2.3 15l-4 30l-1.8 15l-1.9 10l-.3 3l-.2 2l.3 7l-.1 7l.5 8l1.2 8l.4 1l4.2 8l3.3 5l1.7 3l1.8 8l3.5 7.1l2.3 5.9l.9 3l-.1 1l.5 2l4 14l1.4 3l.7 1l2.3 1.5l2 .2l2-.1l1-.2l1.8-1.4l.8-1l1.4-3l2.4-8l.4-2l1.8-6l-.2-1l.5-2l2.1-5.5l3.6-7.5l.7-2l1.6-7l1.1-2l4.5-7l4.1-8l.4-3.8l.6-3.2l.6-9l-.2-7l.3-8l-.5-4l-1.8-10l-1.6-14l-4.3-31l-2.1-14l-.5-5l31.5 0l17 0l0 178l-137 0zM607.4 41.5l.1-1l16.6 0l.3 4l2.9 14l3.4 13l4.4 19l3.8 28l.1 8l-1.4 15l-3.5 8l-5.9 8l-.9 2l-5.3 15l-1.3 8l-.1 2l-.1 1l-.8 2l-1.2 1.1l-2 .8l-1 .2l-2-.8l-.6-.3l-.9-1l-.9-2l-.1-3l-1.3-8l-1.1-3l-5.1-13.9l-6.1-8.1l-1.9-4.4l-1.4-3.6l-.6-5.5l-.8-9.5l-.1-7l1.6-13l2-14l.7-4l4-17l3.4-13l2.7-13z"/>
<path fill="#0067d3" d="M547.5 40.5l47.8 0l-.5 5l-2 13l-4.4 32l-1.6 14l-2 10l-.5 4l-.1 2l.4 6l.1 7l.5 8l1.1 7l.6 2l4.2 8l4.5 7l.9 2.4l1.5 6.6l3.5 7.2l2.2 5.8l1 3l-.2 1l.6 2l3.9 14l1.5 3l.7 1l2.3 1.5l2 .2l2 0l1-.3l1.9-1.4l.7-1l1.5-3l4.5-16l-.1-1l.5-2l2-5.3l3.7-7.7l.7-2l1.5-7l5.7-9l4.1-8l.3-3.1l.7-3.9l.3-5l.5-4l.3-15l-.5-4l-2-10l-1.7-15l-4.1-30l-2.3-15l-.4-4l31.2 0l17 0l0 178l-137 0zM607.8 40.5l16 0l.4 4l2.9 14l3.6 14l4.2 18l3.8 28l.1 8l-1.3 15l-3.4 8l-6 8l-.8 2l-5.4 15l-1.3 8l-.2 3l-.8 2l-1 1l-2.1 .9l-1 .1l-2-.7l-1.5-1.3l-.9-2l-.1-3l-1.3-8l-1-3l-5.2-13.9l-6-8.1l-3-6.9l-.3-1.1l-.6-6l-.8-9l0-7l1.5-12l2.5-17l4.3-19l3.4-13l2.7-13z"/>
<path fill="#0075d9" d="M547.5 40.5l47.4 0l-.4 4.9l-2.4 15.1l-4.1 30l-1.6 14l-.9 4.9l-1.3 5.1l-.6 4l0 4l1.4 19l.5 1.9l.7 5.1l.6 2l4.2 8l4.6 7l.9 2.8l.4 2.2l1 4l3.6 7.4l2.2 5.6l.9 3l-.1 1l.5 2l4 14l1.4 3l.7 1l2.4 1.6l2 .2l2-.1l1-.3l1.9-1.4l.7-1l1.5-3l4.5-16l-.1-1l.5-1.8l2-5.4l4.2-8.8l1.3-5l.5-3l5.7-9l3.6-7l.4-1l1.1-7l.9-9l.3-7l.5-4l0-4l-.7-4l-.8-3.3l-1.3-6.7l-1.6-14l-4.4-32l-1.7-10.5l-.9-7.5l29.9 0l18 0l0 178l-137 0zM608 40.5l15.6 0l.3 4l2.9 14l3.7 14.2l4.1 17.8l2.3 16l1.6 12l.1 8l-1.3 15l-3.3 8l-5.9 8l-.9 2l-5.3 15l-1.3 8l-.1 2l-.1 1l-.8 2l-1 1l-1.1 .5l-2 .5l-2.5-1l-1-1l-.8-2l-.2-3l-1.2-8l-5.8-16l-.5-1l-6-8l-3-7.2l-.3-1.8l-1.2-14l0-7l1.7-13l2.3-16l4.4-19l3.4-13l2.8-14z"/>
<path fill="#0083df" d="M547.5 40.5l47.1 0l-.4 4l-2.2 14l-4.2 30l-1.8 16l-.5 2.7l-2.8 11.3l-.3 3l.1 2l.3 2l.7 2.5l.5 5.5l.5 2.6l.4 5.4l.6 2.6l.8 5.4l4.6 9l4.6 7l1 3.3l.5 2.7l.8 3l3.7 7.5l3 8.2l-.1 1.3l4.6 16l1.4 3l.7 1l2.4 1.6l2 .2l2-.1l1-.2l2-1.5l.7-1l1.4-3l4.3-15l.3-1l-.1-1l.4-1.6l1.4-3.4l.6-2l4.3-9l1.3-5l.6-3l5.6-9l4-8l1.4-8l1.3-12l.5-3.2l.7-2.8l0-2l-.3-3l-.9-4l-1.5-5.4l-.9-4.6l-1.5-14l-4.2-30l-2.4-14.9l-.5-5.1l26.5 0l21 0l0 178l-137 0zM608.2 40.5l15.2 0l.5 5l2.9 14l2.9 11l4.6 20l2.4 16l1.5 12l.2 8l-.9 12.7l-.3 2.3l-.7 2.1l-2.6 5.9l-5.9 8l-.8 2l-5.4 15l-1.3 8l-.1 3l-.9 2l-1 1l-2 .8l-1 .1l-2-.7l-1.4-1.2l-.9-2l-.1-3l-1.3-8l-5.8-16l-.4-1l-6-8l-3.1-7.5l-.2-1.5l-1.1-14l.1-7l1.6-13l2.4-16l4.2-18.4l3.5-13.6l2.9-14z"/>
<path fill="#0091e5" d="M547.5 40.5l46.6 0l-.6 6l-2.4 15l-4.1 29l-1.5 14.2l-1 4.4l-6 19.4l-.4 2l0 1l.4 .4l1-.5l2-1.7l1 .4l1 3.2l1 5.4l.3 3.8l.7 2.4l.6 4.6l4.1 8l5.3 8.3l2.2 8.7l3.8 7.7l3 8.2l-.1 1.1l4.5 16l1.4 3l.7 1l2.5 1.6l2 .2l2-.1l1-.2l2-1.5l.7-1l1.5-3l4.3-15l.2-1l-.1-1l.4-1.5l3-7.7l3.4-6.8l2-8l.6-1.3l5.5-8.7l3-6l.4-1l1.1-6.5l.4-1.5l.6-5.4l.7-2.6l.3-2.1l1-1.6l1 .1l2 1.8l1 0l.1-.2l-.1-1.5l-4.7-15.5l-1.3-3.9l-1.2-5.1l-2.2-18l-4-29l-1.6-9.5l-1-8.5l14 0l33 0l0 178l-137 0zM608.5 40.5l14.6 0l.5 5l2.5 12l3.4 13.2l4.6 19.8l2.4 16l1.5 12l.2 8l-1.2 15l-.5 1.8l-2.6 6.2l-5.9 8l-.9 2l-5.3 15l-1.3 8l-.2 3l-.8 2l-1 1l-2 .8l-1 .1l-2-.7l-1.4-1.2l-.8-2l-.2-3l-1.3-8l-5.7-16l-.5-1l-5.9-8l-3.2-8l-1.1-15l.1-7l1.6-13l2.4-16l4-17.4l3.6-13.6l2.9-14z"/>
<path fill="#009feb" d="M547.5 40.5l46 0l-1 8.4l-1.6 9.6l-3.9 28l-2.3 19l-1.2 4.3l-5.3 13.7l-2.4 7l-.8 4l-.1 3l.6 1l1-.4l1-.8l3-3l1-.7l1 .4l1 2.3l1.3 7.2l.7 2.2l.5 3.8l4 8l5.5 8.6l2.2 8.4l3.8 7.8l3 8.2l-.2 1l4.6 16l1.4 3l.7 1l2.5 1.7l2 .1l2 0l1-.3l2-1.4l.8-1.1l1.4-3l4.3-15l.3-1l-.1-1l.3-1.3l3-7.7l3.5-7l1.1-4l.4-2.3l.9-2.7l4.6-7l4.2-8l.7-3l.6-3.5l.5-1.5l.5-3.6l1-3.8l1-1.4l1 .1l4 3.9l1 .7l1-.1l.3-.8l-.2-3l-.8-4l-2.3-6.7l-5-12.9l-1-3.1l-.8-3.3l-1.6-15l-4.1-29l-2.5-15.5l-.4-4.5l4.4 0l42 0l0 178l-137 0zM608.8 40.5l14 0l.3 4l2.9 14l3.5 13.3l4.3 18.7l2.7 17.6l1.4 11.4l0 7l-.9 14l-.4 2l-1.1 3.1l-1.7 3.9l-5.9 8l-.8 2l-5.3 15l-1.4 8l-.1 3l-.9 2l-1 1l-1.9 .7l-1 .2l-2-.7l-1.3-1.2l-.9-2l-.3-4l-1.1-7l-5.8-16l-.4-1l-5.3-7l-.9-1.6l-2-4.9l-1-3.4l-.3-7.1l-.6-7l.1-7l1.8-14l2.3-15l3.7-16.2l4.3-16.8l2.5-12z"/>
<path fill="#00adf2" d="M547.5 40.5l45 0l-1 8.1l-1.6 9.9l-4 28l-2.1 18l-.3 1.3l-1 2.9l-4.4 9.8l-2 6l-1.8 6l-.9 4l-.8 4l-.1 3.2l.3 .8l.7 .4l1-.4l6-5l1-.5l1 .5l1 2.1l.4 1.9l.6 1.6l1 3.6l.4 2.8l3.9 8l5.7 8.9l.3 2.1l1.8 6l3.9 8l1.4 4l.6 1.2l.9 2.8l-.1 1l4.6 16l1.4 3l.7 1l2.5 1.7l2 .2l2-.1l1-.2l2-1.5l.8-1.1l1.5-3l4.3-15l.2-1l-.1-1l.3-1.1l3-7.7l3.6-7.2l2.4-8.8l4.7-7.2l4.1-8l.6-2l.6-3.6l.6-1.4l1.4-4.9l1-1.5l1 0l5 4.2l2 1.4l1 .2l.3-.4l.3-1l-.1-3l-.5-2.6l-1-4.4l-2.3-8l-1.3-4l-4.4-9.8l-1-2.7l-.7-2.5l-1.7-15l-4.2-30l-2.4-14.7l-.2-3.3l-.1-1l45.3 0l0 178l-137 0zM562.5 161.1l-1 .9l-1 1.2l-1.4 2.3l-1.6 3.6l-2 5.4l-2 7l-.3 2l.3 .9l1 .1l1.5-1l1.5-2.1l2-3.4l2-4.7l2-7.4l.3-2.4l0-2l-.3-.7zM668.5 160.8l-.7 .7l-.1 2l.8 4.1l2 6.9l2 4.2l2 3.3l1.1 1.5l.9 .7l1 .4l1-1.1l-.2-1l-1.6-6l-2-6l-1.7-4l-1.5-2.7l-2-2.4zM609.1 40.5l13.4 0l.5 5l2.8 14l3.7 13.5l4.1 17.5l2.1 14l2 15l0 7l-.9 14l-.3 2l-2.8 7l-5.8 8l-.8 2l-5.4 15l-1.3 8l-.2 3l-.8 2l-1.1 1l-1.8 .7l-1 .1l-2-.6l-1.3-1.2l-.9-2l-.2-4l-1.2-7l-5-14l-1.2-3l-5.2-7l-1-1.7l-2-5.1l-.8-3.2l-.8-14l.1-7l1.5-12.7l3-18.3l4-17.1l3.5-12.9l2.8-14z"/>
<path fill="#00bbf8" d="M609.4 40.5l12.8 0l.6 6l2.1 11l4.6 16.9l3.7 16.1l2.3 14l1.9 15l.1 7l-.6 7l-.4 8.4l-1 3.1l-1.8 4.5l-5.8 8l-.9 2l-5.3 15l-1.4 8l-.1 3l-.9 2l-1 1l-1.8 .7l-1 .1l-2-.7l-1.3-1.1l-.8-2l-.3-4l-1.1-7l-5.1-14l-1.1-3l-5.2-7l-1.1-1.9l-2-5.3l-.5-2.8l-.9-14l.1-4l.1-4l1.2-9.7l3-19.2l4-16.8l3.7-13.3l2.8-14zM563.5 120.5l4-.5l4 .2l1 .3l.9 1l.3 2l-.3 4l-3.2 16l-1.1 4l-.9 2l-.7 1l-.7 1l-2.3 2.1l-2 1.4l-2 .9l-2 .4l-1-.2l-.8-.6l-.5-1l-.4-2l-.1-3l-.1-7l.4-7l.6-5l.6-3l1.1-3l1.4-2l1.8-1.3zM659.2 120.5l1.3-.4l3-.1l3 .2l3 .7l1.2 .6l1.3 1l.8 1l1 2l.8 3l.6 3l.7 10l.1 5l-.1 5l-.5 3l-.5 1l-1.4 .8l-1 0l-2-.6l-1-.5l-2-1.3l-2-1.7l-1.5-1.7l-1.1-2l-.7-2l-1-4l-3.1-16l-.2-2l.1-2l.5-1.4zM578.9 141.5l1.6-.8l1 0l1 .7l2 2.9l1 3.5l.2 1.7l4 8l5.4 9l2 7l.8 2l3.6 7.3l.6 1.7l1.4 3.4l.8 2.6l-.1 1l4.6 16l1.4 3l.7 1l2.6 1.7l3 .2l2-.3l2.2-1.6l1.2-2l.9-2l2.1-7l2.5-9l-.1-1l.2-.9l3-7.7l3.7-7.4l2.3-8.3l3.7-5.7l3.8-7l1.9-4l.8-4l.8-1.9l2-2.6l1-.4l1 .3l2 1.1l2 1.5l2.2 2l3.5 4l.7 1l1 2l1 3l1.6 7.5l1.5 8.5l.3 4l-.1 6l-.4 3l-.5 2l-2 5l-7.2 14l-8.6 13l-65.4 0l-8.5-13l-7.4-14l-2.2-6l-.7-5l.1-6l.5-5l2.1-11l1-4l.7-2l1-2l1.5-2l1.8-2l3.5-3.3z"/>
<path fill="#00c9fe" d="M609.8 40.5l12 0l.3 5l1.7 10l1.1 5l3.6 11.8l4 16.1l3 18l1.6 13.1l.1 7l-.5 6l-.3 8l-.1 1l-.8 3l-1.9 5l-5.8 8l-.5 1l-5.7 16l-1.3 8l-.2 3l-.6 1.6l-1.3 1.4l-1.7 .6l-1 .2l-2-.7l-1.2-1.1l-.9-2l-.2-4l-1.2-7l-5-14l-1.2-3l-4.4-6l-1.9-3l-2-5.9l-.2-1.1l-.3-8l-.6-7l.1-7l2-15.7l2-12.4l2-9l3-11.6l2.7-8.3l1-4l2.1-12zM624.5 70.6l-.2 3.9l.2 8.1l.4 7.9l.6 4.6l1.8 11.4l3.2 10.5l1 2.3l.5-.8l.3-2l-.5-9l-.3-2.7l-4-23.9l-2-8.9l-.5-.5zM606.5 70.8l-1 3.5l-2 9.9l-3.6 22.3l-.5 7l.1 6l1-.9l2-5.9l2-6.9l2-13.4l.3-2.9l.4-14l-.1-3l-.2-1zM567.4 128.5l1.1-.4l1.1 .4l.5 1l.2 1l-.1 3l-1.7 8.8l-1 2.5l-1 1.6l-1 .9l-1 .4l-1-.5l-.3-.7l-.5-3l.1-3l.9-5l.9-3l1-2l.9-1.3zM662 128.5l.5-.4l1 .1l1 .5l.8 .8l1.2 1.8l1 2.7l1.1 5.5l.3 3l-.2 3l-.2 1l-.8 1l-.2 .2l-1-.1l-1-.8l-1-1.3l-1.3-3l-.7-2.5l-1.2-6.5l.1-4zM580.3 143.5l2.2 .1l1 .5l1 1.3l1.1 4.1l1.2 3l3.1 6l4.6 7.5l2.8 8.5l4.2 8.5l.5 1.5l1.5 3.5l.7 2.5l-.1 1l4.7 16l1.4 3l.7 1l1.6 1.2l1 .5l3 .2l2-.3l2.2-1.6l1.2-2l1-2l2-7l2.5-9l-.1-1l.2-.7l1-2.7l2-5l3.8-7.6l2.6-8l5.3-9l2.1-4l1.8-4l.4-2.3l1-2.5l1-.8l1-.3l1-.2l2 .4l2 .9l1 .8l2 1.9l2.3 3.1l2.1 4l1.3 4l1.2 5l.7 5l.1 4l-1.1 5l-2.2 6l-3.2 8l-6.8 13l-8.8 14l-54.5 0l-8.4-13l-7.3-14l-5.1-13l-.9-3l-.5-3l.1-4l.7-5l1.4-6l1.5-4l2.4-4l3-3.5l2-1.5l1-.5z"/>
<path fill="#0aceff" d="M610.3 40.5l11 0l.2 4l1.6 15l-.1 12l.8 19l2.1 15l3.6 13.4l2 5.4l1 2l1 .1l.2-.9l-.1-5l-.8-13l-2.6-16l-1.8-12l-.2-3l.3-.9l.3 1.9l.7 1l.4 2l.6 1.6l2 8.1l3 18.7l1.3 10.6l0 7l-.7 8l-.2 7l-.4 2.3l-1.9 5.7l-5.8 8l-.5 1l-5.7 16l-1.4 8l-.1 3l-.9 2l-1 1l-1.7 .6l-1 .1l-2-.6l-1.2-1.1l-.8-2l-.4-5l-1-6l-.4-1l-5.8-16l-2.4-3l-3.4-5l-1.6-4.2l-.8-3.8l-.4-9l-.5-6l.1-8l1.6-12.5l2-12.3l1-5.3l.6-1.9l.4-2.2l.6-1.8l.4-1.9l.6-1.1l.4-2.2l.8 .2l-1.5 12l-3 18l-.8 13l0 5l.5 1.2l1-1.1l1-2.3l2-5.7l3.2-12.1l2.1-15l.8-19l0-13l1.5-14zM603.4 75.5l.1-.6l.1 .6l0 1l-.1 .7l-.2-.7zM579.8 145.5l1.7-.9l1 0l1 .5l1 1.5l1.2 3.9l.9 2l5 10l2.4 4l1.5 3.3l1.7 4.7l4.3 8.8l.4 1.2l1.6 3.7l.7 2.3l-.1 1l1.4 4.5l2.6 9.5l1.1 3l.9 2l.7 1l1.7 1.3l1 .5l3 .1l2-.2l2.3-1.7l1.2-2l.9-2l2.1-7l2.2-8l.3-2.5l1-2.7l2-5l3.9-7.8l2.3-6l.9-2l2.9-5l4.5-9l1.3-3l.2-1.1l.7-1.9l.6-1l.7-.7l1-.3l1 .2l2 1.3l2 .7l1 .6l2 1.9l2 2.9l1.7 3.4l1.3 4l.9 4l.5 5l-.2 4l-1.6 5l-5 13l-7.8 15l-8.2 13l-50.6 0l-8.2-13l-7.3-14l-5.9-15l-.9-3l-.4-2l0-4l.4-4l1.2-5l1.4-4l1.7-3.1l2-2.6l2-1.7z"/>
<path fill="#17d1ff" d="M610.8 40.5l10 0l1.1 16l.3 15l.9 19l2 15l3.4 13.4l2 5.9l2 4.5l1 1l1-.9l.4-1.9l.1-2l-.7-7l-.5-11l-.3-.8l-.6-5.2l-.4-1l-.5-5l-.2-1l-.3-.3l-.3-3.7l.1-1l.2-.4l.4 3.4l.2 1l.4 .3l.5 4.7l.5 1.1l.5 4.9l.5 1.1l.4 3.9l.6 2.9l.9 7.1l0 6l-.6 3l-.1 2l-.3 11l-.9 5l-1 3l-5.8 8l-.5 1l-5.4 15l-.7 3l-.9 6l-.2 3l-.5 1.4l-1 1.3l-1 .6l-2 .4l-2-.7l-1.1-1l-.9-2l-.3-4l-1.1-7l-5.4-15l-.8-2l-4.4-6l-1.3-2l-.7-1.7l-1-3.3l-.3-3l-.2-11l-.1-1l-.4-.9l-.2-2.1l0-7l.2-2.8l.5-2.2l.5-4.9l.6-2.1l.4-4.3l.4-.7l.2-1l.4-4.2l.5-.8l.1-1l.4-4l.7-1l.3-2.4l.1 1.4l-.1 2.1l-.5 .9l-.5 5.5l-.5 1.5l-.5 4.7l-.6 2.3l-.4 8.8l-.8 10.2l0 2l.4 2l.4 .7l1-.1l1-1.5l1-2.3l3-8.8l3.1-12l1.9-15l.9-20l.3-15zM649.5 145.5l1 .6l2 2.4l2 .3l1 .4l1 .7l2 2.4l1.3 2.2l1.5 4l1 4l.4 4l-.1 5l-1.6 5l-5.8 15l-7.3 14l-8.2 13l-47.8 0l-8.2-13l-7.7-15l-6.8-18l-.3-2l0-4l.4-4l1-4l1.2-3.3l2-3.5l2-2.1l1-.6l2-.3l1-.5l1.2-1.7l.8-.8l1-.2l1 .6l1 1.7l1.8 4.7l4.2 8.8l4.5 8.2l2 5l4.5 9.1l2 4.8l.6 2.1l-.1 1l1.5 4.6l.8 3.4l1.7 6l.7 2l1.4 3l.7 1l.7 .6l1 .7l1 .5l3 .2l2-.3l2.3-1.7l2.2-4l4.2-15l.3-1l0-1.3l3-7.6l3.6-7.1l2.5-6l3.9-6.9l4.8-10.1l2.2-5.6l1-1.1z"/>
<path fill="#24d3ff" d="M611.2 40.5l9.2 0l.8 14l.4 16l.9 20l1.9 15l3.1 12.6l1 3.2l3 8.2l2.4 5l.6 3l.2 4l-.1 4l-1.1 3.6l-2.8 4.4l-3 4l-.5 1l-5.1 14l-1 4l-1 6l-.1 3l-.5 1.4l-.4 .6l-1 1l-1.6 .5l-1 .1l-2-.6l-1.1-1l-.8-2l-.5-5l-1.2-7l-5.9-16l-1.6-2l-4.1-6l-.8-2.1l-.7-3.9l.3-5l.6-4l.3-1l1.5-2.6l1-2.4l3-8.4l3-11.5l1-5.3l1.6-13.8l.8-18l.5-15zM581.2 147.5l.3-.4l1-.6l1 .6l1 1.7l1.4 3.7l4.6 9.7l4.6 8.3l1.7 4l4.7 9.4l2 4.7l.5 1.9l0 1l1.5 4.8l.7 3.2l1.8 6l1.1 3l.9 2l.8 1l1.7 1.4l1 .4l3 .2l2-.3l2.4-1.7l1.1-2l1-2l.9-3l3.4-12l.2-1l0-1.1l1-2.8l.6-1.1l1.4-3.5l3.8-7.5l1.7-4l5.5-10.2l4.2-8.8l1.8-4.5l1-1.3l1-.1l.9 .9l1.1 2.5l1 1.3l2-.3l1 .2l1 .6l1 1l1.2 1.7l1.4 3l.9 3l.5 2.6l.3 4.4l-.2 3l-.4 2l-6.7 18l-7.7 15l-8.3 13l-45.5 0l-8.2-13l-7.2-14l-5.8-15l-1.7-5l-.3-4l.2-4l.8-4l1.1-3l1.6-2.9l1-1.3l1-.8l1-.5l1 0l1 .3l1-.3z"/>
<path fill="#31d6ff" d="M611.7 40.5l8.2 0l2.1 50l1.9 15l3.6 14.7l2 6l2.8 7.3l.6 2l1 5l.4 4l-.3 2l-.8 3l-2.6 4l-3 4l-.5 1l-5.7 16l-1.3 8l-.2 3l-.4 1.3l-1 1.3l-1 .6l-2 .4l-1.9-.6l-1.1-1l-.9-2l-.5-6l-1.2-6l-5.9-16l-1.6-2l-4-6l-.9-2.9l-.1-1.1l.3-5l1.2-6l3.6-9.4l2-6.2l3.2-13.4l1.9-15l.9-19.5l.5-16.5zM581.6 148.5l.9-.9l1 .5l1 1.7l1.1 2.7l4.7 10l5.1 9l1.3 3l4.8 9.7l2 4.7l.4 1.6l0 1l1.6 4.9l.7 3.1l1.3 4.1l.4 1.9l1.1 3l1 2l.7 1l1.8 1.4l1 .4l1.7 .2l.3 .2l3-.5l2.4-1.7l1.2-2l.9-2l1-3l3.6-13l0-1l.9-2.6l2-4.6l3.9-7.8l1.3-3l5.8-10.5l6-13l1-1.3l1 .1l.5 .7l1.1 3l.4 1.9l.8 1.1l.2 .1l2-1.2l1-.1l1 .5l1 1l1 1.5l1 2.2l.8 3l.3 2l.1 5l-.5 4l-6.7 18l-7.7 15l-8.3 13l-43.5 0l-8.2-13l-7.2-14l-5.7-15l-1.7-5l-.4-4l.2-4l.5-3l1-3l1-1.9l1-1.3l1-.8l1-.2l.8 .2l2.2 1.2z"/>
<path fill="#3ed9ff" d="M612.2 40.5l7.2 0l2.1 49l1.9 16l3.1 13.2l2 6.4l3.4 9.4l1.3 6l.6 5l-.4 3l-.9 2l-4.9 7l-.5 1l-5.1 14l-.8 3l-1 6l-.3 4l-.3 1l-.6 1l-1.1 1l-1.4 .5l-1 .1l-1.9-.6l-1.1-1l-.8-2l-.6-6l-1.1-6l-5.9-16l-1.7-2l-3.9-6l-.7-4l.6-5l1.6-7l2.5-6.7l2.4-7.3l3.3-14l1.8-15zM581.9 149.5l.6-.8l1 .3l1 1.7l5 10.7l5.6 10.1l6.4 13.1l2 4.5l.4 1.4l-.1 1l1.7 5.1l.6 2.9l1.4 4.2l.7 2.8l1.7 4l.8 1l1.8 1.5l1 .4l1.1 .1l.9 .6l1-.2l.4-.4l1.6-.2l2-1.4l.5-.4l1.1-2l1-2l.9-3l2.5-9.3l1.2-3.7l0-1l.8-2.4l7.4-15.6l5.7-10l5.9-12.6l1-1.2l1 .4l.6 1.4l.5 2l.2 4l.2 1l.5 1l3-2.5l1-.3l1 .4l1 1l1 1.8l.8 2.6l.3 2l.1 4l-.3 4l-.3 1l-6.5 18l-7.8 15l-8.2 13l-41.6 0l-8.2-13l-7.3-14l-4.5-12l-2.8-8l-.3-4l0-3l.6-3.9l.8-2.1l1.2-1.9l1-.7l1-.1l1 .4l2 1.9l1 .3l.3-1.9l.1-4z"/>
<path fill="#4bdbff" d="M612.7 40.5l6.2 0l2.3 50l1.8 15l3.2 14l2.3 7.1l2.5 6.9l1.7 8l.7 5l-.3 2l-.7 2l-5.4 8l-5.7 16l-1.3 8l-.2 3l-.3 1l-.5 1l-1.1 1l-1.4 .4l-1 .1l-1.8-.5l-1.2-1.1l-.7-1.9l-.7-6l-1.1-6l-5.9-16l-1.6-2l-3.8-6l-.5-3l.7-5l1.7-8l2.9-8l2-6.4l3.1-13.6l1.9-16zM582.2 150.5l.3-.6l1 .1l1 1.6l2.5 4.9l2.5 5.4l5.9 10.6l7.1 14.6l1 2.3l.3 1.1l0 1l1.7 5.3l.6 2.7l1.4 4.4l.6 2.6l1.8 4l.7 1l1.9 1.5l1.8 .5l1.2 1l1-.2l.8-.8l1.2-.2l2-1.3l.5-.5l1.2-2l.9-2l1-3l2.4-9.1l1.3-3.9l0-1l.7-2.2l7.7-15.8l5.6-10l2.3-5l3.4-6.7l1-1.1l1 .8l.3 1l.4 2l-.2 7l.5 1.9l1-.7l2-2.2l1-.8l1-.3l1 .4l1 1.3l.8 2.4l.3 2l0 4l-.2 3l-.3 1l-6.4 18l-7.7 15l-8.3 13l-39.8 0l-8.3-13l-7.3-14l-4.7-13l-2.4-7l-.3-4l.1-3l.5-2.8l1-2.3l1-.9l1 0l1 .5l3 3.1l1 .1l.2-2.7l-.2-7z"/>
<path fill="#58deff" d="M613.3 40.5l5 0l2.6 50l1.7 15l3.2 14l1.7 5.7l2.9 8.3l1.8 8l.7 5l0 2l-.4 1.5l-2.1 3.5l-3.4 5l-2.5 7.2l-2.6 6.8l-.7 2l-1.2 7l-.2 4l-.3 1l-1 1.4l-1 .7l-2 .4l-1.7-.5l-1.3-1.2l-.7-1.8l-.2-3l-.5-4l-1-5l-5.9-16l-1.7-2.1l-3.1-4.9l-.5-1l-.3-2l.9-6l1.7-8l2.8-8l1.8-6l3.2-14l1.7-15zM582.4 151.5l.1-.3l1-.2l2 3.1l4.1 8.4l5.6 10l7.3 14.9l1 2.3l.2 1.8l1.8 5.4l.5 2.6l1.5 4.5l.6 2.5l1.7 4l.8 1l1.9 1.6l1.6 .4l.4 .5l1 .8l1-.2l1.1-1.1l.9-.2l2-1.3l.6-.5l.6-1l1.5-3l1.3-4.8l.5-1.2l1.5-5.9l1.4-4.1l0-1l.6-1.9l7.9-16.1l5.1-9l3.9-8l2.1-3.8l1-.9l.6 .7l.5 1l.1 2l-.6 8l-1.6 4.7l-.5 3.3l.5 .1l.6-1.1l3.4-4.9l2-2.2l1-.6l1-.1l1 1l.6 1.8l.3 2l-.1 5l-1.8 5.8l-4.7 13.2l-7.7 15l-8.3 13l-38 0l-8.3-13l-7.3-14l-4.7-13l-2.2-7l-.1-4l.3-3.2l1-2.2l1-.5l1 .3l2 1.9l5 7.3l.2-.6l-.2-2l-.5-1l-.5-2.2l-.7-1.8l-.6-4l-.3-6zM646.5 171l0 .5l0 .2l.1-.2z"/>
<path fill="#65e0ff" d="M613.9 40.5l3.8 0l.9 13l1.9 37l1.8 15l3.1 14l2.1 7l2.5 7l1.6 8l1 6l-.1 2l-.9 2l-4.7 7l-2.4 7l-3.3 9l-1.2 7l-.3 4l-.2 .9l-.7 1.1l-1 1l-2.3 .4l-1-.2l-.6-.2l-1.4-1.3l-.6-1.7l-.2-3l-1.6-9l-5.9-16l-1.7-2.2l-3-4.7l-.5-2.1l.1-2l.8-5l1.8-8l2.8-8.2l1.7-5.8l3.1-14l1.8-15l1.8-35zM582.7 152.5l.8-.5l1 1.1l1 1.6l3.9 7.8l5.7 10l7.4 15.2l1 2.3l.2 1.5l1.8 5.6l.5 2.4l1.5 4.7l.5 2.3l1.8 4l.8 1l1.9 1.6l1.3 .4l.7 .9l1 .6l1-.1l1.3-1.4l.7-.1l2-1.3l.6-.6l.7-1l1.4-3l.7-2l2.6-9.7l1.5-4.3l0-1l.5-1.5l8.1-16.5l5.6-10l3.3-6.7l2-3.2l1-.7l.7 1.6l0 3l-.5 5l-.5 2l-3.1 9l-2 5l-.6 1l-1.4 4l-.6 1.2l-.3 1.8l.3 .7l7.6-13.7l2.4-3.9l2-2.4l1-.7l1-.1l1 1.1l.6 3l.1 2l-.2 1l-3.5 10.8l-2.9 8.2l-7.3 14l-8.4 13l-36.2 0l-8.4-13l-7.3-14l-3.5-10l-2.9-9l-.2-1l.2-3l.2-1l.7-1.7l1-.4l1 .4l1 .8l1 1.2l2 2.9l8 14.5l.4 .3l.6 1.4l.2-.4l-.2-1.6l-.7-1.4l-1.3-4l-.6-1l-1.4-3.9l-.6-1.1l-3.9-11l-.7-7l.1-2zM639.5 186.5l-.1 1l.1 .2l.1-.2l0-1z"/>
<path fill="#72e3ff" d="M614.8 40.5l2 0l.1 2l.6 3.9l1 13.5l1.7 30.6l1.7 15l3.1 14l1.5 5.2l3 8.8l1.7 8l1.1 7l0 1l-.8 2l-1.9 3l-2.3 3l-.5 1l-2.3 6.9l-3.4 9.1l-.6 4.3l-.6 2.7l-.2 4l-.2 .7l-.7 1.3l-1.1 1l-1.2 .3l-1 .1l-1.6-.4l-1.4-1.5l-.5-1.5l-.2-3l-1.6-9l-2.7-7l-2.8-8l-.4-1l-1.8-2.3l-2-3.2l-.8-1.5l-.3-1l-.1-1l.9-6l1.9-9l2.7-8l1.8-6l3.1-14l1.7-15l2.1-37.1zM583.1 153.5l.4-.5l1 .8l1 1.4l3.7 7.3l5.7 10l7.6 15.5l1 2.3l.4 2.2l1.6 4.8l.4 2.2l1.6 4.9l.4 2.1l1.8 4l.8 1l2 1.7l1.1 .3l.9 1.1l1 .7l1-.2l1.5-1.6l.5-.1l1-.6l1.7-1.3l.7-1l1.4-3l.6-2l2.6-9.5l1.6-4.5l0-1l.4-1.2l8.2-16.8l5.8-10l3-6.2l2-3l1-.1l.3 1.3l0 3l-.6 5l-4.1 11l-7.6 18.2l-.5 1.8l-.5 .9l-.7 3.1l.7 .2l2-3.2l8-14.9l4-7l2-2.5l1-.7l1-.1l.9 1.2l.2 1l0 1l-2.1 7.5l-3.4 10.5l-7.7 15l-8.6 13l-34 0l-8.6-13l-7.3-14l-2.4-7.1l-3-10l-.5-2.9l.5-1.6l.5-.4l.5-.3l1 .4l1 .9l1 1.2l4 6.9l8 14.9l2 3.3l.6 .7l.4 1.1l1 1.9l.2 0l.2-1l-.4-1.1l-.7-.9l-.3-2l-.5-1l-.5-1.7l-8.5-20.3l-3.5-10l-.7-6l0-2zM598.5 200.9l-.1 .6l.1 .2l0-.2zM634.5 197.7l-.2 .8l-.8 1l-.1 1l.1 .8l.3-.8l.9-1l.2-1z"/>
<path fill="#7fe6ff" d="M615.4 45.5l.1-.4l1 1.2l1 7.2l2.4 37l1.7 15l3 14l1.9 6.4l2.6 7.6l1.8 9l.9 5l.1 2l-.6 2l-.8 1.4l-1 1.7l-2.2 2.9l-.5 1l-2.3 6.7l-3.5 9.3l-.5 3.9l-.6 3.1l-.4 4.5l-.8 1.5l-1.2 1.1l-2 .3l-1-.2l-.5-.2l-1.1-1l-.4-.6l-.5-1.4l-.1-3l-1-6l-.7-3l-2.7-7.2l-2.7-7.8l-.5-1l-2.9-4l-1.1-2l-.7-2l1.3-8l1.6-8l3-8.9l1.5-5.1l3-14l1.7-15l1.8-29.1l.6-7.9l.4-3.7zM583.3 154.5l.2-.4l1 .3l2 3.1l2.5 5l5.7 10l7.8 15.9l.9 2.1l.4 2l1.7 5l.4 2l1.6 5l.4 2l1.8 4l.8 1.1l2 1.6l.9 .3l1.1 1.4l1 .7l1-.2l1-.9l.7-1l1.3-.6l1-.8l.8-.6l.6-1l1.4-3l.7-2l2.5-9.3l1.7-4.7l.3-1.8l8.4-17.2l5.8-10l1.8-3.9l2-3.5l1-1l.7 .4l.3 1l0 1l-.6 6l-3 8l-8.4 20l-2.7 7l-1.3 2.5l-2 4.9l-1 3.1l-.5 2.5l-.5 1l-.2 2l-.8 1l-.4 1l-.6 .6l-1.3 2.4l-18.6 0l-2.1-3.3l-.6-.7l-.8-2l-.6-3.2l-2-5.9l-2.7-5.9l-2.3-6.1l-7.7-17.9l-3.7-10l-.4-1l-.5-4l-.1-2zM580.1 175.5l.4-.7l1 .6l1 1.2l2 2.9l4 6.9l10.2 19.1l4.3 9l1 4l-3.6 0l-3.9-5.2l-5.3-7.8l-7.7-15l-3-10.7l-.4-2.3zM650.1 175.5l.4-.4l1-.1l0 2.7l-1 4.6l-2.8 9.2l-7.3 14l-4.9 7.2l-4 5.5l-.3 .3l-.7 0l-2.9 0l1.3-5l.6-.7l3.4-7.3l10.6-19.8l4-6.8l2-2.8z"/>
<path fill="#8ce8ff" d="M615.3 52.5l.2-.9l1 1.3l1 7.9l2.1 29.7l1.9 16l2.8 13l1.7 6l2.7 8l1.6 8l1.3 8l-.1 1l-1 2.2l-1 1.8l-2.3 3l-4.7 13l-.5 1l-1.1 3l-.4 3.5l-.7 3.5l-.2 4l-.9 2l-1.2 1l-2 .3l-1-.2l-.4-.1l-1.1-1l-.5-.7l-.4-1.3l-.1-3l-.5-2l-.5-4l-1-4l-2.5-6.4l-2.6-7.6l-.5-1l-2.9-4l-1-2l-.5-2l1.1-7l1.8-9l2.7-8l1.7-6l3-14l1.7-15l2.5-33.8zM583.7 155.5l.8-.4l1 1.2l1 1.7l2.3 4.5l5.7 10l8 16.2l.8 1.8l.4 2l1.8 5.2l.3 1.8l1.7 5.3l.3 1.7l1.9 4l.6 1l2.2 1.8l.7 .2l1.3 1.6l1 .7l1-.2l1-.9l.9-1.2l1.1-.5l1-.8l.8-.7l.7-1l1-2l1.1-3l.4-2.1l1.3-3.9l.7-3.1l1.7-4.9l.3-1.5l8.6-17.5l5.7-10l1.7-3.4l2-3.4l1-.8l.4 .6l.2 1l0 2l-.5 4l-3.7 10l-7.4 17.2l-3.2 7.8l-2.8 6.1l-1 2.6l-2.4 7.3l-2.8 5l-16.9 0l-2.8-5l-3.1-8.9l-3.2-7.1l-11.4-27l-2.9-8l-.5-5l0-1.5zM583.9 184.5l.6-.8l1 .9l2 2.8l2 3.2l7.8 14.9l1.4 4l.5 2l0 1l-.7 .3l-1-.9l-2-2.3l-3.1-4.1l-7.2-14l-.9-3l-.4-3zM646.3 184.5l.2-.3l1-.6l.3 .9l-.3 3l-1 4l-7.4 14l-3.6 4.9l-2 2.1l-1 .4l-.2-.4l.1-1l1.9-6l8.2-15.5l2-3.2z"/>
<path fill="#98ebff" d="M615.4 58.5l.1-.3l1 1.4l.4 2.9l1.6 17.1l.7 10.9l2 16l2.7 13l1.6 5.5l2.8 8.5l1.6 8l1.4 8l-.1 1l-.7 2l-1.1 2l-2.3 3l-6.2 17l-.4 3.1l-.8 3.9l-.2 4.2l-.9 1.8l-1.1 1l-1 .2l-1 .1l-1.3-.3l-1.2-1l-.5-.8l-.3-1.2l-.2-3l-.5-2.4l-.4-3.6l-1.1-4l-.5-1.1l-.6-1.9l-1.4-3.6l-2.5-7.4l-3.4-5l-.9-2l-.4-2l1.4-8l1.6-8l2.6-8l1.8-6l2.8-13.4l1.9-15.6l2.1-26.7zM584.1 156.5l.4-.6l1 .9l1 1.6l2.1 4.1l5.7 10l8.2 16.6l.6 1.4l2.4 7.5l.5 2.5l.5 1l1.3 5l1.2 3l1.2 2l2.3 1.8l.6 .2l1.4 1.9l1 .7l1-.2l1-1l1.1-1.4l.9-.4l1-.9l.9-.7l.7-1l.4-1.2l.5-.8l1.1-3l.4-2l.5-1l.5-2.3l.4-.7l.6-2.9l1.8-5.1l.2-1.1l8.7-17.9l5.8-10l2.5-4.7l1-1.5l1-.3l.3 2.5l-.5 4l-3.3 9l-11 26l-1.5 3l-2 4.7l-2.6 7.3l-.8 2l-2.3 4l-16 0l-2.8-5l-3.5-9.7l-2.9-6.3l-10.6-25l-3.7-10l-.4-4z"/>
<path fill="#a5edff" d="M615.4 65.5l.1-.6l1 1.5l1 7.4l1.4 16.7l2 16l2.7 13l1.7 6l2.6 8l1.9 9l1.1 7l0 1l-.5 2l-1.9 3.2l-1.5 1.8l-2.5 7.1l-.5 .9l-.5 1.9l-.6 1.1l-.4 1.6l-1.4 3.4l-.3 1l-.3 2.7l-.7 3.3l-.3 5l-.9 2l-1.2 1l-1.9 .3l-1.3-.3l-1.1-1l-.6-.9l-.3-1.1l-.1-3l-.6-2.9l-.5-4.1l-.9-3l-1.6-4l-3.4-10l-3.4-5l-.8-2l-.2-2l1.3-8l1.7-8l2.8-8.7l1.5-5.3l2.7-13l2-16l1.1-14l.7-5.7zM584.3 157.5l.2-.6l1 .5l1 1.5l1.9 3.6l5.8 10l8.3 17l3 8.8l.4 2.2l.6 1.3l.3 1.7l.7 1.8l.5 2.2l.5 .7l.5 1.3l1.1 2l1.5 1l.9 .9l.4 .1l1.6 2.1l1 .7l1-.2l1-.9l1.2-1.7l.8-.4l1.9-1.6l.8-1l1.7-4l1.6-6.1l.5-.9l.5-2.6l1.6-4.4l.5-2l8.8-18l5.8-10l2.3-4.2l1-1.3l.7 .5l.2 1l0 1l-.3 3l-4.1 11l-10.3 24l-3.2 7l-3.3 9l-2.8 5l-15.2 0l-2.7-5l-3-8.1l-3.6-7.9l-10.7-25l-3.7-10l-.3-3z"/>
<path fill="#b2f0ff" d="M615.5 71.5l1 .8l1 5.9l1.1 12.3l2 16l2.7 13l4.3 14l1.6 8l1.4 8l-.1 2l-.3 1l-1.6 3l-1.7 2l-1.4 4.1l-.5 .9l-.5 1.9l-.6 1.1l-.4 1.6l-1.7 4.4l-.3 1.1l-.5 .9l-1.1 6l-.6 6l-.8 2l-1.2 1l-1.8 .2l-1.2-.2l-1.1-1l-.7-1.2l-.4-4.8l-.6-2.4l-.6-4.6l-1.4-3.6l-.4-1.4l-.6-1.3l-.5-1.7l-.5-1l-2.3-7l-2.8-4l-1-2l-.4-2l0-1l.8-5l2.2-11l2.6-8l1.7-6l2.7-13l2-16l.5-6.3l1-9zM584.6 158.5l.9-.4l1 1.3l7.5 13.1l8.5 17.4l2 5.4l1 3.3l.4 1.9l.6 1.5l.5 2.5l.5 1l.4 2l.6 .9l.4 1.1l1.1 2l2.7 2l1.8 2.4l1 .6l1-.1l1-1l1.4-1.9l.6-.3l2-1.7l.7-1l1.8-4l1.5-5.8l.6-1.2l.4-2.3l2.3-6.7l8.3-17l8.4-14.7l1-.9l.4 .6l.1 2l-.2 2l-3.6 10l-13.7 31.4l-3.6 9.6l-2.8 5l-14.5 0l-2.9-5l-3.2-8.7l-3.3-7.3l-11.2-26l-3.2-9l-.3-3z"/>
<path fill="#bff2ff" d="M615.5 75.5l1 .9l1 6.1l.7 8l2.1 16l2.7 13l1.5 5.4l2.8 8.6l2.5 13l.5 4l-.3 2l-.5 1.2l-1 1.8l-1.7 2l-.3 1l-.5 1l-.5 1.8l-.6 1.2l-.4 1.6l-.7 1.4l-.3 1.4l-.7 1.6l-.3 1.1l-.5 .9l-.5 1.9l-.6 1.1l-1.1 6l-.6 6l-.8 2l-1.3 1l-.6 .1l-2.1-.1l-1.1-1l-.8-1.5l-.3-4.5l-.7-2.9l-.5-4.1l-2.5-6.5l-.4-1.5l-.6-1.3l-.4-1.7l-.6-1l-1.3-4l-.4-1l-2.4-3l-.8-2l-.3-2l0-1l.7-4l2.4-12l4.2-14l2.7-13l2.1-16l1.1-11zM585.1 159.5l.4-.6l1 1.1l7.4 12.5l8.6 17.8l2 5.3l1 3.3l.3 1.6l.7 1.8l.4 2.2l.6 1.4l.3 1.6l.7 1l.3 1l1.1 2l2.6 2l2 2.6l1 .7l1-.2l1-.9l1.5-2.2l2.5-2l.8-1l1.8-4l.4-2.1l.7-1.9l.3-1.5l.6-1.5l.4-2.1l2.5-6.9l8.2-17l8.3-14.1l1-.4l.2 1.5l-.1 2l-3.6 10l-14.5 33.2l-2.9 7.8l-2.8 5l-14 0l-2.8-5l-3.4-9l-13.6-31l-4-11l-.1-2z"/>
<path fill="#ccf5ff" d="M615.3 80.5l.2-1l1 1l1 6.4l.3 3.6l2.2 16l2.7 13l1.7 6l2.5 8l2.2 11l.9 5l0 1l-.5 3l-1 1.9l-1.8 2.1l-3 8l-.2 1.1l-.5 .9l-.5 1.8l-.6 1.2l-.4 1.5l-.7 1.5l-1 5l-.3 3l-.3 1l-.2 3l-.5 1.6l-1.5 1.4l-1.5 .1l-1-.1l-1.1-1l-.9-1.8l-.2-4.2l-.8-3.6l-.4-3.4l-.6-1.4l-.4-1.6l-.6-1.1l-.5-1.9l-.5-.8l-.3-1.2l-.7-1.6l-.3-1.4l-.7-1.4l-.4-1.6l-.6-1.2l-.6-1.8l-2.4-3.1l-.7-1.9l-.2-2l.5-4l2.6-13l4.2-14l2.7-13l2.2-16l.7-6.8zM585.3 160.5l.2-.6l1 .6l7.2 12l8.2 17l2.6 6.5l.6 2.5l.4 .8l.5 2.2l.5 1.1l.3 1.9l.7 1.8l.2 1.2l1.5 3l.6 1l2.6 2l2.1 2.9l1 .7l1-.2l1.3-1.4l1.4-2l2.6-2l.6-1l1.8-4l.3-1.6l.6-1.4l.4-2.2l.7-1.8l.3-1.7l2.7-7.3l8.2-17l4.1-7.2l4-6.2l.7 .4l.2 1l-.1 1l-.6 2l-2.9 8l-14.5 33l-3 8l-2.8 5l-13.4 0l-2.8-5l-3.5-9l-13.6-31l-3.7-10.3l-.2-.7z"/>
<path fill="#d9f7ff" d="M615.3 84.5l.2-.9l1 1l2 12.6l1.2 9.3l2.7 13l4.2 14l2.4 12l.7 5l-.1 2l-.3 1l-.8 1.6l-1.9 2.4l-.5 1l-1.6 5l-.6 1l-.4 1.7l-.7 1.3l-1.3 4.2l-.5 .8l-1.2 5l-.3 3.2l-.5 1.8l-.1 3l-.4 1.3l-.5 .7l-1.2 1l-2.1 0l-1.3-1l-.8-2l-.3-5l-.8-3.5l-.2-2.5l-.8-1.8l-.3-1.2l-.7-1.5l-.4-1.5l-.6-1.2l-.5-1.8l-.5-.9l-.2-1.1l-.8-1.8l-.3-1.2l-1.1-3l-1.6-1.8l-1-1.7l-.4-1.5l-.2-2l0-1l.9-5l2.2-11l2.5-8l1.7-6l2.7-13l2.6-18.6zM585.7 161.5l.8-.3l1 1.4l6 9.8l8.3 17.1l2.7 6.8l.5 2.2l.5 1.2l.3 1.8l.7 1.7l.5 2.3l.6 2l1.4 3l.7 1l2.4 2l2.3 3l1.1 .9l1-.2l1-1l1.9-2.7l1-1l1.6-1l1.1-2l.4-1.2l.5-.8l.5-2.2l.7-1.8l.3-1.8l.6-1.2l.4-2.3l2-5.6l.9-2.1l8.1-16.9l3-5.3l4-6.3l1-1.1l.4 .6l0 1l-.4 1.8l-2.9 8.2l-14.5 33l-3 8l-2.9 5l-12.9 0l-2.8-5l-3.9-10l-13.2-30l-2.9-8l-.9-3z"/>
<path fill="#e5faff" d="M615.3 88.5l.2-.9l1 1.1l1 4.6l1.7 12.2l2 10l2 8l3.3 10.9l2.4 12.1l.4 4l0 2l-.6 2l-2.8 4l-.4 1.6l-.7 1.4l-.3 1.4l-.7 1.6l-.3 1.2l-.5 .8l-.5 2l-.6 1l-.4 1.7l-.7 1.3l-.6 2l-.4 2l-.3 3.1l-.7 2.9l-.1 3l-.2 1l-.7 1l-1.3 1l-1.5 0l-1.5-1.2l-.6-1.8l-.8-7l-.6-2.6l-.4-2.4l-.6-1.2l-.5-1.8l-.5-.9l-.2-1.1l-.8-1.7l-.3-1.3l-.7-1.5l-.4-1.5l-.6-1.3l-.4-1.7l-.6-1l-.2-1l-1.8-2l-1-1.9l-.3-3.1l0-1l.9-5l2.2-11l2.6-8l1.9-7l2.4-12l1.3-9.6l1-5.5zM586.2 162.5l.3-.5l2 2.4l5 8.3l4.6 9.8l3.5 7l2.9 7.4l.3 1.6l.7 1.7l.2 1.3l.8 2.3l.6 2.7l.7 2l.7 .9l.3 1.1l.8 1l2.3 2l2.2 3l1.4 1.2l1-.2l4-5l1-.4l.7-.6l1.1-2l.2-.9l.7-1.1l.3-1.5l.6-1.5l.4-2.2l.7-1.8l.3-1.7l.6-1.3l.4-1.8l3-7.2l4.5-9l2.5-5.6l2-3.6l3-4.9l2-2.9l1-.5l.1 .5l-1 4l-3 8l-10.1 23l-3.2 7l-3.4 9l-2.9 5l-12.4 0l-.1-.2l-3-5.4l-2.8-7.4l-14.2-32.3l-3-8.5z"/>
<path fill="#f2fcff" d="M615.4 91.5l.1-.3l1 .7l1 4l1.5 10.6l2.1 10l2 8l2.6 8l.8 3.4l2.1 10.6l.4 4l-.1 2l-.4 2l-2.4 3l-.6 1.9l-.6 1.1l-.4 1.7l-.7 1.3l-.3 1.4l-.7 1.6l-.3 1.2l-.8 1.8l-.2 1l-.6 1l-.4 1.7l-.6 1.3l-.4 3.5l-.8 3.5l-.2 4.3l-.9 1.7l-1.1 1l-1.2 0l-1.2-1l-.6-.8l-.3-1.2l-.2-3l-.5-2.1l-.4-3.9l-.7-3l-.4-1l-.5-.9l-.6-2.1l-.4-.7l-.3-1.3l-.7-1.4l-.4-1.6l-.6-1.2l-.4-1.8l-.6-1l-.5-2l-.6-1l-1.9-2.4l-.7-1.6l-.2-1l-.1-2l.9-6l2-10l4.5-15l2.8-14l.8-6.1l1-5.5zM644.4 163.5l.1-.2l.2 .2l-.1 2l-2.1 6.2l-.5 .8l-.5 1.6l-1.6 3.4l-.4 1.2l-.5 .8l-2.5 6.1l-1.4 2.9l-1.6 4l-1.5 3l-.5 1.5l-2.6 5.5l-.4 1.2l-.5 .8l-3.4 9l-2.9 5l-11.7 0l-.5-.6l-2-3.4l-1-2.2l-.5-1.8l-.5-.8l-1.5-4.2l-.5-.9l-3.5-8.1l-.5-.8l-2.5-6.2l-.5-.7l-.4-1.3l-1.6-3.3l-.6-1.7l-.4-.6l-.5-1.4l-.5-.8l-.4-1.2l-.6-1.1l-1.5-3.9l-.5-.8l-2.2-6.2l-.4-2l.6-.9l2 2.8l4 6.7l1.4 3.4l.6 .8l.4 1.2l.6 .9l.4 1.1l.6 .9l.3 1.1l.7 1.1l.3 .9l2.7 5.4l.5 1.6l.5 .7l.4 1.3l.6 1.1l.4 1.9l.6 1l.3 2l.7 1.6l.5 2.4l.5 1.2l.3 1.8l1.8 4l.7 1l2.4 2l1.3 2l1.5 1.8l1 .9l1-.3l1.3-1.4l1.7-2.5l1-1.1l1.9-1.4l.7-1l2-5l.4-2.2l.7-1.8l.3-1.9l.6-1.1l.4-2.2l.5-.8l.5-1.9l.6-1.1l.4-1.3l1.4-2.7l.6-1.5l.4-.5l2.6-5.9l.7-1.1l.3-1l.7-1l.3-1.1l.6-.9l.4-1.2l.6-.8l.4-1.2l4-6.5l1-1.5z"/>
<path fill="#ffffff" d="M615.2 94.5l.3-.8l1 .7l.6 3.1l.4 1l.4 4l.6 2.7l.4 3.3l.6 1.7l.4 3.3l.6 1.6l.4 3.4l.6 1.3l.5 2.7l.5 .9l.3 2.1l.7 1.3l.3 1.7l.7 1.4l.6 2.6l.4 .7l.5 3.3l.5 1.4l.4 3.6l.6 1.5l.4 3.5l.6 1.9l.1 2.1l-.1 3.2l-2 2.8l-.9 1l-.5 1l-.6 2.1l-.8 1.9l-.2 1l-.6 1l-.4 1.7l-.7 1.3l-.3 1.4l-.8 1.6l-.2 1.2l-.8 1.8l-.9 4l-.3 3.2l-.5 1.8l-.2 3l-.3 1.3l-.5 .7l-1.5 .6l-1-.6l-1-2l-.2-5l-.8-3.5l-.2-2.5l-.8-1.8l-.3-1.2l-.7-1.5l-.3-1.5l-.7-1.2l-.5-1.8l-.5-.9l-.2-1.1l-.8-1.8l-.2-1.2l-.8-1.6l-.4-1.4l-2.6-3l-.3-3l.3-5.3l.6-1.7l.4-3.5l.6-1.5l.4-3.6l.5-1.4l.5-2.6l.7-1.4l.3-1.8l.6-1.2l.4-2l.6-1l.4-2.6l.7-1.4l.3-2.4l.6-1.6l.4-3.4l.6-1.6l.4-3.2l.6-1.8l.4-4.2l.5-1.8l.5-4zM587.5 164.5l1 .9l.4 1.1l1.6 2l.3 1l.7 .7l.6 1.3l.4 .4l.2 .6l.8 1.2l.2 .8l.4 1l.4 .4l.5 1.6l.5 .5l.4 1.5l.6 .6l.4 1.4l.6 .7l.3 1.3l.7 .8l.3 1.2l.7 .8l.3 1.2l.7 .9l.2 1.1l.8 1l.5 2l.5 .6l.3 1.4l.7 1.2l.2 1.8l.8 1.9l.3 2.1l.7 1.6l.4 2.4l.6 1.2l.1 .8l.9 1.6l.5 1.4l.6 1l.9 .8l.8 .2l1.2 1l.3 1l1.7 1.9l.6 1.1l1.1 1l-4.9 0l-.8-1.3l-.2-.7l-.8-.9l-.3-1.1l-.7-.7l-.3-1.3l-.7-1.1l-.4-1.9l-.6-.7l-.2-1.3l-.5-1l-.3-.3l-.4-1.7l-.6-.7l-.3-1.3l-.7-.8l-.2-1.2l-.8-1.1l-.2-.9l-.4-1l-.4-.4l-.4-1.6l-.6-.6l-.3-1.4l-.7-.8l-.2-1.2l-.8-1.1l-.5-1.9l-.5-.5l-.4-1.5l-.6-.7l-.3-1.3l-.7-.9l-.2-1.1l-.4-1l-.4-.4l-.4-1.6l-.6-.6l-.3-1.4l-.7-.8l-.2-1.2l-.8-1.2l-.5-1.8l-.5-.6l-.2-1.4l-.4-1l-.4-.4l-.3-1.6l-.7-1.6zM643.3 165.5l.2-.4l.4 .4l-.4 2.4l-.5 .6l-.5 2.3l-.5 .7l-.5 1.9l-.8 1.1l-.2 1.2l-.7 .8l-.3 1.5l-.5 .5l-.5 1.7l-.8 1.3l-.2 1.1l-.7 .9l-.3 1.3l-.6 .7l-.4 1.6l-.4 .4l-.4 1l-.2 1l-.7 1l-.3 1.2l-.7 .8l-.3 1.5l-.5 .5l-.5 1.7l-.8 1.3l-.2 1l-.7 1l-.3 1.2l-.7 .8l-.3 1.4l-.5 .6l-.5 1.7l-.3 .3l-.5 1l-.2 1.3l-.6 .7l-.4 1.9l-.7 1.1l-.3 1.4l-.5 .6l-.5 1.3l-.7 .7l-.3 1.1l-.8 .9l-.5 1l-3.7 0l-1.5 0l.5-.1l1.8-1.9l.7-1l.5-1.1l1-1.1l2.5-1.8l1.1-2l.4-1.2l.5-.8l.5-2.2l.7-1.8l.3-1.9l.8-2.1l.2-1.5l.7-1.5l.3-2l.7-1l.3-1.4l.5-.6l.5-1.8l.8-1.2l.2-1l.8-1l.2-1.1l.8-.9l.2-1.1l.7-.9l.3-1.2l.7-.8l.3-1.3l.7-.7l.3-1.4l.6-.6l.4-1.5l.5-.5l.5-1.5l.5-.5l.5-1.3l.7-.7l.3-1.1l1.5-1.9l.5-1.1z"/></g></g>
<rect x="549.7" y="42.2" width="132.3" height="173.7" fill="url(#xh)"/>
<text x=".2" y="13.1" text-anchor="start" font-size="17.8px" fill="#000">a</text>
<text x="190.4" y="13.1" text-anchor="start" font-size="17.8px" fill="#000">b</text>
<text x="384.8" y="13.1" text-anchor="start" font-size="17.8px" fill="#000">c</text>
<text x="536.3" y="13.1" text-anchor="start" font-size="17.8px" fill="#000">d</text>
<rect x="74.9" y="26.3" width="85" height="12.3" fill="url(#cb)"/>
<rect x="74.9" y="26.3" width="85" height="12.3" fill="none" stroke="#7a7a7a" stroke-width="0.6"/>
<path d="M82.2 26.3v-1.3" stroke="#555" stroke-width="0.6"/>
<path d="M117.5 26.3v-1.3" stroke="#555" stroke-width="0.6"/>
<path d="M152.9 26.3v-1.3" stroke="#555" stroke-width="0.6"/>
<text x="82.2" y="18.1" text-anchor="middle" font-size="13.2px">-0.05</text>
<text x="117.5" y="18.1" text-anchor="middle" font-size="13.2px">0</text>
<text x="152.9" y="18.1" text-anchor="middle" font-size="13.2px">0.05</text>
<rect x="228.9" y="26.2" width="84.9" height="12.8" fill="url(#cb)"/>
<rect x="228.9" y="26.2" width="84.9" height="12.8" fill="none" stroke="#7a7a7a" stroke-width="0.6"/>
<path d="M253.5 26.2v-1.3" stroke="#555" stroke-width="0.6"/>
<path d="M277.6 26.2v-1.3" stroke="#555" stroke-width="0.6"/>
<path d="M301.7 26.2v-1.3" stroke="#555" stroke-width="0.6"/>
<text x="229.2" y="18.1" text-anchor="middle" font-size="13.2px">-0.04</text>
<text x="277.3" y="18.1" text-anchor="middle" font-size="13.2px">0</text>
<rect x="421.7" y="26.4" width="84.8" height="12.5" fill="url(#cb)"/>
<rect x="421.7" y="26.4" width="84.8" height="12.5" fill="none" stroke="#7a7a7a" stroke-width="0.6"/>
<path d="M429 26.4v-1.3" stroke="#555" stroke-width="0.6"/>
<path d="M464.1 26.4v-1.3" stroke="#555" stroke-width="0.6"/>
<path d="M499.3 26.4v-1.3" stroke="#555" stroke-width="0.6"/>
<text x="428.8" y="18.1" text-anchor="middle" font-size="13.2px">-0.05</text>
<text x="464.1" y="18.1" text-anchor="middle" font-size="13.2px">0</text>
<text x="499.3" y="18.1" text-anchor="middle" font-size="13.2px">0.05</text>
<rect x="573.4" y="26.2" width="85.5" height="12.8" fill="url(#cb)"/>
<rect x="573.4" y="26.2" width="85.5" height="12.8" fill="none" stroke="#7a7a7a" stroke-width="0.6"/>
<path d="M599.7 26.2v-1.3" stroke="#555" stroke-width="0.6"/>
<path d="M625.8 26.2v-1.3" stroke="#555" stroke-width="0.6"/>
<path d="M652.2 26.2v-1.3" stroke="#555" stroke-width="0.6"/>
<text x="573.6" y="18.1" text-anchor="middle" font-size="13.2px">-0.04</text>
<text x="625.8" y="18.1" text-anchor="middle" font-size="13.2px">0</text>
<path d="M90 44.6V189.9" stroke="#fff" stroke-width="1.1" stroke-dasharray="7.1 3.6" fill="none"/>
<path d="M149.8 44.6V189.9" stroke="#fff" stroke-width="1.1" stroke-dasharray="7.1 3.6" fill="none"/>
<rect x="54.5" y="42.4" width="131.9" height="196.8" fill="none" stroke="#262626" stroke-width="1.25"/>
<path d="M60.1 239.2v2.9M60.1 42.4v-2.9M90 239.2v2.9M90 42.4v-2.9M119.9 239.2v2.9M119.9 42.4v-2.9M149.8 239.2v2.9M149.8 42.4v-2.9M179.7 239.2v2.9M179.7 42.4v-2.9M54.5 239.4h-2.9M186.4 239.4h2.9M54.5 191.4h-2.9M186.4 191.4h2.9M54.5 143.4h-2.9M186.4 143.4h2.9M54.5 95.4h-2.9M186.4 95.4h2.9M54.5 47.4h-2.9M186.4 47.4h2.9" stroke="#262626" stroke-width="1.1" fill="none"/>
<text x="59.6" y="260.4" text-anchor="middle" font-size="14px">-2</text>
<text x="89.5" y="260.4" text-anchor="middle" font-size="14px">-1</text>
<text x="119.9" y="260.4" text-anchor="middle" font-size="14px">0</text>
<text x="149.8" y="260.4" text-anchor="middle" font-size="14px">1</text>
<text x="179.7" y="260.4" text-anchor="middle" font-size="14px">2</text>
<text y="277" font-family="Liberation Serif, serif" font-size="14.8px" fill="#2e2e2e"><tspan font-style="italic" x="99.8">x</tspan><tspan font-style="italic" x="108.3" dy="2.3" font-size="19px">/</tspan><tspan font-style="italic" x="115.8" dy="-2.3">R</tspan><tspan x="127.6 133.6" dy="2.5" font-size="10px">TF</tspan></text>
<text x="47.4" y="245.3" text-anchor="end" font-size="14px">-0.2</text>
<text x="47.4" y="197.3" text-anchor="end" font-size="14px">0</text>
<text x="47.4" y="149.3" text-anchor="end" font-size="14px">0.2</text>
<text x="47.4" y="101.3" text-anchor="end" font-size="14px">0.4</text>
<text x="47.4" y="53.3" text-anchor="end" font-size="14px">0.6</text>
<path d="M240.55 44.4V191.2" stroke="#fff" stroke-width="1.1" stroke-dasharray="7.1 3.6" fill="none"/>
<path d="M301.25 44.4V191.2" stroke="#fff" stroke-width="1.1" stroke-dasharray="7.1 3.6" fill="none"/>
<path d="M204.4 191.2H337.3" stroke="#fff" stroke-width="1.1"/>
<rect x="204.4" y="42.2" width="132.9" height="197" fill="none" stroke="#262626" stroke-width="1.25"/>
<path d="M210.2 239.2v2.9M210.2 42.2v-2.9M240.55 239.2v2.9M240.55 42.2v-2.9M270.9 239.2v2.9M270.9 42.2v-2.9M301.25 239.2v2.9M301.25 42.2v-2.9M331.6 239.2v2.9M331.6 42.2v-2.9M204.4 239.2h-2.9M337.3 239.2h2.9M204.4 191.2h-2.9M337.3 191.2h2.9M204.4 143.2h-2.9M337.3 143.2h2.9M204.4 95.2h-2.9M337.3 95.2h2.9M204.4 47.2h-2.9M337.3 47.2h2.9" stroke="#262626" stroke-width="1.1" fill="none"/>
<text x="209.7" y="260.4" text-anchor="middle" font-size="14px">-2</text>
<text x="240.05" y="260.4" text-anchor="middle" font-size="14px">-1</text>
<text x="270.9" y="260.4" text-anchor="middle" font-size="14px">0</text>
<text x="301.25" y="260.4" text-anchor="middle" font-size="14px">1</text>
<text x="331.6" y="260.4" text-anchor="middle" font-size="14px">2</text>
<text y="277" font-family="Liberation Serif, serif" font-size="14.8px" fill="#2e2e2e"><tspan font-style="italic" x="250.8">x</tspan><tspan font-style="italic" x="259.3" dy="2.3" font-size="19px">/</tspan><tspan font-style="italic" x="266.8" dy="-2.3">R</tspan><tspan x="278.6 284.6" dy="2.5" font-size="10px">TF</tspan></text>
<path d="M433.45 44.6V189.7" stroke="#fff" stroke-width="1.1" stroke-dasharray="7.1 3.6" fill="none"/>
<path d="M493.55 44.6V189.7" stroke="#fff" stroke-width="1.1" stroke-dasharray="7.1 3.6" fill="none"/>
<rect x="397.3" y="42.4" width="133.1" height="196.8" fill="none" stroke="#262626" stroke-width="1.25"/>
<path d="M403.4 239.2v2.9M403.4 42.4v-2.9M433.45 239.2v2.9M433.45 42.4v-2.9M463.5 239.2v2.9M463.5 42.4v-2.9M493.55 239.2v2.9M493.55 42.4v-2.9M523.6 239.2v2.9M523.6 42.4v-2.9M397.3 239.4h-2.9M530.4 239.4h2.9M397.3 191.4h-2.9M530.4 191.4h2.9M397.3 143.4h-2.9M530.4 143.4h2.9M397.3 95.4h-2.9M530.4 95.4h2.9M397.3 47.4h-2.9M530.4 47.4h2.9" stroke="#262626" stroke-width="1.1" fill="none"/>
<text x="402.9" y="260.4" text-anchor="middle" font-size="14px">-2</text>
<text x="432.95" y="260.4" text-anchor="middle" font-size="14px">-1</text>
<text x="463.5" y="260.4" text-anchor="middle" font-size="14px">0</text>
<text x="493.55" y="260.4" text-anchor="middle" font-size="14px">1</text>
<text x="523.6" y="260.4" text-anchor="middle" font-size="14px">2</text>
<text y="277" font-family="Liberation Serif, serif" font-size="14.8px" fill="#2e2e2e"><tspan font-style="italic" x="443.4">x</tspan><tspan font-style="italic" x="451.9" dy="2.3" font-size="19px">/</tspan><tspan font-style="italic" x="459.4" dy="-2.3">R</tspan><tspan x="471.2 477.2" dy="2.5" font-size="10px">TF</tspan></text>
<path d="M585.85 44.4V191.1" stroke="#fff" stroke-width="1.1" stroke-dasharray="7.1 3.6" fill="none"/>
<path d="M645.75 44.4V191.1" stroke="#fff" stroke-width="1.1" stroke-dasharray="7.1 3.6" fill="none"/>
<path d="M549.7 191.1H682" stroke="#fff" stroke-width="1.1"/>
<rect x="549.7" y="42.2" width="132.3" height="196.8" fill="none" stroke="#262626" stroke-width="1.25"/>
<path d="M555.9 239v2.9M555.9 42.2v-2.9M585.85 239v2.9M585.85 42.2v-2.9M615.8 239v2.9M615.8 42.2v-2.9M645.75 239v2.9M645.75 42.2v-2.9M675.7 239v2.9M675.7 42.2v-2.9M549.7 239.1h-2.9M682 239.1h2.9M549.7 191.1h-2.9M682 191.1h2.9M549.7 143.1h-2.9M682 143.1h2.9M549.7 95.1h-2.9M682 95.1h2.9M549.7 47.1h-2.9M682 47.1h2.9" stroke="#262626" stroke-width="1.1" fill="none"/>
<text x="555.4" y="260.4" text-anchor="middle" font-size="14px">-2</text>
<text x="585.35" y="260.4" text-anchor="middle" font-size="14px">-1</text>
<text x="615.8" y="260.4" text-anchor="middle" font-size="14px">0</text>
<text x="645.75" y="260.4" text-anchor="middle" font-size="14px">1</text>
<text x="675.7" y="260.4" text-anchor="middle" font-size="14px">2</text>
<text y="277" font-family="Liberation Serif, serif" font-size="14.8px" fill="#2e2e2e"><tspan font-style="italic" x="595.7">x</tspan><tspan font-style="italic" x="604.2" dy="2.3" font-size="19px">/</tspan><tspan font-style="italic" x="611.7" dy="-2.3">R</tspan><tspan x="623.5 629.5" dy="2.5" font-size="10px">TF</tspan></text>
<text transform="translate(15.3 163.6) rotate(-90)" font-family="Liberation Serif, serif" font-size="14.6px" fill="#2e2e2e"><tspan font-style="italic" x=".2 4.8">t&#969;</tspan><tspan x="14.2" dy="2.6" font-size="10.2px" font-style="italic">x</tspan><tspan x="21" dy="-0.4" font-size="19px" font-style="italic">/</tspan><tspan x="27.8" dy="-2.2" font-size="14.2px">2</tspan><tspan x="35.2" font-style="italic">&#960;</tspan></text>
<path d="M88.9 189.4L80.42 179.03" stroke="#ff0d0d" stroke-width="1.4" fill="none"/><path d="M76.3 174L82.63 177.87L78.84 180.97z" fill="#ff0d0d"/>
<path d="M97.3 189.4L85.22 172.76" stroke="#ff0d0d" stroke-width="1.4" fill="none"/><path d="M81.4 167.5L87.5 171.73L83.53 174.6z" fill="#ff0d0d"/>
<path d="M109.1 189.4L93.44 166.28" stroke="#ff0d0d" stroke-width="1.4" fill="none"/><path d="M89.8 160.9L95.75 165.32L91.7 168.07z" fill="#ff0d0d"/>
<path d="M117.8 189.4L106.25 166.69" stroke="#f5a800" stroke-width="1.4" fill="none"/><path d="M103.3 160.9L108.66 166.03L104.29 168.25z" fill="#f5a800"/>
<path d="M121.7 189.4L133.25 166.69" stroke="#f5a800" stroke-width="1.4" fill="none"/><path d="M136.2 160.9L135.21 168.25L130.84 166.03z" fill="#f5a800"/>
<path d="M129.7 189.4L145.97 166.22" stroke="#ff0d0d" stroke-width="1.4" fill="none"/><path d="M149.7 160.9L147.68 168.04L143.67 165.22z" fill="#ff0d0d"/>
<path d="M138 189.4L151.48 172.3" stroke="#ff0d0d" stroke-width="1.4" fill="none"/><path d="M155.5 167.2L153.09 174.21L149.24 171.18z" fill="#ff0d0d"/>
<path d="M147.2 189.4L157.21 178.49" stroke="#ff0d0d" stroke-width="1.4" fill="none"/><path d="M161.6 173.7L158.67 180.51L155.06 177.2z" fill="#ff0d0d"/>
<path d="M266.7 192.2L256.01 166.69" stroke="#f5a800" stroke-width="1.4" fill="none"/><path d="M253.5 160.7L258.47 166.21L253.95 168.1z" fill="#f5a800"/>
<path d="M277.1 192.2L288.21 166.66" stroke="#f5a800" stroke-width="1.4" fill="none"/><path d="M290.8 160.7L290.25 168.1L285.76 166.14z" fill="#f5a800"/>
<path d="M265.9 205.9L258.66 192.33" stroke="#ff0d0d" stroke-width="1.4" fill="none"/><path d="M255.6 186.6L261.06 191.62L256.73 193.93z" fill="#ff0d0d"/>
<path d="M277.7 205.9L285.02 192.32" stroke="#ff0d0d" stroke-width="1.4" fill="none"/><path d="M288.1 186.6L286.94 193.92L282.62 191.6z" fill="#ff0d0d"/>
<path d="M262.2 217.7L255.05 205.33" stroke="#ff0d0d" stroke-width="1.4" fill="none"/><path d="M251.8 199.7L257.42 204.54L253.18 206.99z" fill="#ff0d0d"/>
<path d="M281.5 217.7L288.12 205.42" stroke="#ff0d0d" stroke-width="1.4" fill="none"/><path d="M291.2 199.7L290.04 207.02L285.72 204.7z" fill="#ff0d0d"/>
<path d="M260.1 235.8L252.98 223.34" stroke="#ff0d0d" stroke-width="1.4" fill="none"/><path d="M249.75 217.7L255.35 222.56L251.1 224.99z" fill="#ff0d0d"/>
<path d="M284 235.8L291.09 223.35" stroke="#ff0d0d" stroke-width="1.4" fill="none"/><path d="M294.3 217.7L292.97 225L288.71 222.57z" fill="#ff0d0d"/>
<path d="M458.8 174.1L448.48 146.59" stroke="#f5a800" stroke-width="1.4" fill="none"/><path d="M446.2 140.5L450.95 146.19L446.36 147.91z" fill="#f5a800"/>
<path d="M469.8 174.1L480.45 146.56" stroke="#f5a800" stroke-width="1.4" fill="none"/><path d="M482.8 140.5L482.56 147.91L477.99 146.14z" fill="#f5a800"/>
<path d="M458.8 183.2L452.64 173.32" stroke="#000000" stroke-width="1.4" fill="none"/><path d="M449.2 167.8L454.98 172.44L450.82 175.04z" fill="#000000"/>
<path d="M469.4 183.2L475.71 173.28" stroke="#000000" stroke-width="1.4" fill="none"/><path d="M479.2 167.8L477.51 175.02L473.37 172.39z" fill="#000000"/>
<path d="M453 188.8L443.93 174.76" stroke="#ff0d0d" stroke-width="1.4" fill="none"/><path d="M440.4 169.3L446.26 173.85L442.14 176.51z" fill="#ff0d0d"/>
<path d="M476.1 188.8L486.61 174.18" stroke="#ff0d0d" stroke-width="1.4" fill="none"/><path d="M490.4 168.9L488.3 176.01L484.33 173.15z" fill="#ff0d0d"/>
<path d="M438.7 189.5L428.32 174.63" stroke="#ff0d0d" stroke-width="1.4" fill="none"/><path d="M424.6 169.3L430.62 173.64L426.6 176.44z" fill="#ff0d0d"/>
<path d="M489.1 188.8L499.19 176.95" stroke="#ff0d0d" stroke-width="1.4" fill="none"/><path d="M503.4 172L500.73 178.92L497 175.74z" fill="#ff0d0d"/>
<path d="M597.5 150.5L594 130.21" stroke="#f5a800" stroke-width="1.4" fill="none"/><path d="M592.9 123.8L596.5 130.28L591.67 131.11z" fill="#f5a800"/>
<path d="M635.6 150.5L639.1 130.21" stroke="#f5a800" stroke-width="1.4" fill="none"/><path d="M640.2 123.8L641.43 131.11L636.6 130.28z" fill="#f5a800"/>
<path d="M603.8 183.3L598.18 170.92" stroke="#ff0d0d" stroke-width="1.4" fill="none"/><path d="M595.5 165L600.62 170.36L596.16 172.39z" fill="#ff0d0d"/>
<path d="M628.9 183.3L634.91 169.46" stroke="#ff0d0d" stroke-width="1.4" fill="none"/><path d="M637.5 163.5L636.96 170.9L632.46 168.94z" fill="#ff0d0d"/>
<path d="M601.6 198L593.32 182.9" stroke="#ff0d0d" stroke-width="1.4" fill="none"/><path d="M590.2 177.2L595.71 182.16L591.42 184.52z" fill="#ff0d0d"/>
<path d="M632.4 198L640.5 181.06" stroke="#ff0d0d" stroke-width="1.4" fill="none"/><path d="M643.3 175.2L642.49 182.57L638.07 180.46z" fill="#ff0d0d"/>
<rect x="504.8" y="192.8" width="87.4" height="97.2" fill="#fff"/>
<g transform="translate(505.8 195.68) scale(2.0333 3.76)" fill="none" stroke-width="1" shape-rendering="crispEdges" >
<path stroke="#00000c" d="M13 9h1M15 9h1M12 10h4M18 10h1M15 11h1M18 11h1M20 11h2M12 12h1M14 12h3M21 12h3M15 13h2M18 13h6M13 14h1M16 14h1M19 14h1M22 14h1M14 15h1M17 15h4M24 15h3M14 16h1M16 16h2M25 16h1M14 17h1M17 17h2M21 17h1M23 17h4M14 18h2M19 18h6M26 18h2M16 19h1M18 19h1M20 19h3M25 19h1"/>
<path stroke="#00001d" d="M14 9h1M16 10h2M23 10h1M12 11h3M16 11h2M19 11h1M13 12h1M17 12h4M24 12h1M13 13h2M17 13h1M24 13h1M14 14h2M17 14h1M20 14h2M23 14h3M15 15h2M22 15h2M13 16h1M15 16h1M18 16h7M26 16h1M15 17h2M20 17h1M22 17h1M27 17h2M16 18h3M25 18h1M29 18h1M14 19h2M17 19h1M19 19h1M24 19h1M26 19h4"/>
<path stroke="#00002e" d="M11 8h3M11 9h2M16 9h1M19 10h1M24 11h1M12 13h1M25 13h1M18 14h1M26 14h1M13 15h1M21 15h1M27 16h1M13 17h1M19 17h1M28 18h1M23 19h1"/>
<path stroke="#00003f" d="M23 9h1M22 11h2M12 14h1M27 15h1M28 16h1M13 18h1M13 19h1M30 19h1"/>
<path stroke="#000050" d="M22 9h1M11 10h1M26 13h1M12 15h1M29 17h1"/>
<path stroke="#000061" d="M22 7h1M22 8h2M24 10h1M11 11h1M25 12h1"/>
<path stroke="#000070" d="M10 8h1M14 8h1M22 10h1M25 11h1M11 12h1M12 16h1M30 18h1"/>
<path stroke="#00007d" d="M22 6h1M23 7h1M17 9h1M20 10h1M27 14h1"/>
<path stroke="#00008a" d="M21 6h1M11 7h1M10 9h1M24 9h1M11 13h1M28 15h1M12 17h1"/>
<path stroke="#000097" d="M22 5h1M10 7h1M12 7h2M24 8h1M12 18h1"/>
<path stroke="#0007a4" d="M14 4h1M21 4h1M13 5h1M21 5h1M13 6h1M20 6h1M23 6h1M21 7h1M21 8h1M21 9h1M10 10h1M21 10h1M11 14h1M29 16h1"/>
<path stroke="#0021b0" d="M21 3h1M20 4h1M22 4h1M14 5h1M20 5h1M14 6h1M25 10h1M26 12h1M30 17h1M12 19h1M31 19h1"/>
<path stroke="#003abd" d="M20 1h1M19 2h3M14 3h2M20 3h1M22 3h1M23 5h1M14 7h1M20 7h1M24 7h1M25 9h1M26 11h1M27 13h1M11 15h1M29 15h1"/>
<path stroke="#0053ca" d="M18 0h4M24 0h1M18 1h2M21 1h1M22 2h1M25 2h1M19 3h1M13 4h1M15 4h1M19 4h1M23 4h1M15 5h1M18 5h2M24 5h2M12 6h1M19 6h1M24 6h1M25 7h1M15 8h1M17 8h1M20 8h1M25 8h1M9 9h1M18 9h1M20 9h1M26 9h1M10 11h1M27 11h1M10 12h1M27 12h1M28 14h2"/>
<path stroke="#006ed6" d="M9 0h1M17 0h1M22 0h2M25 0h2M13 1h1M16 1h2M22 1h4M7 2h1M12 2h1M14 2h3M18 2h1M24 2h1M13 3h1M16 3h3M23 3h2M27 3h1M16 4h3M25 4h3M12 5h1M16 5h2M26 5h1M11 6h1M17 6h1M25 6h3M7 7h1M15 7h1M19 7h1M26 7h3M9 8h1M18 8h2M26 8h1M27 9h2M7 10h1M26 10h1M28 10h1M9 11h1M28 11h1M28 12h2M9 13h2M28 13h2M4 14h1M10 14h1M30 14h1M10 15h1M7 16h1M10 16h2M7 17h1M11 17h1M9 18h1M31 18h1M7 19h1M9 19h3"/>
<path stroke="#008be3" d="M5 0h4M11 0h6M27 0h1M1 1h1M4 1h1M6 1h2M9 1h4M14 1h2M26 1h2M1 2h1M3 2h1M8 2h2M11 2h1M13 2h1M17 2h1M23 2h1M26 2h2M4 3h2M7 3h3M11 3h2M25 3h2M28 3h1M0 4h1M6 4h7M24 4h1M28 4h1M1 5h1M4 5h1M7 5h5M27 5h2M5 6h2M8 6h2M15 6h2M18 6h1M0 7h1M3 7h1M5 7h2M8 7h1M16 7h3M6 8h3M16 8h1M27 8h2M5 9h4M19 9h1M1 10h1M4 10h1M6 10h1M8 10h1M27 10h1M29 10h1M3 11h1M6 11h3M29 11h1M7 12h3M30 12h1M5 13h2M8 13h1M30 13h1M1 14h1M3 14h1M7 14h3M0 15h1M5 15h5M30 15h1M0 16h2M3 16h1M5 16h1M9 16h1M30 16h1M0 17h1M6 17h1M8 17h3M31 17h1M1 18h1M6 18h3M10 18h2M0 19h2M5 19h1M8 19h1"/>
<path stroke="#00a7ef" d="M0 0h1M3 0h2M10 0h1M28 0h1M0 1h1M2 1h2M5 1h1M8 1h1M0 2h1M2 2h1M4 2h3M10 2h1M0 3h4M6 3h1M10 3h1M1 4h5M0 5h1M3 5h1M5 5h2M0 6h2M4 6h1M7 6h1M10 6h1M28 6h2M2 7h1M4 7h1M9 7h1M29 7h1M0 8h1M2 8h2M5 8h1M29 8h1M0 9h2M3 9h2M29 9h1M0 10h1M2 10h2M5 10h1M9 10h1M0 11h3M4 11h2M30 11h1M0 12h3M4 12h3M0 13h5M7 13h1M0 14h1M2 14h1M5 14h2M1 15h4M31 15h1M2 16h1M4 16h1M6 16h1M8 16h1M31 16h1M1 17h1M3 17h1M5 17h1M0 18h1M3 18h3M4 19h1M6 19h1M32 19h1"/>
<path stroke="#00c4fc" d="M1 0h2M28 1h1M28 2h1M2 5h1M29 5h1M2 6h2M1 7h1M1 8h1M4 8h1M30 8h1M2 9h1M30 9h1M30 10h1M3 12h1M31 12h1M31 13h1M31 14h1M32 16h1M2 17h1M4 17h1M2 18h1M32 18h1M2 19h2"/>
<path stroke="#13d0ff" d="M29 2h1M29 4h2M30 6h1M31 10h1M32 14h1M32 17h1M33 18h1M33 19h1"/>
<path stroke="#2dd5ff" d="M29 0h1M29 1h1M30 2h1M29 3h1M30 5h1M30 7h1M32 7h1M31 8h1M31 9h1M31 11h1M32 15h1"/>
<path stroke="#48dbff" d="M30 1h1M31 2h1M30 3h1M31 5h2M31 6h2M31 7h1M32 8h1M32 10h1M32 11h1M32 12h1M32 13h2M33 14h1M33 16h2M33 17h2M34 18h1M34 19h1"/>
<path stroke="#62e0ff" d="M30 0h2M31 1h1M31 4h1M32 9h1M33 11h2M33 12h1M34 14h1M33 15h2M35 17h1M35 18h1"/>
<path stroke="#7ce5ff" d="M32 0h1M31 3h1M33 3h1M32 4h2M33 5h1M33 6h1M33 7h2M33 8h1M33 9h1M33 10h1M34 12h1M34 13h1M36 13h1M35 14h1M35 15h1M35 16h1M36 17h1M35 19h1"/>
<path stroke="#96eaff" d="M33 0h1M32 1h1M34 1h1M32 2h1M34 2h1M32 3h1M34 5h1M34 8h1M34 9h1M34 10h2M35 12h2M35 13h1M36 14h1M37 15h1M36 16h1M36 18h2M36 19h1"/>
<path stroke="#b1f0ff" d="M33 1h1M33 2h1M35 2h1M34 3h1M34 4h1M35 5h1M34 6h2M35 7h1M35 8h1M35 9h2M36 10h1M35 11h2M37 12h1M36 15h1M37 16h2M37 17h1M38 18h1M37 19h2"/>
<path stroke="#cbf5ff" d="M34 0h2M35 1h1M35 3h1M35 4h1M36 6h1M36 7h1M36 8h2M37 9h1M37 10h2M37 11h1M37 13h1M37 14h2M38 15h2M39 16h1M38 17h1M39 18h1"/>
<path stroke="#e5faff" d="M36 0h1M36 1h1M38 1h1M40 1h1M36 2h2M36 3h1M40 3h1M36 4h2M36 5h1M37 6h1M38 9h1M41 9h1M40 10h1M38 11h3M38 12h2M38 13h2M41 13h1M39 14h1M40 16h1M39 17h2M41 18h1M40 19h1"/>
<path stroke="#ffffff" d="M37 0h5M37 1h1M39 1h1M41 1h1M38 2h4M37 3h3M41 3h1M38 4h4M37 5h5M38 6h4M37 7h5M38 8h4M39 9h2M39 10h1M41 10h1M41 11h1M40 12h2M40 13h1M40 14h2M40 15h2M41 16h1M41 17h1M40 18h1M39 19h1M41 19h1"/>
</g>
<path d="M505.8 193.8L586 145.3M591.2 269L607.5 164" stroke="#f01010" stroke-width="1.3" fill="none"/>
<rect x="586" y="145.3" width="21.5" height="18.7" fill="none" stroke="#f01010" stroke-width="1.3"/>
<rect x="505.8" y="193.8" width="85.4" height="75.2" fill="none" stroke="#f01010" stroke-width="2"/>
<path d="M546.6 230.6L536.65 204.07" stroke="#000000" stroke-width="1.4" fill="none"/><path d="M534.3 197.8L539.17 203.66L534.49 205.42z" fill="#000000"/>
<path d="M548 263.6L537.95 243.96" stroke="#ff0d0d" stroke-width="1.4" fill="none"/><path d="M534.9 238L540.41 243.27L535.95 245.55z" fill="#ff0d0d"/>
<path d="M562.75 262L556.25 237.97" stroke="#f5a800" stroke-width="1.4" fill="none"/><path d="M554.5 231.5L558.79 237.8L553.97 239.1z" fill="#f5a800"/>
<rect x="509.1" y="271.5" width="80.8" height="7" fill="url(#cb)"/>
<rect x="509.1" y="271.5" width="80.8" height="7" fill="none" stroke="#7a7a7a" stroke-width="0.5"/>
<text x="513" y="290.4" text-anchor="middle" font-size="7px">-0.05</text>
<text x="546" y="290.4" text-anchor="middle" font-size="7px">0</text>
<text x="579.4" y="290.4" text-anchor="middle" font-size="7px">0.05</text>
<path d="M54.4 343.59L55.8 341.51L57.2 344.2L58.6 344.35L60 344.41L61.4 344.37L62.8 342.36L64.2 343.35L65.6 342.64L67 346.29L68.4 343.96L69.8 342.36L71.2 341.22L72.6 339.57L74 337.85L75.4 337.47L76.8 337.8L78.2 336.68L79.6 336.69L81 334.64L82.4 333.31L83.8 333.42L85.2 332.48L86.6 332.94L88 334.99L89.4 337.84L90.8 341.82L92.2 342.57L93.6 344.44L95 347.46L96.4 347.83L97.8 346.02L99.2 344.39L100.6 339.32L102 333.72L103.4 330.73L104.8 324.1L106.2 328.09L107.6 329.76L109 332.27L110.4 338.1L111.8 343.37L113.2 347.17L114.6 350.65L116 354.28L117.4 357.25L118.8 360.66L120.2 362.32L121.6 363.75L123 364.57L124.4 359.27L125.8 352.22L127.2 347.39L128.6 342.15L130 337.44L131.4 334.63L132.8 335.46L134.2 335.49L135.6 340.6L137 343.94L138.4 344.66L139.8 348.29L141.2 349.54L142.6 350.4L144 347.41L145.4 344.59L146.8 343.07L148.2 340.78L149.6 334.49L151 333.33L152.4 333.33L153.8 331.66L155.2 334L156.6 332.75L158 335.05L159.4 335.78L160.8 339.76L162.2 340.83L163.6 341.94L165 340.91L166.4 344.34L167.8 344.78L169.2 345.21L170.6 346.04L172 345.81L173.4 344.76L174.8 344.13L176.2 343.86L177.6 345.87L179 344.11L180.4 344.81L181.8 345.64L183.2 345.63L184.6 345.51L186 343.18" stroke="#1d5c96" stroke-width="1.35" fill="none" stroke-linejoin="round"/>
<rect x="54.4" y="294.5" width="131.7" height="99.7" fill="none" stroke="#262626" stroke-width="1.25"/>
<text x="46.1" y="317.5" text-anchor="end" font-size="14px">0.1</text>
<text x="46.1" y="350.8" text-anchor="end" font-size="14px">0</text>
<text x="46.1" y="383.9" text-anchor="end" font-size="14px">-0.1</text>
<path d="M87.32 394.2v2.2M87.32 294.5v-2.2M120.25 394.2v2.2M120.25 294.5v-2.2M153.17 394.2v2.2M153.17 294.5v-2.2M54.4 311.5h-2.2M186.1 311.5h2.2M54.4 344.8h-2.2M186.1 344.8h2.2M54.4 377.9h-2.2M186.1 377.9h2.2" stroke="#262626" stroke-width="1.1" fill="none"/>
<text x="54.1" y="414.8" text-anchor="middle" font-size="14px">-2</text>
<text x="87.02" y="414.8" text-anchor="middle" font-size="14px">-1</text>
<text x="120.25" y="414.8" text-anchor="middle" font-size="14px">0</text>
<text x="153.17" y="414.8" text-anchor="middle" font-size="14px">1</text>
<text x="186.1" y="414.8" text-anchor="middle" font-size="14px">2</text>
<text y="431.4" font-family="Liberation Serif, serif" font-size="14.8px" fill="#2e2e2e"><tspan font-style="italic" x="100.15">x</tspan><tspan font-style="italic" x="108.65" dy="2.3" font-size="19px">/</tspan><tspan font-style="italic" x="116.15" dy="-2.3">R</tspan><tspan x="127.95 133.95" dy="2.5" font-size="10px">TF</tspan></text>
<path d="M86.38 301.9L86.38 314.4" stroke="#ff0d0d" stroke-width="1.35" fill="none"/><path d="M86.38 320.7L84.23 313.9L88.53 313.9z" fill="#ff0d0d"/>
<path d="M105.59 301.9L105.59 314.4" stroke="#ff0d0d" stroke-width="1.35" fill="none"/><path d="M105.59 320.7L103.44 313.9L107.74 313.9z" fill="#ff0d0d"/>
<path d="M133.38 301.9L133.38 314.4" stroke="#ff0d0d" stroke-width="1.35" fill="none"/><path d="M133.38 320.7L131.23 313.9L135.53 313.9z" fill="#ff0d0d"/>
<path d="M153.82 301.9L153.82 314.4" stroke="#ff0d0d" stroke-width="1.35" fill="none"/><path d="M153.82 320.7L151.67 313.9L155.97 313.9z" fill="#ff0d0d"/>
<path d="M96.6 378.54L96.6 365.83" stroke="#ff0d0d" stroke-width="1.35" fill="none"/><path d="M96.6 359.53L98.75 366.33L94.45 366.33z" fill="#ff0d0d"/>
<path d="M141.15 378.54L141.15 365.83" stroke="#ff0d0d" stroke-width="1.35" fill="none"/><path d="M141.15 359.53L143.3 366.33L139 366.33z" fill="#ff0d0d"/>
<path d="M119.9 391.21L119.9 378.71" stroke="#f5a800" stroke-width="1.35" fill="none"/><path d="M119.9 372.41L122.05 379.21L117.75 379.21z" fill="#f5a800"/>
<path d="M204.3 344.49L205.7 344.49L207.1 344.98L208.5 344.94L209.9 344.71L211.3 344.43L212.7 344.54L214.1 344L215.5 344L216.9 343.1L218.3 342.94L219.7 342.59L221.1 342.61L222.5 342.32L223.9 343L225.3 342.62L226.7 342.43L228.1 340.88L229.5 341.01L230.9 340.86L232.3 341.19L233.7 340.23L235.1 341.73L236.5 342.43L237.9 342.2L239.3 343.94L240.7 345.83L242.1 348.2L243.5 350.59L244.9 352.81L246.3 353.04L247.7 353.9L249.1 352.31L250.5 347.51L251.9 337L253.3 324.16L254.7 314.75L256.1 312.06L257.5 315.62L258.9 325.48L260.3 337.56L261.7 347.51L263.1 353.68L264.5 356.68L265.9 358.06L267.3 358.97L268.7 360.61L270.1 362.72L271.5 362.33L272.9 361.1L274.3 359.74L275.7 358.26L277.1 357.64L278.5 357.33L279.9 356.45L281.3 352.18L282.7 344.66L284.1 332.05L285.5 318.64L286.9 310.99L288.3 311.37L289.7 318.04L291.1 329.07L292.5 342.6L293.9 349.06L295.3 353.19L296.7 353.55L298.1 351.89L299.5 350.41L300.9 348.49L302.3 346.87L303.7 343.62L305.1 343.17L306.5 341.65L307.9 341.53L309.3 341.72L310.7 341.78L312.1 341.97L313.5 341.87L314.9 342.6L316.3 342.23L317.7 342.35L319.1 342.93L320.5 342.75L321.9 343.99L323.3 344.09L324.7 344.79L326.1 344.31L327.5 344.22L328.9 344.54L330.3 344.8L331.7 344.35L333.1 344.6L334.5 344.52L335.9 345.15L337.3 344.42" stroke="#1d5c96" stroke-width="1.35" fill="none" stroke-linejoin="round"/>
<rect x="204.3" y="294.5" width="133.3" height="99.7" fill="none" stroke="#262626" stroke-width="1.25"/>
<path d="M237.62 394.2v2.2M237.62 294.5v-2.2M270.95 394.2v2.2M270.95 294.5v-2.2M304.28 394.2v2.2M304.28 294.5v-2.2M204.3 311.5h-2.2M337.6 311.5h2.2M204.3 344.8h-2.2M337.6 344.8h2.2M204.3 377.9h-2.2M337.6 377.9h2.2" stroke="#262626" stroke-width="1.1" fill="none"/>
<text x="204" y="414.8" text-anchor="middle" font-size="14px">-2</text>
<text x="237.32" y="414.8" text-anchor="middle" font-size="14px">-1</text>
<text x="270.95" y="414.8" text-anchor="middle" font-size="14px">0</text>
<text x="304.28" y="414.8" text-anchor="middle" font-size="14px">1</text>
<text x="337.6" y="414.8" text-anchor="middle" font-size="14px">2</text>
<text y="431.4" font-family="Liberation Serif, serif" font-size="14.8px" fill="#2e2e2e"><tspan font-style="italic" x="250.85">x</tspan><tspan font-style="italic" x="259.35" dy="2.3" font-size="19px">/</tspan><tspan font-style="italic" x="266.85" dy="-2.3">R</tspan><tspan x="278.65 284.65" dy="2.5" font-size="10px">TF</tspan></text>
<path d="M256.31 295.66L256.31 301.41" stroke="#ff0d0d" stroke-width="1.35" fill="none"/><path d="M256.31 307.71L254.16 300.91L258.46 300.91z" fill="#ff0d0d"/>
<path d="M287.4 295.66L287.4 301.41" stroke="#ff0d0d" stroke-width="1.35" fill="none"/><path d="M287.4 307.71L285.25 300.91L289.55 300.91z" fill="#ff0d0d"/>
<path d="M237.7 314.71L237.7 326.59" stroke="#ff0d0d" stroke-width="1.35" fill="none"/><path d="M237.7 332.89L235.55 326.09L239.85 326.09z" fill="#ff0d0d"/>
<path d="M305.14 314.71L305.14 326.59" stroke="#ff0d0d" stroke-width="1.35" fill="none"/><path d="M305.14 332.89L302.99 326.09L307.29 326.09z" fill="#ff0d0d"/>
<path d="M249.3 384.34L249.3 372.03" stroke="#ff0d0d" stroke-width="1.35" fill="none"/><path d="M249.3 365.73L251.45 372.53L247.15 372.53z" fill="#ff0d0d"/>
<path d="M294.19 384.34L294.19 372.03" stroke="#ff0d0d" stroke-width="1.35" fill="none"/><path d="M294.19 365.73L296.34 372.53L292.04 372.53z" fill="#ff0d0d"/>
<path d="M271.2 390.91L271.2 378.6" stroke="#f5a800" stroke-width="1.35" fill="none"/><path d="M271.2 372.3L273.35 379.1L269.05 379.1z" fill="#f5a800"/>
<path d="M397.1 347.08L398.5 346.9L399.9 346.96L401.3 345.96L402.7 343.33L404.1 344L405.5 345.18L406.9 343.41L408.3 343.01L409.7 343.94L411.1 341.26L412.5 339.67L413.9 337.98L415.3 334.76L416.7 339.4L418.1 338.62L419.5 345.15L420.9 349.61L422.3 355.97L423.7 358.24L425.1 360.25L426.5 365.3L427.9 361.39L429.3 357.84L430.7 354.11L432.1 349.75L433.5 345.41L434.9 340.66L436.3 339.08L437.7 335.5L439.1 339.02L440.5 338.11L441.9 341.27L443.3 343.48L444.7 341.32L446.1 347.13L447.5 351.59L448.9 353.66L450.3 359.16L451.7 358.23L453.1 352.2L454.5 350.73L455.9 348.2L457.3 347.74L458.7 345.19L460.1 348.26L461.5 350.62L462.9 350.25L464.3 355.1L465.7 358.8L467.1 360.6L468.5 366.34L469.9 366.61L471.3 362.54L472.7 360.01L474.1 359.68L475.5 364.78L476.9 365.37L478.3 363.82L479.7 362.63L481.1 359.75L482.5 361.13L483.9 355.13L485.3 354.23L486.7 351.69L488.1 351.27L489.5 348.06L490.9 353.78L492.3 354.5L493.7 358.75L495.1 361.64L496.5 365.67L497.9 371.39L499.3 375.89L500.7 377.53L502.1 376.55L503.5 372.46L504.9 365.51L506.3 360.88L507.7 356.19L509.1 351.48L510.5 350.66L511.9 350.05L513.3 346.78L514.7 343.49L516.1 345.67L517.5 350.55L518.9 346.53L520.3 345.9L521.7 348.32L523.1 351.48L524.5 345.08L525.9 346.14L527.3 349.66L528.7 345.31L530.1 345.44" stroke="#1d5c96" stroke-width="1.35" fill="none" stroke-linejoin="round"/>
<rect x="397.1" y="294.6" width="133.1" height="99.8" fill="none" stroke="#262626" stroke-width="1.25"/>
<text x="388.8" y="327.9" text-anchor="end" font-size="14px">0.05</text>
<text x="388.8" y="355.7" text-anchor="end" font-size="14px">0</text>
<text x="388.8" y="383.6" text-anchor="end" font-size="14px">-0.05</text>
<path d="M430.38 394.4v2.2M430.38 294.6v-2.2M463.65 394.4v2.2M463.65 294.6v-2.2M496.93 394.4v2.2M496.93 294.6v-2.2M397.1 321.9h-2.2M530.2 321.9h2.2M397.1 349.7h-2.2M530.2 349.7h2.2M397.1 377.6h-2.2M530.2 377.6h2.2" stroke="#262626" stroke-width="1.1" fill="none"/>
<text x="396.8" y="414.8" text-anchor="middle" font-size="14px">-2</text>
<text x="430.07" y="414.8" text-anchor="middle" font-size="14px">-1</text>
<text x="463.65" y="414.8" text-anchor="middle" font-size="14px">0</text>
<text x="496.93" y="414.8" text-anchor="middle" font-size="14px">1</text>
<text x="530.2" y="414.8" text-anchor="middle" font-size="14px">2</text>
<text y="431.4" font-family="Liberation Serif, serif" font-size="14.8px" fill="#2e2e2e"><tspan font-style="italic" x="443.55">x</tspan><tspan font-style="italic" x="452.05" dy="2.3" font-size="19px">/</tspan><tspan font-style="italic" x="459.55" dy="-2.3">R</tspan><tspan x="471.35 477.35" dy="2.5" font-size="10px">TF</tspan></text>
<path d="M415.18 307.69L415.18 323.16" stroke="#ff0d0d" stroke-width="1.35" fill="none"/><path d="M415.18 329.46L413.03 322.66L417.33 322.66z" fill="#ff0d0d"/>
<path d="M518.41 311.22L518.41 328.34" stroke="#ff0d0d" stroke-width="1.35" fill="none"/><path d="M518.41 334.64L516.26 327.84L520.56 327.84z" fill="#ff0d0d"/>
<path d="M437.57 302.1L437.57 313.83" stroke="#000000" stroke-width="1.35" fill="none"/><path d="M437.57 320.13L435.42 313.33L439.72 313.33z" fill="#000000"/>
<path d="M491.05 302.1L491.05 313.83" stroke="#000000" stroke-width="1.35" fill="none"/><path d="M491.05 320.13L488.9 313.33L493.2 313.33z" fill="#000000"/>
<path d="M449.38 391.03L449.38 378.88" stroke="#f5a800" stroke-width="1.35" fill="none"/><path d="M449.38 372.58L451.53 379.38L447.23 379.38z" fill="#f5a800"/>
<path d="M478.41 391.03L478.41 378.88" stroke="#f5a800" stroke-width="1.35" fill="none"/><path d="M478.41 372.58L480.56 379.38L476.26 379.38z" fill="#f5a800"/>
<path d="M428.66 400.98L428.66 388.62" stroke="#ff0d0d" stroke-width="1.35" fill="none"/><path d="M428.66 382.32L430.81 389.12L426.51 389.12z" fill="#ff0d0d"/>
<path d="M500.17 400.98L500.17 388.62" stroke="#ff0d0d" stroke-width="1.35" fill="none"/><path d="M500.17 382.32L502.32 389.12L498.02 389.12z" fill="#ff0d0d"/>
<path d="M549 350.87L550.4 350.21L551.8 350.18L553.2 348.96L554.6 348.88L556 350.03L557.4 348.72L558.8 349.67L560.2 348.73L561.6 348.91L563 348.36L564.4 346.84L565.8 347.2L567.2 347.63L568.6 346.78L570 346.18L571.4 346.71L572.8 346.08L574.2 345.1L575.6 345.18L577 345.85L578.4 347.16L579.8 350.39L581.2 354.4L582.6 357.9L584 360.96L585.4 364.11L586.8 367.56L588.2 370.3L589.6 371.15L591 370.48L592.4 368.22L593.8 367.59L595.2 369.53L596.6 367.16L598 358.14L599.4 347.97L600.8 344.97L602.2 341.96L603.6 339.65L605 338.07L606.4 335.12L607.8 333.95L609.2 331.01L610.6 327.63L612 325.76L613.4 323.34L614.8 321L616.2 320.63L617.6 320.09L619 321.08L620.4 326.95L621.8 329.97L623.2 334.31L624.6 336.72L626 339.44L627.4 343.84L628.8 345.6L630.2 348.56L631.6 350.76L633 355.33L634.4 362.08L635.8 369.1L637.2 373.99L638.6 372.99L640 372.18L641.4 373.43L642.8 376.39L644.2 372.84L645.6 368.74L647 365.24L648.4 360.63L649.8 357.47L651.2 354.66L652.6 352.83L654 350.6L655.4 349.27L656.8 347.19L658.2 346.96L659.6 348.16L661 347.25L662.4 346.86L663.8 346.37L665.2 347.11L666.6 347.01L668 346.83L669.4 348.46L670.8 349.32L672.2 349.77L673.6 348.94L675 349.91L676.4 349.67L677.8 349.59L679.2 349.58L680.6 349.95" stroke="#1d5c96" stroke-width="1.35" fill="none" stroke-linejoin="round"/>
<rect x="549" y="294.8" width="132.8" height="99.2" fill="none" stroke="#262626" stroke-width="1.25"/>
<path d="M582.2 394v2.2M582.2 294.8v-2.2M615.4 394v2.2M615.4 294.8v-2.2M648.6 394v2.2M648.6 294.8v-2.2M549 322.2h-2.2M681.8 322.2h2.2M549 349.9h-2.2M681.8 349.9h2.2M549 377.4h-2.2M681.8 377.4h2.2" stroke="#262626" stroke-width="1.1" fill="none"/>
<text x="548.7" y="414.8" text-anchor="middle" font-size="14px">-2</text>
<text x="581.9" y="414.8" text-anchor="middle" font-size="14px">-1</text>
<text x="615.4" y="414.8" text-anchor="middle" font-size="14px">0</text>
<text x="648.6" y="414.8" text-anchor="middle" font-size="14px">1</text>
<text x="681.8" y="414.8" text-anchor="middle" font-size="14px">2</text>
<text y="431.4" font-family="Liberation Serif, serif" font-size="14.8px" fill="#2e2e2e"><tspan font-style="italic" x="595.3">x</tspan><tspan font-style="italic" x="603.8" dy="2.3" font-size="19px">/</tspan><tspan font-style="italic" x="611.3" dy="-2.3">R</tspan><tspan x="623.1 629.1" dy="2.5" font-size="10px">TF</tspan></text>
<path d="M571.75 315.1L571.75 331.45" stroke="#ff0d0d" stroke-width="1.35" fill="none"/><path d="M571.75 337.75L569.6 330.95L573.9 330.95z" fill="#ff0d0d"/>
<path d="M665.32 316.58L665.32 332.5" stroke="#ff0d0d" stroke-width="1.35" fill="none"/><path d="M665.32 338.8L663.17 332L667.47 332z" fill="#ff0d0d"/>
<path d="M593.56 334.15L593.56 351.56" stroke="#000000" stroke-width="1.35" fill="none"/><path d="M593.56 357.86L591.41 351.06L595.71 351.06z" fill="#000000"/>
<path d="M640.76 334.99L640.76 352.61" stroke="#000000" stroke-width="1.35" fill="none"/><path d="M640.76 358.91L638.61 352.11L642.91 352.11z" fill="#000000"/>
<path d="M589.96 398.08L589.96 384.27" stroke="#ff0d0d" stroke-width="1.35" fill="none"/><path d="M589.96 377.97L592.11 384.77L587.81 384.77z" fill="#ff0d0d"/>
<path d="M643.09 398.08L643.09 384.27" stroke="#ff0d0d" stroke-width="1.35" fill="none"/><path d="M643.09 377.97L645.24 384.77L640.94 384.77z" fill="#ff0d0d"/>
<path d="M595.04 398.08L595.04 384.27" stroke="#f5a800" stroke-width="1.35" fill="none"/><path d="M595.04 377.97L597.19 384.77L592.89 384.77z" fill="#f5a800"/>
<path d="M637.38 398.08L637.38 384.27" stroke="#f5a800" stroke-width="1.35" fill="none"/><path d="M637.38 377.97L639.53 384.77L635.23 384.77z" fill="#f5a800"/>
<text transform="translate(15.5 354.2) rotate(-90)" font-family="Liberation Serif, serif" font-size="15px" fill="#2e2e2e"><tspan x="0.3">&#916;</tspan><tspan x="11.4" font-style="italic">n</tspan></text>
<path d="M7.3 341.2V336.2" stroke="#2e2e2e" stroke-width="0.8"/>
<path d="M54.2 486.65H76.94M164.7 486.65H186.9" stroke="#1d5c96" stroke-width="1.4" fill="none"/>
<path d="M76.64 486.65L77.62 483.03L78.6 479.45L79.58 475.94L80.56 472.56L81.55 469.32L82.53 466.28L83.51 463.46L84.49 460.9L85.47 458.62L86.46 456.64L87.44 455L88.42 453.7L89.4 452.76L90.38 452.19L91.36 452L92.35 452.19L93.33 452.76L94.31 453.7L95.29 455L96.27 456.64L97.26 458.62L98.24 460.9L99.22 463.46L100.2 466.28L101.18 469.32L102.16 472.56L103.15 475.94L104.13 479.45L105.11 483.03L106.09 486.65L107.07 490.27L108.06 493.85L109.04 497.36L110.02 500.74L111 503.97L111.98 507.02L112.96 509.84L113.95 512.4L114.93 514.68L115.91 516.66L116.89 518.3L117.87 519.6L118.85 520.54L119.84 521.11L120.82 521.3L121.8 521.11L122.78 520.54L123.76 519.6L124.75 518.3L125.73 516.66L126.71 514.68L127.69 512.4L128.67 509.84L129.65 507.02L130.64 503.97L131.62 500.74L132.6 497.36L133.58 493.85L134.56 490.27L135.55 486.65L136.53 483.03L137.51 479.45L138.49 475.94L139.47 472.56L140.45 469.32L141.44 466.28L142.42 463.46L143.4 460.9L144.38 458.62L145.36 456.64L146.35 455L147.33 453.7L148.31 452.76L149.29 452.19L150.27 452L151.25 452.19L152.24 452.76L153.22 453.7L154.2 455L155.18 456.64L156.16 458.62L157.15 460.9L158.13 463.46L159.11 466.28L160.09 469.32L161.07 472.56L162.05 475.94L163.04 479.45L164.02 483.03L165 486.65" stroke="#4f9a18" stroke-width="1.5" fill="none" stroke-linejoin="round"/>
<rect x="54.2" y="452" width="132.7" height="69.3" fill="none" stroke="#6e6e6e" stroke-width="0.6"/>
<text x="59.4" y="540.2" text-anchor="middle" font-size="14px">-0.2</text>
<text x="111.95" y="540.2" text-anchor="middle" font-size="14px">-0.1</text>
<text x="165" y="540.2" text-anchor="middle" font-size="14px">0</text>
<path d="M59.9 521.3v-1.5M59.9 452v1.5M112.45 521.3v-1.5M112.45 452v1.5M165 521.3v-1.5M165 452v1.5M54.2 452h1.5M186.9 452h-1.5M54.2 486.65h1.5M186.9 486.65h-1.5M54.2 521.3h1.5M186.9 521.3h-1.5" stroke="#6e6e6e" stroke-width="0.6" fill="none"/>
<text y="556.3" font-family="Liberation Serif, serif" font-size="14.6px" fill="#2e2e2e"><tspan font-style="italic" x="98.9 103.5">t&#969;</tspan><tspan x="112.9" dy="2.6" font-size="10.2px" font-style="italic">x</tspan><tspan x="119.7" dy="-0.4" font-size="19px" font-style="italic">/</tspan><tspan x="126.5" dy="-2.2" font-size="14.2px">2</tspan><tspan x="133.9" font-style="italic">&#960;</tspan></text>
<path d="M204.3 486.65H227.25M315.6 486.65H337.3" stroke="#1d5c96" stroke-width="1.4" fill="none"/>
<path d="M226.95 486.65L227.94 483.03L228.93 479.45L229.91 475.94L230.9 472.56L231.89 469.32L232.88 466.28L233.87 463.46L234.86 460.9L235.84 458.62L236.83 456.64L237.82 455L238.81 453.7L239.8 452.76L240.79 452.19L241.77 452L242.76 452.19L243.75 452.76L244.74 453.7L245.73 455L246.72 456.64L247.7 458.62L248.69 460.9L249.68 463.46L250.67 466.28L251.66 469.32L252.65 472.56L253.63 475.94L254.62 479.45L255.61 483.03L256.6 486.65L257.59 490.27L258.58 493.85L259.56 497.36L260.55 500.74L261.54 503.97L262.53 507.02L263.52 509.84L264.51 512.4L265.49 514.68L266.48 516.66L267.47 518.3L268.46 519.6L269.45 520.54L270.44 521.11L271.42 521.3L272.41 521.11L273.4 520.54L274.39 519.6L275.38 518.3L276.37 516.66L277.35 514.68L278.34 512.4L279.33 509.84L280.32 507.02L281.31 503.97L282.3 500.74L283.28 497.36L284.27 493.85L285.26 490.27L286.25 486.65L287.24 483.03L288.23 479.45L289.21 475.94L290.2 472.56L291.19 469.32L292.18 466.28L293.17 463.46L294.16 460.9L295.14 458.62L296.13 456.64L297.12 455L298.11 453.7L299.1 452.76L300.09 452.19L301.07 452L302.06 452.19L303.05 452.76L304.04 453.7L305.03 455L306.02 456.64L307 458.62L307.99 460.9L308.98 463.46L309.97 466.28L310.96 469.32L311.95 472.56L312.93 475.94L313.92 479.45L314.91 483.03L315.9 486.65" stroke="#4f9a18" stroke-width="1.5" fill="none" stroke-linejoin="round"/>
<rect x="204.3" y="452" width="133" height="69.3" fill="none" stroke="#6e6e6e" stroke-width="0.6"/>
<text x="209.6" y="540.2" text-anchor="middle" font-size="14px">-0.2</text>
<text x="262.5" y="540.2" text-anchor="middle" font-size="14px">-0.1</text>
<text x="315.9" y="540.2" text-anchor="middle" font-size="14px">0</text>
<path d="M210.1 521.3v-1.5M210.1 452v1.5M263 521.3v-1.5M263 452v1.5M315.9 521.3v-1.5M315.9 452v1.5M204.3 452h1.5M337.3 452h-1.5M204.3 486.65h1.5M337.3 486.65h-1.5M204.3 521.3h1.5M337.3 521.3h-1.5" stroke="#6e6e6e" stroke-width="0.6" fill="none"/>
<text y="556.3" font-family="Liberation Serif, serif" font-size="14.6px" fill="#2e2e2e"><tspan font-style="italic" x="249.15 253.75">t&#969;</tspan><tspan x="263.15" dy="2.6" font-size="10.2px" font-style="italic">x</tspan><tspan x="269.95" dy="-0.4" font-size="19px" font-style="italic">/</tspan><tspan x="276.75" dy="-2.2" font-size="14.2px">2</tspan><tspan x="284.15" font-style="italic">&#960;</tspan></text>
<path d="M397 486.65H423.37M500.9 486.65H529.9" stroke="#1d5c96" stroke-width="1.4" fill="none"/>
<path d="M423.07 486.65L424.37 483.03L425.67 479.45L426.97 475.94L428.28 472.56L429.58 469.32L430.88 466.28L432.18 463.46L433.48 460.9L434.79 458.62L436.09 456.64L437.39 455L438.69 453.7L440 452.76L441.3 452.19L442.6 452L443.9 452.19L445.2 452.76L446.51 453.7L447.81 455L449.11 456.64L450.41 458.62L451.72 460.9L453.02 463.46L454.32 466.28L455.62 469.32L456.92 472.56L458.23 475.94L459.53 479.45L460.83 483.03L462.13 486.65L463.44 490.27L464.74 493.85L466.04 497.36L467.34 500.74L468.64 503.97L469.95 507.02L471.25 509.84L472.55 512.4L473.85 514.68L475.16 516.66L476.46 518.3L477.76 519.6L479.06 520.54L480.36 521.11L481.67 521.3L482.97 521.11L484.27 520.54L485.57 519.6L486.88 518.3L488.18 516.66L489.48 514.68L490.78 512.4L492.08 509.84L493.39 507.02L494.69 503.97L495.99 500.74L497.29 497.36L498.6 493.85L499.9 490.27L501.2 486.65" stroke="#4f9a18" stroke-width="1.5" fill="none" stroke-linejoin="round"/>
<rect x="397" y="452" width="132.9" height="69.3" fill="none" stroke="#6e6e6e" stroke-width="0.6"/>
<text x="431" y="540.2" text-anchor="middle" font-size="14px">-0.1</text>
<text x="465.85" y="540.2" text-anchor="middle" font-size="14px">-0.05</text>
<text x="501.2" y="540.2" text-anchor="middle" font-size="14px">0</text>
<path d="M431.5 521.3v-1.5M431.5 452v1.5M466.35 521.3v-1.5M466.35 452v1.5M501.2 521.3v-1.5M501.2 452v1.5M397 452h1.5M529.9 452h-1.5M397 486.65h1.5M529.9 486.65h-1.5M397 521.3h1.5M529.9 521.3h-1.5" stroke="#6e6e6e" stroke-width="0.6" fill="none"/>
<text y="556.3" font-family="Liberation Serif, serif" font-size="14.6px" fill="#2e2e2e"><tspan font-style="italic" x="441.8 446.4">t&#969;</tspan><tspan x="455.8" dy="2.6" font-size="10.2px" font-style="italic">x</tspan><tspan x="462.6" dy="-0.4" font-size="19px" font-style="italic">/</tspan><tspan x="469.4" dy="-2.2" font-size="14.2px">2</tspan><tspan x="476.8" font-style="italic">&#960;</tspan></text>
<path d="M549.4 486.65H574.67M653.1 486.65H681.7" stroke="#1d5c96" stroke-width="1.4" fill="none"/>
<path d="M574.37 486.65L575.69 483.03L577 479.45L578.32 475.94L579.64 472.56L580.96 469.32L582.27 466.28L583.59 463.46L584.91 460.9L586.22 458.62L587.54 456.64L588.86 455L590.18 453.7L591.49 452.76L592.81 452.19L594.13 452L595.44 452.19L596.76 452.76L598.08 453.7L599.4 455L600.71 456.64L602.03 458.62L603.35 460.9L604.66 463.46L605.98 466.28L607.3 469.32L608.62 472.56L609.93 475.94L611.25 479.45L612.57 483.03L613.88 486.65L615.2 490.27L616.52 493.85L617.84 497.36L619.15 500.74L620.47 503.97L621.79 507.02L623.1 509.84L624.42 512.4L625.74 514.68L627.06 516.66L628.37 518.3L629.69 519.6L631.01 520.54L632.33 521.11L633.64 521.3L634.96 521.11L636.28 520.54L637.59 519.6L638.91 518.3L640.23 516.66L641.55 514.68L642.86 512.4L644.18 509.84L645.5 507.02L646.81 503.97L648.13 500.74L649.45 497.36L650.77 493.85L652.08 490.27L653.4 486.65" stroke="#4f9a18" stroke-width="1.5" fill="none" stroke-linejoin="round"/>
<rect x="549.4" y="452" width="132.3" height="69.3" fill="none" stroke="#6e6e6e" stroke-width="0.6"/>
<text x="582.4" y="540.2" text-anchor="middle" font-size="14px">-0.1</text>
<text x="617.65" y="540.2" text-anchor="middle" font-size="14px">-0.05</text>
<text x="653.4" y="540.2" text-anchor="middle" font-size="14px">0</text>
<path d="M582.9 521.3v-1.5M582.9 452v1.5M618.15 521.3v-1.5M618.15 452v1.5M653.4 521.3v-1.5M653.4 452v1.5M549.4 452h1.5M681.7 452h-1.5M549.4 486.65h1.5M681.7 486.65h-1.5M549.4 521.3h1.5M681.7 521.3h-1.5" stroke="#6e6e6e" stroke-width="0.6" fill="none"/>
<text y="556.3" font-family="Liberation Serif, serif" font-size="14.6px" fill="#2e2e2e"><tspan font-style="italic" x="593.9 598.5">t&#969;</tspan><tspan x="607.9" dy="2.6" font-size="10.2px" font-style="italic">x</tspan><tspan x="614.7" dy="-0.4" font-size="19px" font-style="italic">/</tspan><tspan x="621.5" dy="-2.2" font-size="14.2px">2</tspan><tspan x="628.9" font-style="italic">&#960;</tspan></text>
<text x="48.4" y="457.6" text-anchor="end" font-size="14px">2</text>
<text x="48.4" y="492.25" text-anchor="end" font-size="14px">1</text>
<text x="48.4" y="526.9" text-anchor="end" font-size="14px">0</text>
<text transform="translate(29.1 492.4) rotate(-90)" font-style="italic" font-size="14px">I/I<tspan dy="7" font-size="11.2px" font-style="normal">0</tspan></text>
</svg>
</body></html>
